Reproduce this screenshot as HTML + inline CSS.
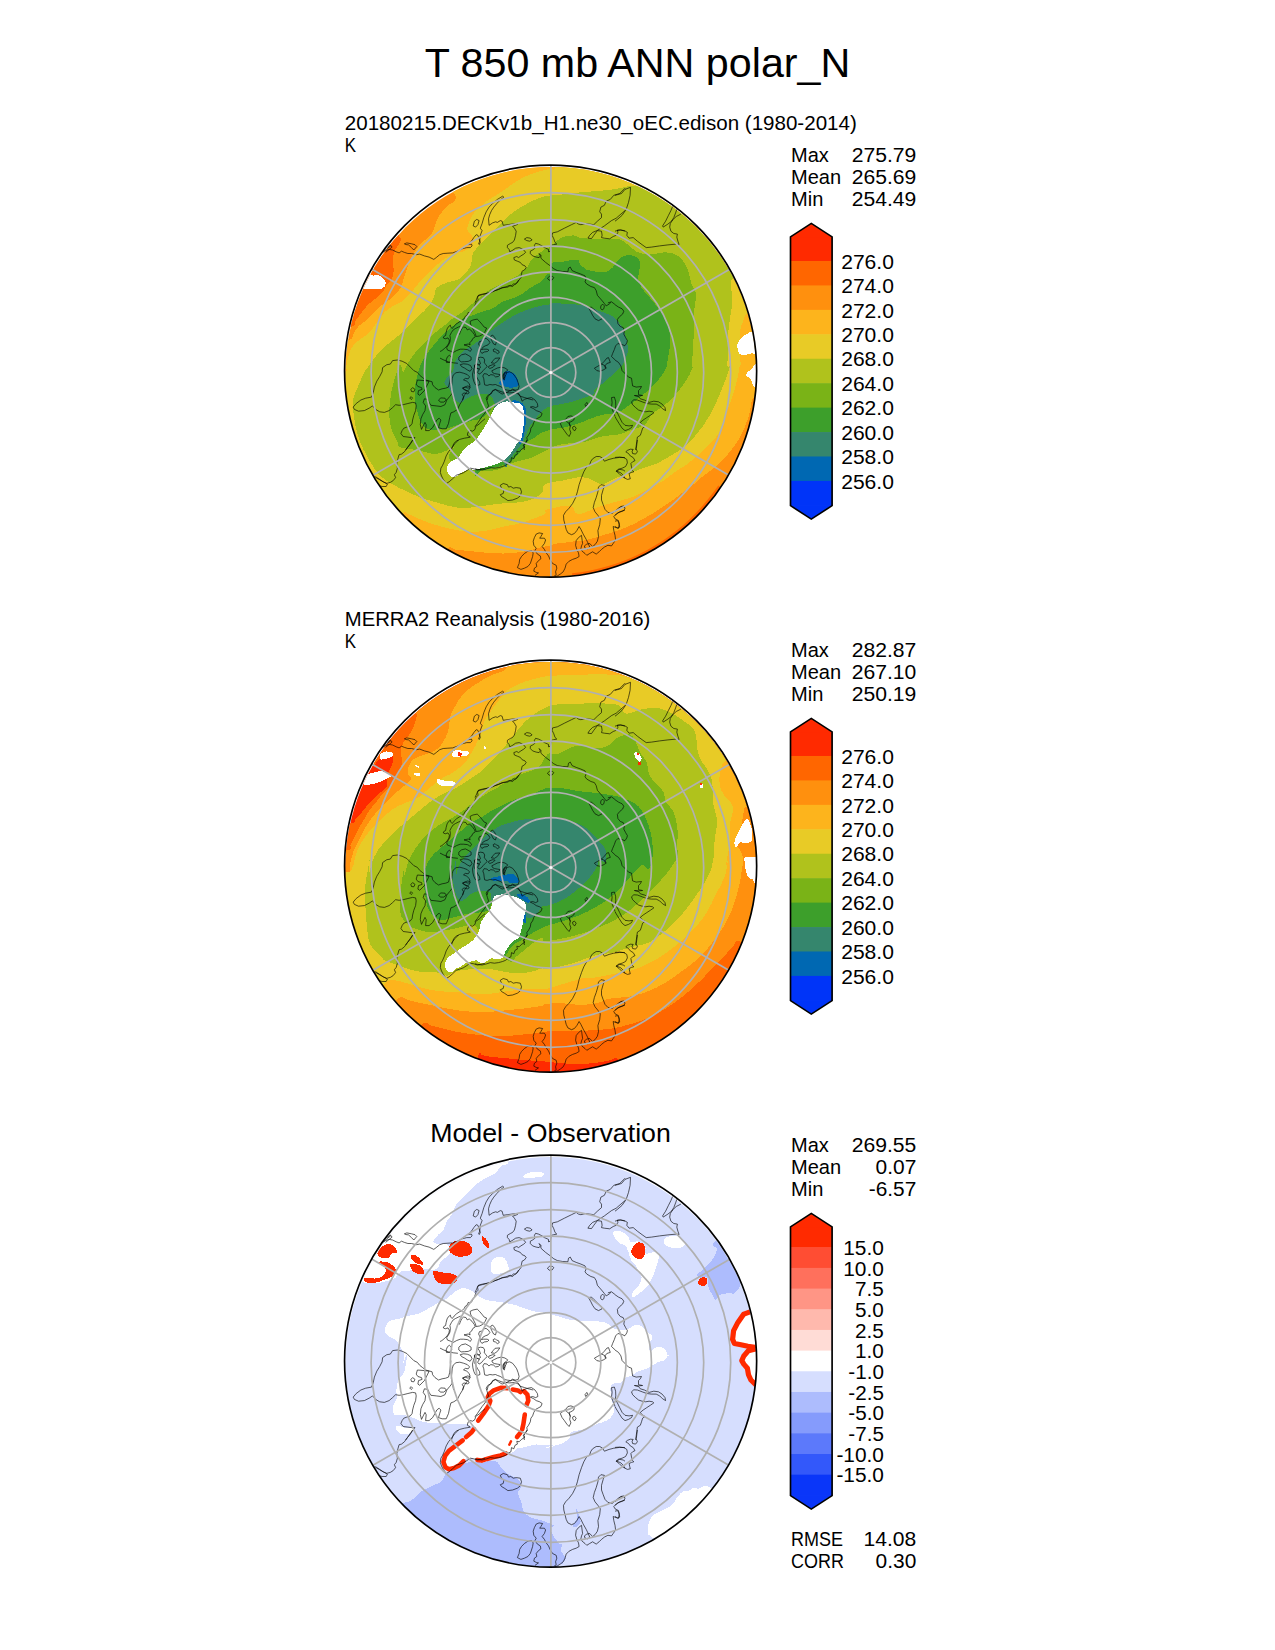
<!DOCTYPE html><html><head><meta charset="utf-8"><title>T 850 mb ANN polar_N</title>
<style>html,body{margin:0;padding:0;background:#fff}svg{display:block}text{font-family:"Liberation Sans",sans-serif;fill:#000}</style></head><body>
<svg width="1275" height="1650" viewBox="0 0 1275 1650">
<rect width="1275" height="1650" fill="#fff"/>
<text x="637.5" y="76.9" font-size="39.75" text-anchor="middle" textLength="425.6" lengthAdjust="spacingAndGlyphs">T 850 mb ANN polar_N</text>
<text x="344.8" y="129.6" font-size="19.88" text-anchor="start" textLength="512.0" lengthAdjust="spacingAndGlyphs">20180215.DECKv1b_H1.ne30_oEC.edison (1980-2014)</text>
<text x="344.8" y="152.0" font-size="19.88" text-anchor="start" textLength="11.3" lengthAdjust="spacingAndGlyphs">K</text>
<text x="344.8" y="625.7" font-size="19.88" text-anchor="start" textLength="305.5" lengthAdjust="spacingAndGlyphs">MERRA2 Reanalysis (1980-2016)</text>
<text x="344.8" y="647.9" font-size="19.88" text-anchor="start" textLength="11.3" lengthAdjust="spacingAndGlyphs">K</text>
<text x="550.5" y="1141.5" font-size="25.40" text-anchor="middle" textLength="240.7" lengthAdjust="spacingAndGlyphs">Model - Observation</text>
<text x="791.0" y="161.6" font-size="19.88" text-anchor="start" textLength="37.8" lengthAdjust="spacingAndGlyphs">Max</text>
<text x="916.3" y="161.6" font-size="19.88" text-anchor="end" textLength="64.6" lengthAdjust="spacingAndGlyphs">275.79</text>
<text x="791.0" y="183.8" font-size="19.88" text-anchor="start" textLength="50.1" lengthAdjust="spacingAndGlyphs">Mean</text>
<text x="916.3" y="183.8" font-size="19.88" text-anchor="end" textLength="64.6" lengthAdjust="spacingAndGlyphs">265.69</text>
<text x="791.0" y="206.0" font-size="19.88" text-anchor="start" textLength="32.3" lengthAdjust="spacingAndGlyphs">Min</text>
<text x="916.3" y="206.0" font-size="19.88" text-anchor="end" textLength="64.6" lengthAdjust="spacingAndGlyphs">254.49</text>
<text x="791.0" y="656.6" font-size="19.88" text-anchor="start" textLength="37.8" lengthAdjust="spacingAndGlyphs">Max</text>
<text x="916.3" y="656.6" font-size="19.88" text-anchor="end" textLength="64.6" lengthAdjust="spacingAndGlyphs">282.87</text>
<text x="791.0" y="678.8" font-size="19.88" text-anchor="start" textLength="50.1" lengthAdjust="spacingAndGlyphs">Mean</text>
<text x="916.3" y="678.8" font-size="19.88" text-anchor="end" textLength="64.6" lengthAdjust="spacingAndGlyphs">267.10</text>
<text x="791.0" y="701.0" font-size="19.88" text-anchor="start" textLength="32.3" lengthAdjust="spacingAndGlyphs">Min</text>
<text x="916.3" y="701.0" font-size="19.88" text-anchor="end" textLength="64.6" lengthAdjust="spacingAndGlyphs">250.19</text>
<text x="791.0" y="1151.6" font-size="19.88" text-anchor="start" textLength="37.8" lengthAdjust="spacingAndGlyphs">Max</text>
<text x="916.3" y="1151.6" font-size="19.88" text-anchor="end" textLength="64.6" lengthAdjust="spacingAndGlyphs">269.55</text>
<text x="791.0" y="1173.8" font-size="19.88" text-anchor="start" textLength="50.1" lengthAdjust="spacingAndGlyphs">Mean</text>
<text x="916.3" y="1173.8" font-size="19.88" text-anchor="end" textLength="40.7" lengthAdjust="spacingAndGlyphs">0.07</text>
<text x="791.0" y="1196.0" font-size="19.88" text-anchor="start" textLength="32.3" lengthAdjust="spacingAndGlyphs">Min</text>
<text x="916.3" y="1196.0" font-size="19.88" text-anchor="end" textLength="47.5" lengthAdjust="spacingAndGlyphs">-6.57</text>
<text x="791.0" y="1546.0" font-size="19.88" text-anchor="start" textLength="52.0" lengthAdjust="spacingAndGlyphs">RMSE</text>
<text x="916.3" y="1546.0" font-size="19.88" text-anchor="end" textLength="52.7" lengthAdjust="spacingAndGlyphs">14.08</text>
<text x="791.0" y="1568.0" font-size="19.88" text-anchor="start" textLength="52.9" lengthAdjust="spacingAndGlyphs">CORR</text>
<text x="916.3" y="1568.0" font-size="19.88" text-anchor="end" textLength="40.7" lengthAdjust="spacingAndGlyphs">0.30</text>
<clipPath id="cp0"><circle cx="550.6" cy="371.1" r="206.05"/></clipPath>
<g clip-path="url(#cp0)">
<circle cx="550.9" cy="372.5" r="205.4" fill="#ff900e"/>
<clipPath id="dp0"><circle cx="550.9" cy="372.5" r="205.4"/></clipPath>
<g clip-path="url(#dp0)">
<path d="M399.7 236.8 C402.6 239.9 401.3 238.9 400.6 241.1 C399.8 243.3 396.7 246.8 395.4 249.7 C394.1 252.6 393.1 254.9 392.8 258.4 C392.5 261.8 393.8 267 393.7 270.4 C393.5 273.9 393.1 276.8 391.9 279.1 C390.8 281.4 388.2 282.2 386.8 284.2 C385.3 286.2 385 288.8 383.3 291.1 C381.6 293.4 379 295.7 376.4 298 C373.8 300.3 370.4 302.4 367.8 304.9 C365.2 307.5 362.9 311 360.9 313.6 C358.9 316.2 357.1 318.3 355.7 320.5 C354.3 322.6 356.3 326.3 352.3 326.5 C348.3 326.7 333.2 328.5 331.7 321.8 C330.2 315 338.4 297.4 343.3 285.8 C348.1 274.2 354 262.9 360.7 252.3 C367.4 241.7 377 224.8 383.5 222.2 C390 219.6 396.9 233.6 399.7 236.8Z" fill="#ff6600" shape-rendering="crispEdges"/>
<path d="M741.6 501.1 L735.8 509.3 L729.6 517.2 L723.2 524.9 L716.3 532.3 L709.2 539.3 L701.8 546.1 L694.1 552.5 L686.1 558.6 L677.8 564.3 L669.4 569.6 L660.6 574.6 L651.7 579.2 L642.6 583.4 L633.3 587.2 L623.9 590.6 L614.3 593.6 L604.6 596.1 L594.8 598.3 L584.9 600 L574.9 601.2 L572 573.3 L580.7 572.2 L589.4 570.7 L598 568.8 L606.6 566.6 L615 564 L623.3 561 L631.4 557.7 L639.4 554 L647.2 549.9 L654.9 545.6 L662.3 540.9 L669.6 535.8 L676.6 530.5 L683.4 524.9 L689.9 519 L696.1 512.8 L702.1 506.3 L707.8 499.6 L713.2 492.6 L718.3 485.4Z" fill="#ff6600"/>
<path d="M754.6 396.1 C750.3 399.1 751.1 409.9 748.6 416.8 C746.2 423.7 743.1 431.6 740 437.5 C736.8 443.4 733 447.9 729.6 452.1 C726.3 456.3 723.1 459.6 720 462.7 C716.8 465.7 713.9 468 710.6 470.6 C707.4 473.2 703.6 475.6 700.6 478 C697.7 480.4 696 482.5 693 484.9 C690.1 487.3 686.4 489.8 683 492.3 C679.7 494.8 676.4 497.5 673 499.9 C669.7 502.3 666.2 504.6 662.9 506.8 C659.5 509.1 656.2 511.4 652.8 513.4 C649.5 515.4 646.2 517.2 642.8 519.1 C639.5 520.9 636.2 522.9 632.8 524.4 C629.5 526 626.2 527.3 622.8 528.6 C619.5 529.9 616.2 531.3 612.8 532.4 C609.4 533.5 606 534.3 602.6 535.3 C599.3 536.3 596 537.5 592.6 538.4 C589.3 539.3 586 540.3 582.6 540.8 C579.3 541.3 575.5 541.2 572.6 541.5 C569.7 541.8 567.5 542.4 565 542.7 C562.5 543 560 543 557.6 543.4 C555.2 543.8 553 544.8 550.9 545.3 C548.8 545.8 546.5 546.2 545 546.5 C543.5 546.8 545.4 546.2 542.1 547 C538.7 547.8 530.6 550.3 524.8 551.4 C519.1 552.4 513.3 553.1 507.5 553.4 C501.8 553.7 496 553.4 490.3 553.1 C484.5 552.7 478.8 551.9 473 551.4 C467.3 550.8 460 550.1 455.8 549.6 C451.6 549.1 451.1 545.4 448 548.2 C444.9 551.1 443.7 566.8 437.2 566.7 C430.8 566.5 418.1 554.5 409.4 547.4 C400.7 540.4 392.4 532.5 384.8 524.2 C377.2 515.9 370.2 507 363.9 497.6 C357.6 488.3 352 478.4 347.3 468.2 C342.5 458 338.4 447.3 335.2 436.6 C332 425.8 329.6 414.6 328 403.5 C326.5 392.4 325.8 381 325.9 369.7 C326.1 358.5 324.9 341.1 328.9 336 C332.8 331 345.5 340 349.7 339.5 C353.9 338.9 352.4 334.8 354 332.5 C355.6 330.2 357.1 327.7 359.2 325.6 C361.2 323.6 363.8 322.5 366.1 320.5 C368.4 318.5 370.7 315.9 373 313.6 C375.3 311.3 377.6 308.7 379.9 306.7 C382.2 304.7 384.5 303.2 386.8 301.5 C389.1 299.8 391.4 298.6 393.7 296.3 C396 294 398.8 290.8 400.6 287.7 C402.3 284.5 402.9 280.8 404 277.3 C405.2 273.9 406.3 270.1 407.5 267 C408.6 263.8 409.5 261.2 410.9 258.4 C412.4 255.5 414.4 252.3 416.1 249.7 C417.8 247.1 419.3 244.8 421.3 242.8 C423.3 240.8 426.2 239.7 428.2 237.6 C430.2 235.6 431.9 233.6 433.4 230.7 C434.8 227.9 435.4 223.6 436.8 220.4 C438.2 217.2 440 214.4 442 211.8 C444 209.2 446.6 207.3 448.9 204.9 C451.2 202.4 456.7 202.1 455.8 197.1 C454.9 192.1 440.7 180.7 443.6 174.7 C446.6 168.7 463.2 165 473.5 161.2 C483.7 157.5 494.3 154.5 504.9 152.3 C515.6 150 526.5 148.6 537.3 147.9 C548.2 147.3 559.2 147.4 570 148.3 C580.9 149.2 591.8 151 602.4 153.5 C612.9 155.9 623.5 159.2 633.6 163.2 C643.7 167.2 653.6 172 663 177.4 C672.5 182.9 681.6 189 690.1 195.8 C698.7 202.5 706.8 209.9 714.3 217.8 C721.8 225.7 728.7 234.2 735 243.1 C741.3 252 746.9 261.5 751.8 271.2 C756.7 280.9 760.9 291.1 764.4 301.4 C767.8 311.7 770.5 322.4 772.4 333.1 C774.3 343.8 775.5 354.8 775.8 365.7 C776.1 376.5 777.9 393.3 774.4 398.3 C770.9 403.4 758.9 393 754.6 396.1Z" fill="#fdb41c" shape-rendering="crispEdges"/>
<path d="M550.7 168.6 C551.4 168.5 554.5 171.3 555.4 167.8 C556.2 164.3 550.5 150.4 555.8 147.6 C561.1 144.7 576.8 148.7 587.1 150.4 C597.4 152.1 607.7 154.5 617.7 157.6 C627.7 160.7 637.5 164.6 647 169 C656.4 173.5 665.6 178.7 674.4 184.4 C683.1 190.1 691.5 196.6 699.4 203.5 C707.2 210.3 714.7 217.9 721.5 225.8 C728.3 233.7 734.6 242.2 740.3 251 C745.9 259.8 751 269.1 755.4 278.6 C759.7 288.1 767.7 302.1 766.4 308 C765.2 313.8 751.6 311.5 747.7 313.6 C743.9 315.7 744.7 317.6 743.4 320.5 C742.1 323.3 740.6 327.4 740 330.8 C739.4 334.3 740.1 338 740 341.2 C739.8 344.3 739.1 347.2 739.1 349.8 C739.1 352.4 739.7 353.8 740 356.7 C740.3 359.6 740.8 365.7 740.8 367.1 C740.8 368.4 740.7 362.5 740 365 C739.3 367.5 738 376.5 736.5 382.3 C735.1 388 733.4 393.8 731.4 399.5 C729.3 405.3 726.3 411.4 724.5 416.8 C722.6 422.1 722.3 427.1 720 431.4 C717.7 435.8 714.3 438.9 710.6 442.8 C707 446.8 702.2 451.5 698.1 455.2 C693.9 459 688.8 462.8 685.5 465.3 C682.1 467.7 680.5 468.2 678 469.9 C675.5 471.6 673 473.6 670.4 475.4 C667.9 477.3 665.8 479.1 662.9 481 C659.9 482.8 656.2 484.8 652.8 486.6 C649.5 488.5 646.2 490.4 642.8 492.2 C639.5 493.9 636.2 495.7 632.8 497 C629.5 498.3 626.2 499 622.8 499.9 C619.5 500.9 615.9 501.8 612.8 502.7 C609.7 503.6 606.9 504.2 604 505.1 C601.1 506 597.9 507.2 595.2 508.2 C592.5 509.3 590.1 510.4 587.6 511.3 C585.1 512.3 582.3 513.7 580.2 513.9 C578.1 514.1 576.5 513.9 575.2 512.7 C573.9 511.5 574.3 508 572.6 506.8 C570.9 505.7 567.5 505.8 565 505.8 C562.5 505.8 560 506.5 557.6 507 C555.2 507.5 553 508.4 550.9 508.9 C548.8 509.4 546 509.3 545 510.1 C544 510.9 547.6 512.2 545 513.9 C542.4 515.6 534 518.6 529.3 520.3 C524.6 522 520.9 523.1 516.7 524.1 C512.5 525.1 508.3 525.6 504.1 526.5 C499.9 527.4 495.8 528.8 491.7 529.6 C487.5 530.4 483.3 531.2 479.1 531.5 C474.9 531.8 470.7 531.8 466.5 531.5 C462.3 531.2 458.2 530.4 454.1 529.6 C449.9 528.8 445.7 527.7 441.5 526.5 C437.3 525.4 433 524.2 428.9 522.7 C424.7 521.2 420 519.2 416.4 517.7 C412.9 516.2 409.7 514.5 407.5 513.7 C405.3 513 406.4 510.7 403.2 513 C399.9 515.4 394.1 529.6 387.9 527.6 C381.7 525.6 372.7 510.3 366.1 500.9 C359.6 491.5 353.7 481.5 348.7 471.2 C343.7 460.9 339.4 450.1 336 439.2 C332.6 428.3 330 416.9 328.3 405.6 C326.7 394.3 323 377 325.9 371.3 C328.8 365.6 342.3 372.1 345.7 371.4 C349.1 370.7 345.8 369.2 346.2 367.1 C346.6 364.9 347.2 361.3 347.9 358.4 C348.7 355.6 349.2 352.4 350.5 349.8 C351.8 347.2 353.7 344.9 355.7 342.9 C357.7 340.9 360.3 339.5 362.6 337.7 C364.9 336 367.5 334.6 369.5 332.5 C371.5 330.5 373 327.9 374.7 325.6 C376.4 323.3 378.1 321 379.9 318.7 C381.6 316.4 383 313.9 385 311.8 C387.1 309.8 389.6 308.1 391.9 306.7 C394.2 305.2 396.8 304.4 398.8 303.2 C400.9 302.1 402 301.5 404 299.8 C406 298 408.6 295.5 410.9 292.9 C413.2 290.3 415.5 286.8 417.8 284.2 C420.1 281.6 422.4 279.6 424.7 277.3 C427 275 429.3 272.7 431.6 270.4 C433.9 268.1 436.2 265.5 438.5 263.5 C440.8 261.5 443.1 259.9 445.4 258.4 C447.7 256.8 449.5 255.2 452.3 254 C455.2 252.9 459.5 252.7 462.7 251.5 C465.8 250.2 469.6 248.6 471.3 246.3 C473 244 473.6 240.2 473 237.6 C472.5 235.1 468.7 232.8 467.9 230.7 C467 228.7 467.3 227.9 467.9 225.6 C468.4 223.3 469.9 219.5 471.3 216.9 C472.8 214.4 474.5 212.2 476.5 210 C478.5 207.9 481.1 205.9 483.4 204 C485.7 202.1 487.7 200.5 490.3 198.8 C492.9 197.1 496 195.5 498.9 193.6 C501.8 191.8 504.7 189.6 507.5 187.6 C510.4 185.6 513.3 183.4 516.2 181.6 C519.1 179.8 521.9 178.1 524.8 176.7 C527.7 175.4 530.6 174.5 533.4 173.5 C536.3 172.5 539.2 171.5 542.1 170.7 C545 169.9 549.4 169 550.9 168.6 C552.3 168.3 549.9 168.8 550.7 168.6Z" fill="#e8cb26" shape-rendering="crispEdges"/>
<path d="M550.7 195.4 C552.6 195.2 557.5 195 562.3 194.5 C567.1 194 573.8 193 579.5 192.4 C585.3 191.9 591 191.6 596.8 191.1 C602.5 190.5 608.3 190.2 614 189.3 C619.8 188.5 626.7 186.2 631.3 185.9 C635.9 185.6 638.8 186.9 641.6 187.6 C644.5 188.3 646.1 189.2 648.5 190.2 C651 191.2 653.5 195.6 656.3 193.6 C659.1 191.7 659.3 178.2 665.1 178.7 C670.9 179.1 683 190 691.2 196.6 C699.4 203.1 707.2 210.3 714.4 218 C721.7 225.6 728.4 233.8 734.5 242.4 C740.6 251 751.3 263.3 750.9 269.4 C750.5 275.5 735.5 275.7 732.2 279.1 C729 282.4 731.4 285.4 731.4 289.4 C731.4 293.4 732.4 298.9 732.2 303.2 C732.1 307.5 731.2 310.4 730.5 315.3 C729.8 320.2 728.7 326.8 728.2 332.5 C727.8 338.3 728 344.1 727.9 349.8 C727.8 355.6 727.1 364.5 727.6 367.1 C728 369.6 731 362.5 730.5 365 C730 367.5 726.6 376.5 724.5 382.3 C722.3 388 720.1 393.8 717.5 399.5 C715 405.3 712.4 411 708.9 416.8 C705.5 422.5 701.2 428.8 696.8 434 C692.5 439.2 687.6 444.1 683 447.8 C678.4 451.6 673.8 453.7 669.2 456.5 C664.6 459.2 660 462.2 655.4 464.2 C650.8 466.2 645.7 467.1 641.6 468.5 C637.6 470 635.3 471.4 631.3 472.8 C627.2 474.3 622.1 475.3 617.5 477.2 C612.9 479 607.1 483.2 603.7 484.1 C600.2 484.9 599.1 483.2 596.8 482.3 C594.5 481.5 592.7 479.7 589.9 478.9 C587 478 584.1 476.9 579.5 477.2 C574.9 477.4 568 479.5 562.3 480.6 C556.5 481.8 548.4 482 545 484.1 C541.6 486.1 544 490.2 542.1 492.7 C540.1 495.1 536.9 497.1 533.4 498.7 C530 500.3 525.7 501.5 521.4 502.2 C517 502.9 512.7 502.6 507.5 503 C502.4 503.5 496 504 490.3 504.8 C484.5 505.5 478.8 506.9 473 507.4 C467.3 507.8 461.5 508.1 455.8 507.4 C450 506.6 444.3 504.6 438.5 503 C432.8 501.5 426.5 499.7 421.3 497.9 C416.1 496 412.4 494.1 407.5 491.8 C402.6 489.5 396.5 486.8 391.9 484.1 C387.3 481.3 383.3 478.9 379.9 475.4 C376.4 472 374 467.7 371.2 463.4 C368.5 459 365.8 454.4 363.5 449.5 C361.2 444.7 359 439.5 357.4 434 C355.8 428.6 354.7 422.5 354 416.8 C353.3 411 352 405.6 353.1 399.5 C354.3 393.4 359.2 384.3 360.9 380 C362.6 375.7 362.3 376.1 363.5 374 C364.6 371.8 366.2 369.4 367.8 367.1 C369.4 364.8 371.2 362.5 373 360.2 C374.7 357.9 376.1 355.6 378.1 353.3 C380.2 351 382.5 348.7 385 346.4 C387.6 344.1 390.8 341.8 393.7 339.5 C396.5 337.2 399.4 335.1 402.3 332.5 C405.2 330 408 326.8 410.9 323.9 C413.8 321 416.7 318.2 419.5 315.3 C422.4 312.4 425.7 309.8 428.2 306.7 C430.6 303.5 432.8 299.5 434.2 296.3 C435.7 293.2 434.6 290 436.8 287.7 C439 285.4 443.4 283.9 447.2 282.5 C450.9 281.1 455.8 281.1 459.2 279.1 C462.7 277 465.8 273 467.9 270.4 C469.9 267.8 470.5 266.4 471.3 263.5 C472.2 260.7 471.6 256.3 473 253.2 C474.5 250 477.6 247.1 479.9 244.5 C482.2 242 484.5 239.9 486.8 237.6 C489.1 235.3 491.4 233 493.7 230.7 C496 228.4 498.3 226.1 500.6 223.8 C502.9 221.5 505 219.2 507.5 216.9 C510.1 214.6 513.3 212.1 516.2 210 C519.1 208 521.9 206.4 524.8 204.9 C527.7 203.3 530.6 201.8 533.4 200.5 C536.3 199.3 539.2 198 542.1 197.1 C545 196.2 549.4 195.7 550.9 195.4 C552.3 195.1 548.8 195.5 550.7 195.4Z" fill="#b0c21c" shape-rendering="crispEdges"/>
<path d="M550.7 246.3 C551.5 245.3 554.1 243 555.9 241.6 C557.7 240.2 559.5 238.8 561.6 237.8 C563.6 236.9 565.9 236.3 568.1 235.9 C570.3 235.5 572.8 235.3 574.7 235.6 C576.5 235.8 577.8 237 579.3 237.5 C580.9 237.9 581.8 238.1 584.2 238.3 C586.5 238.6 589.2 238.7 593.5 238.9 C597.8 239 605.8 239.3 610.1 239.4 C614.3 239.4 616.2 238.2 619.2 239 C622.2 239.9 624.9 242.5 627.8 244.5 C630.7 246.6 633 249.8 636.5 251.5 C639.9 253.1 643.6 254.4 648.5 254.6 C653.4 254.7 660.9 252.1 665.8 252.3 C670.7 252.5 674.7 253.9 677.9 255.8 C681 257.6 682.9 260.5 684.8 263.5 C686.6 266.5 687.9 270.4 689.1 273.9 C690.2 277.3 690.5 281.1 691.7 284.2 C692.8 287.4 695.4 289.7 696 292.9 C696.6 296 695.5 299.5 695.1 303.2 C694.7 307 694 310.4 693.7 315.3 C693.5 320.2 693.9 326.8 693.7 332.5 C693.6 338.3 693.4 344.1 693 349.8 C692.7 355.6 691.6 364.5 691.7 367.1 C691.7 369.6 693.8 363.6 693.4 365 C693 366.4 691.1 371.6 689.1 375.4 C687.1 379.1 684.3 383.4 681.3 387.4 C678.3 391.5 674.4 396.1 671 399.5 C667.5 403 663.8 405.7 660.6 408.1 C657.4 410.6 654.6 411.4 652 414.2 C649.4 416.9 648 422.1 645.1 424.5 C642.2 427 638.5 427.4 634.7 428.8 C631 430.3 625.1 432.3 622.6 433.2 C620.2 434.1 621.6 433.9 620 434.2 C618.4 434.6 615.7 434.9 612.9 435.2 C610.2 435.5 606.7 435.5 603.5 436.1 C600.4 436.7 597.3 438 594.1 438.9 C591 439.9 587.8 441.1 584.7 441.8 C581.6 442.5 578.4 442.9 575.3 443.2 C572.2 443.5 568.7 443.3 565.9 443.6 C563.1 444 560.8 444.4 558.4 445.1 C555.9 445.8 552.8 447 550.9 447.9 C549 448.7 548.8 449.4 547.1 450.2 C545.3 451.1 542.4 452.1 540.5 453.1 C538.6 454 537.8 454.9 535.8 455.9 C533.7 456.8 530.7 457.9 528.2 458.7 C525.7 459.5 523.1 460 520.7 460.6 C518.4 461.2 516 461.8 514.1 462.5 C512.2 463.1 511.8 463.3 509.4 464.4 C507.1 465.5 503.6 467.9 500 469.1 C496.4 470.2 491.5 470.7 487.8 471.1 C484.1 471.4 480.7 471.2 477.8 471.1 C474.9 471 473.4 471.2 470.3 470.4 C467.1 469.7 462.3 468.3 459 466.7 C455.6 465 451.9 462.3 450.2 460.4 C448.5 458.5 448.7 457 448.9 455.4 C449.2 453.7 450.4 451.8 451.5 450.4 C452.5 448.9 455.4 446.9 455.2 446.6 C455 446.3 452.5 447.4 450.2 448.5 C447.9 449.5 444.5 452 441.4 452.9 C438.3 453.7 435.1 453.9 431.4 453.5 C427.6 453.1 424.1 451.4 418.8 450.4 C413.6 449.3 403.6 448.8 400 447.2 C396.4 445.6 398.5 443.7 397.1 440.9 C395.8 438.1 393.2 434.6 391.9 430.6 C390.6 426.5 389.6 421.9 389.4 416.8 C389.1 411.6 389.5 405.3 390.2 399.5 C390.9 393.8 392.1 388 393.7 382.3 C395.2 376.5 398.1 366.7 399.7 365 C401.3 363.3 402.2 371.9 403.2 372.2 C404.2 372.6 404.5 369.4 405.7 367.1 C407 364.8 408.9 361.3 410.9 358.4 C412.9 355.6 415.5 352.4 417.8 349.8 C420.1 347.2 422.4 345.2 424.7 342.9 C427 340.6 429.3 338.2 431.6 336 C433.9 333.8 436.2 331.8 438.5 330 C440.8 328.1 443.1 326.7 445.4 324.8 C447.7 322.9 449.5 320.9 452.3 318.7 C455.2 316.6 459.2 314.4 462.7 311.8 C466.1 309.3 469.9 305.8 473 303.2 C476.2 300.6 478.8 298.6 481.7 296.3 C484.5 294 487 291.5 489.9 289.6 C492.9 287.7 496.3 286.5 499.4 284.9 C502.6 283.4 505.9 281.7 508.8 280.3 C511.6 278.9 514.3 277.7 516.3 276.5 C518.4 275.2 519.3 274.1 521 272.7 C522.7 271.3 525.1 269.9 526.7 268 C528.3 266.1 529.1 263.4 530.5 261.5 C531.9 259.6 533.4 258.2 535.2 256.6 C536.9 255 539 253.4 540.9 252 C542.7 250.6 544.9 248.9 546.5 248.2 C548.2 247.4 550.2 247.6 550.9 247.3 C551.6 247 549.9 247.2 550.7 246.3Z" fill="#7ab317" shape-rendering="crispEdges"/>
<path d="M550.7 263.5 C552.6 261.7 557.9 262.4 562.3 261.8 C566.6 261.2 573.9 259.3 576.9 259.7 C579.9 260.2 578.8 262.8 580.4 264.4 C582 266 583.7 268.3 586.4 269.6 C589.1 270.8 593.6 271.4 596.8 271.8 C599.9 272.2 602.8 272.8 605.4 272.2 C608 271.5 610.3 269.7 612.3 267.8 C614.3 266 615.7 262.8 617.5 260.9 C619.2 259.1 620.6 257.6 622.6 256.6 C624.7 255.7 627.2 255.2 629.5 255.2 C631.8 255.3 634.7 255.7 636.5 257 C638.2 258.2 639.8 260.1 640.2 262.7 C640.7 265.2 639.4 269.4 639 272.2 C638.7 274.9 637.7 276.5 638.2 279.1 C638.6 281.6 639.9 284.8 641.6 287.7 C643.4 290.6 645.9 293.2 648.5 296.3 C651.1 299.5 654.6 303.2 657.2 306.7 C659.7 310.1 662.2 313.6 664.1 317 C665.9 320.5 667.4 323.9 668.4 327.4 C669.4 330.8 669.9 334.3 670.1 337.7 C670.3 341.2 670 344.6 669.6 348.1 C669.2 351.5 668.5 355 667.9 358.4 C667.2 361.9 667.9 364.5 665.8 368.8 C663.6 373 659.1 379.4 654.9 384 C650.7 388.6 646.5 392 640.7 396.6 C634.9 401.2 624.6 408.8 620 411.6 C615.4 414.5 615.7 413.1 612.9 413.5 C610.2 414 606.7 413.8 603.5 414.5 C600.4 415.1 597.3 416.2 594.1 417.3 C591 418.4 587.1 420.1 584.7 421.1 C582.4 422 581.6 422.4 580 422.9 C578.4 423.5 577.6 423.6 575.3 424.4 C572.9 425.1 569 426.5 565.9 427.2 C562.7 427.9 559 428.2 556.5 428.6 C554 429 553.3 428.9 550.9 429.5 C548.6 430.2 544.6 431.4 542.4 432.4 C540.1 433.3 539.1 434.2 537.6 435.2 C536.2 436.1 535.5 437 533.9 438 C532.3 439 529.6 440 528.2 441.3 C526.8 442.5 526.5 444 525.4 445.5 C524.3 447 523.1 448.5 521.6 450.2 C520.2 452 518.5 454.2 516.9 455.9 C515.4 457.5 513.6 458.9 512.2 460.1 C510.8 461.4 509.4 462.7 508.5 463.4 C507.5 464.1 508 463.7 506.7 464.2 C505.3 464.6 502.5 465.4 500.4 466 C498.3 466.7 496.2 467.4 494.1 467.9 C492 468.4 489.9 468.8 487.8 469.2 C485.8 469.6 483.7 470.1 481.6 470.4 C479.5 470.7 473.3 481.5 475.3 471.1 C477.3 460.6 491 417.8 493.5 407.7 C496 397.5 491.5 409.2 490.4 410.2 C489.2 411.2 488.3 412.5 486.6 414 C484.9 415.4 482.6 417.9 480.3 419 C478 420 475.3 419.6 472.8 420.2 C470.3 420.9 468 421.9 465.3 422.7 C462.5 423.6 459.4 424.3 456.5 425.3 C453.5 426.2 451 427.7 447.7 428.4 C444.3 429.1 439.8 429.6 436.4 429.6 C432.9 429.7 429.5 429.9 427 428.8 C424.5 427.6 422.9 425.4 421.3 422.7 C419.8 420.1 418.6 416.3 417.6 412.7 C416.5 409.2 415.5 405 415.1 401.4 C414.6 397.9 414.7 394.5 414.8 391.4 C414.9 388.2 415 386.1 415.7 382.6 C416.3 379.1 417.5 374.2 418.7 370.5 C419.9 366.8 421.1 363.6 423 360.2 C424.9 356.7 427.3 353.3 429.9 349.8 C432.5 346.4 435.7 342.6 438.5 339.5 C441.4 336.3 444.3 333.4 447.2 330.8 C450 328.2 452.9 326.1 455.8 323.9 C458.7 321.8 461.5 319.3 464.4 317.9 C467.3 316.4 470.2 316.3 473 315.3 C475.9 314.3 478.8 312.8 481.7 311.8 C484.5 310.9 487.6 310.3 489.9 309.4 C492.3 308.6 493.6 307.9 495.6 306.7 C497.7 305.4 499.2 303.3 502.2 301.8 C505.2 300.4 510.1 299.4 513.6 298 C517 296.6 520.1 295.1 522.9 293.4 C525.7 291.7 528.1 289.2 530.5 287.7 C532.9 286.1 535 285.3 537.1 284.1 C539.1 282.8 541.2 281.8 542.7 280.3 C544.3 278.7 545.2 275.8 546.5 274.6 C547.9 273.3 550.2 274.5 550.9 272.7 C551.6 270.8 548.8 265.3 550.7 263.5Z" fill="#3d9f2b" shape-rendering="crispEdges"/>
<path d="M550.7 302.9 C552.6 302.8 557.5 303.2 562.3 303.6 C567.1 303.9 574.9 304.3 579.5 304.9 C584.1 305.6 586.1 306.4 589.9 307.5 C593.6 308.7 598.2 310.4 601.9 311.8 C605.7 313.3 609.6 314.4 612.3 316.2 C615 317.9 616.5 319.9 618.3 322.2 C620.2 324.5 622.1 326.8 623.5 330 C624.9 333.1 626.2 337.6 627 341.2 C627.7 344.8 628 351 628.2 351.5 C628.4 352.1 628.4 344.2 628.2 344.6 C628.1 345 628.1 350.9 627.3 354 C626.5 357.1 625.3 360.6 623.5 363.4 C621.8 366.2 619.3 368.6 616.9 370.9 C614.6 373.3 611.9 375.3 609.4 377.5 C606.9 379.7 604.4 382.1 601.9 384.1 C599.4 386.2 595.6 388.2 594.4 389.8 C593.1 391.4 595.7 392.5 594.1 393.8 C592.5 395.1 587.8 396.4 584.7 397.5 C581.6 398.7 578.4 399.9 575.3 400.8 C572.2 401.8 569 402.5 565.9 403.2 C562.7 403.9 559 404.6 556.5 405.1 C554 405.5 552.8 405.4 550.9 406 C549 406.6 546.8 407.8 545.2 408.8 C543.6 409.8 542.7 410.9 541.4 412.1 C540.2 413.4 539.1 414.7 537.6 416.4 C536.2 418 534.4 420.1 532.9 422 C531.5 423.9 530.3 425.6 529.2 427.6 C528.1 429.7 527.3 432 526.4 434.2 C525.4 436.4 524.5 438.9 523.5 440.8 C522.5 442.7 521.3 444 520.2 445.5 C519.1 447.1 518.3 448.5 516.9 450.2 C515.6 452 513.6 454.2 512.2 455.9 C510.8 457.6 509.7 459.2 508.5 460.6 C507.2 462 506.9 473.2 504.7 464.4 C502.5 455.5 497.1 418 495.4 407.7 C493.6 397.4 494.6 404.3 494.1 402.7 C493.6 401 493.3 399 492.2 397.6 C491.2 396.3 489.8 395.1 487.8 394.5 C485.9 393.9 482.8 393.7 480.3 393.9 C477.8 394.1 475.3 394.8 472.8 395.8 C470.3 396.7 467.3 398.4 465.3 399.5 C463.2 400.7 461.9 402.6 460.2 402.7 C458.6 402.8 456.9 402.2 455.2 400.2 C453.5 398.1 452 392.9 450.2 390.1 C448.4 387.3 445.1 385.3 444.5 383.2 C444 381.1 445.7 379.6 447.1 377.6 C448.4 375.6 451.3 374.2 452.7 371.3 C454.2 368.4 454.1 363.5 455.8 360.2 C457.4 356.9 460.4 353.7 462.7 351.5 C465 349.4 467 348.9 469.6 347.2 C472.2 345.5 475.3 343.3 478.2 341.2 C481.1 339 484 336.6 486.8 334.3 C489.7 332 492.3 329.7 495.5 327.4 C498.6 325.1 502.4 322.6 505.8 320.5 C509.3 318.3 512.4 316.3 516.2 314.4 C519.9 312.6 524.2 310.7 528.3 309.3 C532.3 307.8 536.6 306.7 540.3 305.8 C544.1 304.9 549.1 304.6 550.9 304.1 C552.6 303.6 548.8 303 550.7 302.9Z" fill="#35866d" shape-rendering="crispEdges"/>
<path d="M504.2 372.5 C505.1 371.5 507.5 371.1 509.2 371.3 C510.8 371.5 512.8 372.5 514.2 373.8 C515.6 375.1 516.6 377 517.3 378.8 C518.1 380.6 518.9 383.1 518.6 384.5 C518.3 385.8 517 386.5 515.5 387 C513.9 387.5 511.3 387.8 509.2 387.6 C507.1 387.4 504.6 386.4 502.9 385.7 C501.2 385.1 499.6 384.6 499.1 383.8 C498.7 383.1 499.7 382.4 500.4 381.3 C501.1 380.3 502.9 379 503.5 377.6 C504.2 376.1 503.2 373.6 504.2 372.5Z" fill="#0068b2" shape-rendering="crispEdges"/>
<path d="M513.6 400.4 C514.7 400.1 517.9 400.6 519.8 401.7 C521.8 402.7 524.2 404.4 525.2 406.7 C526.3 408.9 526.2 412.1 526.2 415.2 C526.3 418.3 525.9 421.9 525.5 425.3 C525.1 428.6 524.6 432.4 524 435.3 C523.4 438.2 522.7 441.4 522 442.8 C521.3 444.2 520.3 444.2 519.8 443.8 C519.4 443.4 519.1 443.8 519.2 440.3 C519.3 436.8 520.3 427.8 520.5 422.7 C520.7 417.7 521.7 413.4 520.5 410.2 C519.2 407 514.1 404.9 512.9 403.3 C511.8 401.7 512.4 400.7 513.6 400.4Z" fill="#0068b2" shape-rendering="crispEdges"/>
<path d="M493.5 409.6 C494.4 408 495.3 407 496.6 405.8 C498 404.7 500 403.4 501.6 402.7 C503.3 401.9 504.8 401.5 506.7 401.4 C508.5 401.4 510.8 402.1 512.9 402.4 C515 402.7 517.5 402.6 519.2 403.3 C520.9 404 522.2 405.1 523 406.4 C523.7 407.8 523.4 410 523.6 411.5 C523.8 412.9 524.2 412.9 524.2 415.2 C524.2 417.5 523.9 422.1 523.6 425.3 C523.3 428.4 522.9 431.5 522.4 434 C521.8 436.5 521.4 438.6 520.5 440.3 C519.5 442 518 442.4 516.7 444.1 C515.5 445.8 514.2 448.5 512.9 450.4 C511.7 452.2 510.4 453.9 509.2 455.4 C507.9 456.8 506.9 458 505.4 459.1 C503.9 460.3 502.3 461.3 500.4 462.3 C498.5 463.2 496.2 464.1 494.1 464.8 C492 465.5 490.1 466 487.8 466.7 C485.5 467.3 482.6 468 480.3 468.5 C478 469.1 475.9 469.7 474 469.8 C472.2 469.9 470.5 469 469 469.2 C467.6 469.4 466.7 470.3 465.3 471.1 C463.8 471.8 461.9 472.5 460.2 473.6 C458.6 474.6 456.7 476.8 455.2 477.3 C453.8 477.9 452.6 477.3 451.5 476.7 C450.3 476.1 449 474.8 448.3 473.6 C447.6 472.3 447.1 470.7 447.1 469.2 C447.1 467.6 447.4 465.6 448.3 464.2 C449.3 462.7 451.1 461.4 452.7 460.4 C454.3 459.3 456.3 459.1 457.7 457.9 C459.2 456.6 460.2 454.5 461.5 452.9 C462.7 451.2 463.8 449.3 465.3 447.8 C466.7 446.4 468.6 445.3 470.3 444.1 C471.9 442.8 473.8 441.8 475.3 440.3 C476.8 438.8 477.6 437.4 479.1 435.3 C480.5 433.2 482.6 430.1 484.1 427.8 C485.5 425.5 486.7 423.6 487.8 421.5 C489 419.4 490 417.2 491 415.2 C491.9 413.2 492.5 411.1 493.5 409.6Z" fill="#ffffff" shape-rendering="crispEdges"/>
<path d="M371.8 275.3 C373.6 276.1 376.8 274.8 379 275.6 C381.2 276.4 383.6 278.3 384.7 279.9 C385.8 281.5 385.9 283.7 385.4 285.1 C384.9 286.5 384.2 287.9 381.6 288.5 C378.9 289.2 373 288.7 369.5 288.7 C366.1 288.8 362.9 290 360.9 288.7 C358.9 287.4 356.3 283.8 357.4 280.8 C358.6 277.7 365.4 271.4 367.8 270.4 C370.2 269.5 369.9 274.4 371.8 275.3Z" fill="#ffffff" shape-rendering="crispEdges"/>
<path d="M749.5 332.5 C746.9 333.7 743.7 335.7 741.7 337.7 C739.7 339.7 737.8 342 737.4 344.6 C737 347.2 737.8 351.5 739.1 353.3 C740.4 355 743 355 745.2 355 C747.3 355 749.5 353.3 752.1 353.3 C754.6 353.2 758.7 356.6 760.7 354.6 C762.7 352.6 764.7 345.1 764.1 341.2 C763.6 337.2 759.7 332.3 757.2 330.8 C754.8 329.4 752.1 331.4 749.5 332.5Z" fill="#ffffff" shape-rendering="crispEdges"/>
<path d="M756.4 363.3 C754.4 363.8 753.8 366.6 752.1 368.5 C750.3 370.3 746.2 372.6 746 374.5 C745.9 376.4 750 377.8 751.2 379.7 C752.3 381.5 752.1 384.3 752.9 385.7 C753.8 387.1 754.8 387.7 756.4 388.3 C758 388.9 761.1 393 762.4 389.2 C763.7 385.3 765.1 369.3 764.1 365 C763.1 360.7 758.4 362.7 756.4 363.3Z" fill="#ffffff" shape-rendering="crispEdges"/>
</g>
<path d="M382.1 252.9 L385.6 250.6 L389.1 249.4 L392.6 250 L396.2 251.8 L399.1 252.9 L401.5 251.2 L404.4 252.4 L407.9 253.5 L411.5 253.5 L416.2 254.7 L419.7 254.1 L424.4 255.9 L429.1 257.1 L433.8 259.4 L436.2 257.6 L439.7 254.7 L443.2 253.5 L447.9 253.2 L452.6 252.9 L457.4 251.2 L462.1 248.8 L466.8 247.6 L470.3 247.6 L472.1 245.9 L471.5 244.1 L467.9 244.7 L471.5 241.2 L473.8 237.6 L476.2 234.7 L477.9 235.3 L479.1 238.8 L480.3 242.4 L479.1 244.9 M383.2 251.8 L390.9 245.6 M385.6 252.4 L392.1 247.1 L390.3 244.9 L387.4 247.6 M404.4 243.8 L406.8 242.9 L411.5 243.8 L415 244.7 L416.8 246.5 L413.8 250 L411.5 247.6 L408.5 244.9 L405.6 244.5 L404.4 243.8 M474.4 221.2 L476.8 219.4 L479.1 220.6 L477.9 224.7 L475.6 227.1 L473.2 225.9 L474.4 221.2 M478.5 244.1 L479.7 241.2 L480.3 235.3 L482.1 230.6 L480.3 228.2 L482.1 223.5 L483.8 217.6 L486.2 211.8 L489.1 207.1 L492.6 203.5 L497.4 199.4 L502.6 196.2 L503.8 197.1 L500.3 200 L496.8 203.5 L493.8 207.1 L491.5 210.6 L489.7 214.7 L488.5 218.8 L489.1 225.3 L492.6 222.9 L495.6 221.8 L497.4 222.4 L500.3 220.6 L502.1 221.2 L503.2 225.3 L507.4 224.7 L511.5 224.1 L515.6 223.5 L517.9 224.1 L515.6 225.3 L512.6 226.1 L514.4 228.2 L516.2 231.2 L515.6 235.3 L514.4 240 L512.6 242.4 L510.3 243.5 L507.4 245.3 L507.4 247.6 L509.1 249.4 L509.7 251.8 L512.1 250.6 L515.6 248.2 L519.1 247.6 L522.1 248.8 L524.4 250.6 L525.6 252.4 L523.8 254.1 L520.9 255.9 L518.5 257.6 L516.8 256.5 L513.8 257.6 L514.4 260 L517.4 261.2 L520.3 262.4 L522.1 264.7 L525 265.9 L526.2 267.6 L524.4 270 L522.1 271.2 L521.5 274.1 L520.9 277.6 L519.1 280 L516.8 282.9 L514.4 284.7 L512.6 286.5 L510.3 285.3 L507.9 287.1 L505 287.1 L502.1 287.6 L498.5 289.4 L495 290.6 L491.5 291.8 L486.8 293.5 L482.1 294.7 L477.9 295.9 L476.2 300 L475 302.4 M524.4 239.1 L526.8 237.6 L530.3 238.2 L532.1 240 L529.7 241.2 L526.8 240.6 L524.4 239.1 M625 188.2 L619.7 193.5 L613.8 195.3 L610.3 199.4 L606.2 201.2 L604.4 205.3 L600.9 207.1 L599.7 211.8 L601.5 214.1 L601.5 217.6 L597.4 221.2 L593.8 224.7 L589.7 224.1 L585.6 223.5 L580.9 224.7 L578.5 224.1 L576.2 222.4 L571.5 224.7 L564.4 228.2 L557.4 231.8 L552.6 232.9 L552.1 235.3 L553.8 238.8 L555 242.4 L556.8 244.1 L553.8 244.7 L551.5 245.3 L550.3 251.2 L548.5 251.8 L548.5 249.4 L544.4 247.6 L542.1 245.9 L538.5 244.1 L535.6 243.3 L534.4 245.3 L535 248.2 L532.6 250 L530.3 251.2 L530.3 253.5 L532.6 255.9 L536.2 257.1 L539.1 257.6 L540.3 255.9 L539.1 253.5 L540.9 255.3 L540.9 258.2 L545.6 262.4 L550.3 265.9 L553.8 268.8 L557.4 270.6 L562.6 271.5 L567.9 271.8 L568.5 268.2 L570.3 267.1 L572.1 270.6 L576.2 272.4 L580.9 274.1 L585 275.9 L586.2 278.8 L585 281.8 L586.8 284.1 L590.9 286.5 L594.4 287.6 L596.2 290.6 L597.4 295.3 L601.5 300 L604.4 303.5 L606.2 305.9 L609.1 304.1 L610.9 302.4 M625 210.6 L620.9 214.1 L616.2 218.2 L611.5 220.6 L604.4 225.9 L597.4 230.4 L592.6 232.4 L589.7 235.3 L587.9 238.2 L591.5 238.6 L593.8 235.3 L597.4 230.6 L601.5 231.2 L602.1 235.3 L601.5 237.6 L604.4 238.2 L609.7 238.8 L613.2 236.5 L616.2 235.3 L617.9 232.4 L617.4 230 L620.9 230 L625 231.2 M547.4 278.2 L549.7 276.2 L552.6 276.5 L553.8 277.6 L552.1 280 L549.1 280.2 L547.4 278.2 M615 195.3 L617.4 194.7 L621.5 193.5 L625 189.4 L630.5 187.3 L630.1 195.3 L628.5 202.4 L626.2 209.4 L622.1 215.3 L617.4 219.4 L615 221.2 M615 231.2 L616.8 230.6 L620.3 230 L624.4 230.6 L627.4 232.4 L626.8 235.3 L629.1 238.2 L633.2 237.6 L637.4 241.2 L642.1 244.7 L646.2 247.6 L651.5 247.1 L659.7 245.9 L667.9 244.9 L676.2 244.1 L679.1 244.5 L677.9 241.2 L676.8 237.1 L677.4 234.1 L673.8 233.5 L670.9 231.2 L669.7 227.1 L670.3 223.5 L672.6 220 L676.2 216.5 L680.9 214.1 M672.6 206.5 L670.9 210.6 L668.5 215.3 L665.6 221.2 L662.6 225.9 L663.2 227.1 L667.9 224.1 L671.5 221.2 L673.8 217.6 L675.6 212.9 L676.8 209.4 M518.6 280 L517.2 282.8 L515.3 284.2 L513.4 283.8 L511.5 286.1 L508.7 285.6 L505.9 287.1 L502.1 288 L498.4 289.4 L494.6 290.8 L490.8 292.7 L487.1 293.2 L482.4 294.1 L478.6 295.1 L477.6 297.4 L478.1 300.2 L476.2 302.1 L475.3 304.5 L474.4 307.3 L472.9 309.2 L472 311.5 L470.1 312.9 L468.2 312.5 L467.3 314.8 L465.4 316.2 L464 318.6 L462.1 320.5 L459.3 321.9 L456.5 323.8 L454.1 326.1 L452.2 328.5 L450.8 327.1 L450.4 325.2 L448.5 326.6 L447.1 328.9 L446.1 332.7 L445.6 335.5 L443.8 336.5 L443.3 337.9 L445.2 338.8 L448 337.9 L449.4 340.2 L448.9 343.1 L447.1 345.9 L444.2 348.7 L441.9 350.6 L440 351.5 M470.1 321.4 L472.9 320 L477.2 319.1 L479.5 321.4 L481.9 324.2 L484.2 327.1 L486.6 328 L485.2 331.3 L482.4 334.6 L479.5 336 L476.2 336.5 L475.3 333.6 L473.9 330.8 L472 327.1 L470.6 324.2 L470.1 321.4 M459.3 334.6 L460.2 332.2 L461.6 328.9 L463.5 327.1 L465.9 327.5 L467.3 329.9 L469.2 328.9 L472 331.3 L474.4 334.6 L475.3 336.9 L472.9 338.4 L471.5 341.2 L469.6 342.6 L470.1 344.9 L468.2 344 L465.9 344.5 L464 344.9 L467.3 345.9 L470.1 347.3 L471.5 349.6 L470.1 351.5 L468.7 350.1 L467.3 349.6 L463.5 349.2 L460.2 349.2 L456.5 350.6 L453.2 352.5 L450.4 351.1 L447.5 350.1 L446.6 347.8 L448.5 344.9 L449.9 342.1 L450.4 338.4 L449.9 335.5 L451.3 332.7 L453.2 329.9 L455.5 328.5 L458.4 327.1 L460.7 326.1 M458.8 357.2 L461.6 354.8 L465.4 353.9 L468.2 355.3 L471.1 357.2 L471.1 360 L468.2 361.4 L464.5 361.7 L461.2 361.9 L458.8 360 L458.8 357.2 M446.1 360 L447.5 356.7 L449.4 355.3 L451.3 357.2 L451.8 360 L449.4 362.4 L446.6 362.6 L446.1 360 M460.2 364.7 L463.5 363.8 L467.3 364.2 L470.6 365.6 L472 368.5 L470.1 371.3 L467.3 369.9 L464.5 368 L461.6 366.6 L460.2 364.7 M478.6 344 L479.5 341.6 L481.4 341.2 L484.2 338.8 L486.1 338.4 L488.5 340.2 L489.9 342.6 L488 344.9 L485.2 345.9 L482.8 347.3 L481.4 349.6 L483.3 349.2 L487.1 349.2 L488.9 350.1 L487.5 351.5 L484.2 352 L481.9 353.4 L480.5 351.5 L480 348.7 L479.5 345.9 L478.6 344 M490.8 336 L492.7 335.1 L494.6 337.4 L496.5 341.2 L495.5 344.9 L493.6 344 L491.8 340.7 L490.6 337.9 L490.8 336 M493.2 349.6 L495.1 348.7 L496.5 350.1 L498.4 350.6 L499.3 352.5 L497.4 353.7 L495.5 352 L493.6 351.5 L493.2 349.6 M495.1 358.3 L499.8 357.9 L497.4 361.4 L494.6 363.3 L491.3 362.8 L493.2 360.5 L495.1 358.3 M488.9 366.1 L492.7 364.7 L495.1 365.2 L493.2 367.1 L489.9 368.5 L488.5 367.5 L488.9 366.1 M477.6 358.1 L480.5 357.2 L483.3 357.6 L484.7 360 L484.2 362.8 L486.1 364.7 L487.1 366.6 L485.2 368.5 L483.3 370.4 L481.4 372.7 L479.1 374.1 L477.6 372.2 L479.5 369.4 L477.6 368.5 L475.3 368 L474.4 365.6 L476.2 364.2 L478.6 365.2 L480.5 363.8 L479.5 360.9 L477.6 358.1 M491.8 370.8 L494.6 369.4 L497.4 368 L501.2 367.1 L504.9 368 L507.8 369.9 L505.9 371.8 L504 373.2 L503.1 376 L503.5 378.8 L504.9 376.9 L504.5 374.1 L505.9 372.7 L509.6 371.8 L512.5 373.2 L514.8 376 L516.7 378.8 L518.1 382.6 L519.1 386.4 L518.1 389.6 L515.3 390.1 L512.5 389.2 L510.6 390.6 L507.3 390.1 L504.9 389.6 L503.1 388.2 L500.2 386.4 L497.4 385.4 L495.5 384.5 L492.7 384.9 L489.9 384.5 L487.1 385.4 L484.7 384.9 L484.2 382.1 L483.8 378.8 L482.8 376 L484.2 373.6 L487.1 374.1 L488.9 376 L490.8 374.6 L493.6 375.1 L495.5 376.9 L498.4 376.5 L500.2 374.6 L497.4 374.1 L494.6 373.6 L492.7 372.7 L491.8 370.8 M487.1 400 L488 396.7 L489.9 394.4 L492.2 391.5 L495.1 389.6 L498.4 390.6 L502.1 392 L505.9 392.5 L509.6 392.9 L514.4 392.5 L518.1 393.9 L520 396.2 L524.7 397.6 L529.4 399.1 L533.2 400 M453.6 400 L453.2 397.6 L452.2 392.9 L451.3 388.2 L451.8 383.5 L452.2 378.8 L453.2 375.1 L456 372.7 L459.8 372.2 L463.5 373.2 L467.3 374.6 L469.6 376.9 L468.2 378.8 L465.4 378.4 L463.5 379.8 L466.8 381.2 L469.2 383.5 L470.1 386.4 L468.2 388.2 L465.4 387.3 L462.6 388.2 L464.9 390.1 L468.2 391.1 L469.2 392.9 L467.3 393.9 L464 392.9 L462.1 394.4 L463.5 396.7 L462.6 400 M474.8 364.7 L477.2 363.8 L479.5 365.2 L480.5 367.5 L478.6 368.9 L476.7 368 L475.3 369.4 L474.8 373.2 L476.2 376 L477.6 378.8 L479.5 381.6 L480 384.5 L477.6 385.4 L475.3 384.5 L473.9 381.6 L472.9 377.9 L472.5 374.1 L473.4 370.4 L474.4 367.5 L474.8 364.7 M440 358.1 L443.8 360 L448.5 361.9 L453.2 362.8 L457.9 363.3 M450.9 370.6 L450.3 376.5 L449.7 382.4 L448.5 387.1 L445.6 388.2 L442.1 388.8 L438.5 390 L435 387.6 L432.6 384.7 L432.1 381.8 L429.1 380.9 L425.6 380 L422.6 377.6 L419.7 375.3 L417.4 372.4 L413.8 370.6 L410.3 367.1 L406.8 363.5 L402.1 361.2 L397.4 360 L392.6 360.6 L390.3 364.1 L386.8 364.7 L382.6 367.6 L382.1 371.8 L379.7 376.5 L376.8 381.2 L374.4 387.1 L373.2 392.9 L371.5 397.1 L365.6 398.2 L360.9 400 L356.2 403.5 L353.2 407.1 L354.4 409.4 L358.5 411.2 L364.4 410.6 L369.1 408.2 L372.6 405.9 L375.6 409.4 L379.7 411.8 L384.4 412.4 L389.1 410.6 L392.6 407.6 L395.6 404.7 L399.1 405.3 L403.2 404.7 L407.9 403.5 L412.6 402.4 L415.6 402.9 L416.2 405.9 L415.6 410.6 L413.8 415.3 L412.6 420 L412.1 423.5 L410.3 425.9 L406.8 427.1 L403.8 428.2 L402.1 430.6 L400.9 433.5 L403.2 436.5 L407.9 437.1 L411.5 437.6 L415 437.6 L412.6 440.6 L410.3 444.1 L407.4 447.6 L405.6 450 M417.4 380 L424.4 380.6 L429.1 381.2 L426.8 385.9 L424.4 390.6 L419.7 395.3 L417.9 394.1 L418.5 390.6 L422.1 389.4 L421.5 387.6 L417.9 386.5 L416.2 384.1 L417.4 380 M410.9 389.4 L412.6 387.6 L415 389.4 L413.8 391.8 L411.5 391.5 L410.9 389.4 M409.7 397.9 L411.2 396.7 L412.6 398.2 L411.2 399.5 L409.7 397.9 M466.8 390.6 L464.4 389.4 L462.6 388.2 L464.4 387.1 L467.9 385.9 L470.3 387.1 L469.1 389.4 L466.8 391.8 L464.4 395.3 L462.6 400 L459.7 404.7 L457.4 409.4 L453.8 411.8 L450.9 412.9 L449.7 417.6 L448.5 423.5 L446.2 428.8 L442.1 428.8 L438.5 427.6 L439.7 423.5 L440.9 420 L439.1 418.2 L436.8 420 L435 423.5 L432.6 427.6 L429.1 430.6 L425.6 430.6 L426.2 424.7 L425 422.4 L423.2 425.9 L421.5 429.4 L420.3 424.7 L420.9 418.8 L422.6 414.7 L425 410.6 L425.6 405.9 L423.2 402.4 L424.4 398.8 L427.9 399.4 L429.1 402.4 L430.9 405.3 L436.2 405.9 L440.9 406.5 L445 404.7 L446.8 400 L449.7 396.5 L452.6 392.9 M438.5 400 L440.9 397.9 L445 398.2 L446.2 400 L443.8 402.1 L440.3 402.1 L438.5 400 M485 418.8 L482.1 421.2 L479.1 424.1 L475.6 426.5 L475 429.4 L472.6 431.2 L470.3 430.6 L467.9 432.4 L467.4 435.3 L470.3 437.1 L467.9 437.6 L464.4 438.2 L459.7 439.4 L456.2 441.2 L453.8 443.5 L452.6 446.5 L451.5 450 M475 426.5 L477.4 423.5 L479.7 420 L482.1 416.5 L485 412.9 L486.8 409.4 L488.5 405.9 L487.4 402.4 L486.2 398.2 L487.9 395.3 L491.5 393.5 L492.6 390.6 L495.6 389.4 L498.5 391.8 L502.1 394.1 L505.6 392.9 L509.1 391.2 L512.6 390 L516.2 391.2 L519.1 394.1 L520.9 397.6 L522.1 401.2 L524.4 399.4 L527.9 398.2 L531.5 397.6 L535 400 L537.4 403.5 L537.9 406.5 L535.6 407.6 L532.6 406.5 L530.3 407.1 L533.8 408.8 L536.2 410.6 L539.7 411.8 L542.1 413.5 L540.9 416.5 L537.9 418.2 L535.6 419.4 L533.8 422.4 L532.6 425.9 L530.9 428.2 L530.3 431.8 L528.5 435.3 L526.8 437.6 L527.4 440.6 L525 442.9 L523.8 445.9 L524.4 450 M505.6 371.8 L503.2 374.7 L503 378.8 L504.4 380 L505 376.5 L506.8 372.9 M560.3 423.5 L563.2 421.2 L566.2 418.8 L567.9 416.5 L570.9 415.9 L574.4 417.1 L573.8 420 L570.9 421.8 L569.1 422.4 L570.3 425.9 L569.7 429.4 L570.9 432.9 L569.1 436.5 L566.8 434.1 L564.4 430.6 L562.1 427.6 L560.3 423.5 M566.2 421.2 L569.1 423.5 L570.3 426.5 M572.6 427.1 L574.4 426.1 L576.2 428.2 L574.8 430.8 L572.9 429.4 L572.6 427.1 M585 404.7 L586.8 402.4 L587.7 404.1 L585.8 406.5 L585 404.7 M594.4 368.2 L597.4 366.5 L601.5 364.1 L604.4 361.2 L606.8 358.2 L608.5 357.6 L610.3 362.4 L606.8 363.5 L605 365.9 L606.2 368.2 L603.2 370 L599.7 371.2 L596.8 370.6 L594.4 368.2 M601.5 364.1 L604.4 365.3 L605.6 368.2 M600.9 305.9 L602.6 304.1 L604.4 305.9 L603.8 308.8 L602.1 310 L600.6 308.2 L600.9 305.9 M588.5 307.6 L591.5 307.1 L593.8 309.4 L597.4 312.9 L600.9 315.9 L602.1 318.8 L598.5 320.6 L595 318.8 L592.6 315.3 L590.9 311.8 L588.5 307.6 M607.9 302.9 L611.5 301.8 L615 304.5 M625 345.9 L622.1 344.5 L617.9 343.5 L615.6 345.9 L614.4 349.4 L612.6 353.5 L611.5 356.5 L615 359.8 M615.2 409.4 L615.8 405.9 L615.6 401.2 L614.4 397.1 L611.5 397.6 L612.1 402.4 L611.5 407.1 L613.2 411.8 L615 416.2 M615 304.7 L618.5 307.1 L622.1 308.8 L623.8 311.2 L622.6 314.1 L619.7 316.5 L617.4 319.4 L617.9 323.5 L620.3 326.5 L623.2 327.6 L624.4 330.6 L623.8 334.1 L625.6 337.6 L627.4 340.6 L626.8 342.9 L625 345.6 M615 360 L618.5 362.4 L620.9 365.9 L622.1 370.6 L625.6 374.1 L628.5 377.1 L631.5 378.2 L632.1 382.4 L632.6 385.9 L636.2 387.1 L641.5 386.5 L640.3 388.8 L638.5 390.6 L638.5 394.7 L642.6 395.5 L638.5 395.9 L634.4 395.5 L638.5 396.5 L640.3 398.8 L644.4 400 L649.1 402.4 L653.8 401.2 L658.5 401.8 L662.1 404.1 L665 407.6 L665.6 410.6 L662.6 408.8 L659.7 405.9 L656.2 404.1 L651.5 404.1 L646.8 403.5 L642.1 401.8 L637.4 400 L633.8 399.8 L631.5 401.8 L632.6 404.7 L635.6 407.6 L638.5 410 L642.1 411.2 L645.6 411.8 L649.1 411.2 L652.6 411.8 L653.8 412.9 L650.3 415.3 L646.8 417.6 L643.2 420 L640.3 422.4 L642.1 424.7 L645 426.5 L642.6 428.2 L641.5 431.8 L640.3 435.3 L637.4 437.1 L636.8 441.2 L636.2 445.9 L635.6 450 M615 409.4 L617.4 412.9 L619.7 417.6 L622.1 422.4 L625 425.3 L629.1 425.9 L632.6 425.3 L631.5 427.6 L628.5 429.4 L625 430.6 L622.1 428.2 L619.1 423.5 L616.2 418.8 L615 416.5 M412.6 440 L410.3 443.5 L407.4 447.6 L404.4 451.8 L401.5 454.1 L399.1 454.7 L397.9 458.8 L396.8 463.5 L397.4 468.2 L396.2 472.4 L394.4 474.7 L395.6 477.6 L393.2 480.6 L390.3 482.4 L386.8 483.3 L383.2 481.8 L379.7 479.4 L376.2 477.1 L374.4 476.7 M375.6 477.4 L382.1 481.2 L387.4 484.1 L386.2 486.5 L382.1 486.5 L379.1 485.6 M458.5 440 L455 443.5 L451.5 448.2 L448.5 451.8 L446.2 455.9 L444.4 461.2 L442.6 465.3 L440.9 468.2 L440.3 472.4 L441.5 475.9 L443.2 479.4 L446.2 483.5 L449.1 481.8 L452.6 478.8 L456.2 475.3 L459.7 474.1 L463.2 472.9 L466.8 470.6 L470.3 468.2 L473.8 468.8 L477.4 470 L480.9 469.4 L485 468.2 M526.8 440 L525.6 442.9 L523.2 445.3 L525 447.1 L521.5 449.4 L519.1 451.8 L516.8 451.2 L517.4 454.1 L515 455.3 L513.8 458.8 L511.5 457.6 L510.9 461.8 L507.9 463.5 L505.6 465.3 L502.6 466.5 L498.5 467.6 L494.4 468.2 L490.3 467.6 L486.8 468.8 L482.1 470 L477.4 469.4 L475 468.8 M500.3 485.3 L503.2 483.5 L507.4 484.7 L508.5 487.1 L510.9 486.5 L513.2 488.2 L516.2 487.6 L520.3 488.2 L521.5 491.8 L520.3 495.9 L517.4 498.2 L512.6 500 L507.9 500.6 L504.4 498.2 L501.5 496.5 L500.3 494.7 L503.2 493.5 L503.8 490.6 L501.5 488.2 L500.3 485.3 M625 457.6 L619.7 457.4 L613.8 458.2 L609.1 459.4 L604.4 461.2 L602.6 458.2 L599.7 456.5 L596.2 456.5 L592.6 458.8 L590.9 461.2 L589.7 464.7 L586.2 467.6 L583.8 471.8 L581.5 477.6 L579.1 484.7 L577.4 491.8 L575.6 497.6 L572.6 503.5 L569.1 508.2 L565.6 511.8 L563.5 515.3 L563.8 520 L565 524.7 L566.2 529.4 L567.9 532.9 L571.5 534.7 L574.4 533.5 L576.8 530.6 L579.1 526.5 L580.9 529.4 L583.2 534.1 L586.2 539.4 L588.5 544.1 L589.7 547.1 L587.9 548.8 L585 548.2 L584.4 545.9 L586.8 544.1 L589.7 543.5 L592.6 546.5 L595 544.7 L597.4 541.2 L598.5 536.5 L597.9 530.6 L599.7 524.7 L600.3 518.8 L597.9 515.3 L595 511.8 L593.2 507.6 L594.4 502.4 L596.2 497.6 L597.9 491.8 L598.5 487.1 L600.9 484.7 L604.4 485.3 L603.2 489.4 L601.5 495.3 L601.5 500 L603.2 504.7 L605 509.4 L607.9 512.4 L612.1 513.5 L615.6 510.6 L619.1 507.6 L622.1 506.5 L625 507.6 M555 576.5 L557.4 575.9 L560.3 574.1 L563.2 571.8 L565 568.2 L566.2 564.1 L569.1 561.2 L572.6 559.4 L576.2 558.2 L579.1 556.5 L578.5 552.9 L576.8 549.4 L575.6 545.3 L576.2 540.6 L578.5 537.6 L581.5 535.3 L582.1 540 L582.6 543.5 L581.5 545.9 L580.9 548.8 L582.1 551.2 L585 553.5 L586.8 555.3 L589.7 553.5 L592.6 551.8 L596.2 554.1 L599.1 551.8 L601.5 549.4 L604.4 547.1 L607.9 545.3 L611.5 545.9 L613.2 543.5 L615.6 540 L615 535.3 L613.8 530.6 L613.2 526.5 L616.2 527.6 L618.5 528.2 L619.1 524.7 L618.5 520.6 L615 518.8 L613.8 516.5 L616.2 514.1 L619.7 511.8 L625 510 M625 471.2 L623.2 470 L619.7 469.4 L616.2 471.2 L619.1 473.5 L622.1 476.5 L625 478.2 M535 575.3 L538.5 572.9 L536.2 572.4 L533.8 571.2 L534.4 568.2 L536.8 566.5 L536.2 563.5 L538.5 560.6 L540.9 558.8 L540.3 555.9 L537.4 554.1 L535 550.6 L536.2 548.2 L533.8 545.3 L533.2 541.2 L534.4 537.6 L536.2 534.1 L539.1 532.9 L542.6 533.5 L540.9 536.5 L539.7 538.2 L544.4 538.2 L545.6 540 L544.4 543.5 L542.1 546.5 L544.4 549.4 L546.2 552.9 L548.5 555.9 L550.3 560 L552.6 563.5 L556.2 565.3 L556.8 568.2 L555.6 571.8 L556.2 574.7 L553.8 576.5 M517.4 567.6 L519.1 563.5 L519.7 559.4 L521.5 556.5 L524.4 553.5 L527.9 551.2 L531.5 550.6 L533.2 552.9 L532.6 556.5 L531.5 560 L530.3 563.5 L527.9 566.5 L524.4 568.2 L520.9 569.4 L517.4 567.6 M637.4 440 L636.8 444.7 L636.2 448.8 L637.4 451.8 L635.6 454.1 L632.6 453.5 L632.1 451.2 L633.2 449.4 L630.3 449.2 L627.4 450.4 L625.8 451.8 L628.5 453.5 L630.3 455.9 L633.2 457.6 L635 460.6 L632.6 461.8 L630.9 463.5 L631.5 467.1 L632.6 470.6 L633.8 471.8 L631.5 472.4 L629.1 473.5 L629.7 476.5 L630.3 478.8 L627.4 479.4 L625 478.2 L623.2 475.3 L620.9 472.9 L618.5 471.8 L616.2 471.2 L617.9 469.4 L622.1 468.2 L625.6 466.5 L627.4 462.9 L626.8 459.4 L623.8 457.6 L619.7 457.1 L615 457.4 M615 511.8 L617.9 509.4 L620.9 506.5 L623.8 505.9 L625 508.2 L623.8 510.6 L620.9 511.8 L617.9 512.9 L615 515.3 M615 521.2 L617.4 520.6 L619.1 522.9 L619.7 527.1 L617.9 528.2 L615 526.5" fill="none" stroke="#000" stroke-opacity="0.9" stroke-width="0.7" stroke-linejoin="round"/>
<g fill="none" stroke="#b0b0b0" stroke-width="1.7"><circle cx="550.9" cy="372.5" r="24.90"/><circle cx="550.9" cy="372.5" r="49.89"/><circle cx="550.9" cy="372.5" r="75.08"/><circle cx="550.9" cy="372.5" r="100.56"/><circle cx="550.9" cy="372.5" r="126.43"/><circle cx="550.9" cy="372.5" r="152.81"/><circle cx="550.9" cy="372.5" r="179.81"/><line x1="550.9" y1="372.5" x2="550.90" y2="157.50"/><line x1="550.9" y1="372.5" x2="737.10" y2="265.00"/><line x1="550.9" y1="372.5" x2="737.10" y2="480.00"/><line x1="550.9" y1="372.5" x2="550.90" y2="587.50"/><line x1="550.9" y1="372.5" x2="364.70" y2="480.00"/><line x1="550.9" y1="372.5" x2="364.70" y2="265.00"/></g>
<circle cx="550.9" cy="372.5" r="1.6" fill="#fff"/>
</g>
<circle cx="550.6" cy="371.1" r="206.05" fill="none" stroke="#000" stroke-width="1.67"/>
<clipPath id="cp1"><circle cx="550.6" cy="866.1" r="206.05"/></clipPath>
<g clip-path="url(#cp1)">
<circle cx="550.9" cy="867.5" r="205.4" fill="#ff2a00"/>
<clipPath id="dp1"><circle cx="550.9" cy="867.5" r="205.4"/></clipPath>
<g clip-path="url(#dp1)">
<path d="M617.5 1059.3 C615.1 1056 614 1059.6 610.6 1060.2 C607.1 1060.7 601.9 1062.1 596.8 1062.7 C591.6 1063.4 585.3 1063.9 579.5 1064 C573.8 1064 568 1063.7 562.3 1063.3 C556.5 1062.9 548.4 1061.9 545 1061.5 C541.6 1061.2 545.4 1061.2 542.1 1061 C538.7 1060.8 530.6 1060.6 524.8 1060.2 C519.1 1059.7 513.3 1059 507.5 1058.4 C501.8 1057.9 494.6 1057.3 490.3 1056.7 C486 1056.1 483.5 1055.5 481.7 1055 C479.8 1054.5 481 1049.9 479.1 1053.6 C477.1 1057.3 476.2 1075.7 469.9 1077.4 C463.5 1079.1 450.2 1069 441 1063.8 C431.7 1058.6 422.7 1052.7 414.3 1046.3 C405.8 1039.8 397.7 1032.7 390.3 1025.1 C382.9 1017.5 375.9 1009.3 369.6 1000.7 C363.3 992.2 357.6 983.1 352.5 973.7 C347.5 964.3 343.1 954.5 339.5 944.5 C335.9 934.5 332.9 924.2 330.7 913.8 C328.5 903.4 327.1 892.7 326.4 882.1 C325.7 871.5 325.7 860.8 326.6 850.2 C327.4 839.6 327 823.1 331.3 818.6 C335.6 814.1 348.2 823.2 352.3 823.2 C356.3 823.3 354.3 820.5 355.7 818.9 C357.1 817.3 359.2 815.8 360.9 813.7 C362.6 811.7 364 809.1 366.1 806.8 C368.1 804.5 370.7 802.2 373 799.9 C375.3 797.6 377.6 795.3 379.9 793 C382.2 790.7 385.6 789 386.8 786.1 C387.9 783.3 386.2 778.7 386.8 775.8 C387.3 772.9 389.2 771.2 390.2 768.9 C391.2 766.6 392.5 764.4 392.8 762 C393.1 759.5 394.1 754.8 391.9 754.2 C389.8 753.6 383.2 756.7 379.9 758.5 C376.6 760.4 376.2 765.9 372.1 765.4 C368 765 355.3 762 355.5 756 C355.7 749.9 366.8 737.7 373.4 729.3 C379.9 720.8 387.2 712.8 394.9 705.4 C402.6 698 410.9 691 419.6 684.8 C428.2 678.6 437.5 672.9 446.9 668 C456.4 663 466.3 658.7 476.4 655.2 C486.5 651.6 497 648.8 507.4 646.7 C517.9 644.7 528.7 643.3 539.3 642.8 C550 642.2 560.8 642.5 571.5 643.4 C582.1 644.4 592.8 646.2 603.2 648.7 C613.6 651.1 623.9 654.4 633.8 658.3 C643.7 662.3 653.5 667 662.8 672.3 C672 677.6 681 683.6 689.4 690.2 C697.9 696.8 705.9 704 713.3 711.8 C720.7 719.5 727.6 727.8 733.8 736.5 C740 745.2 745.7 754.4 750.6 763.9 C755.5 773.4 759.8 783.3 763.3 793.4 C766.9 803.5 769.7 813.9 771.7 824.4 C773.8 834.9 775.1 845.6 775.6 856.3 C776.2 867 775.9 877.8 774.9 888.4 C773.9 899.1 772.2 909.7 769.7 920.1 C767.2 930.5 763.9 940.8 759.9 950.8 C756 960.7 751.3 970.4 745.9 979.7 C740.6 988.9 734.6 997.9 728 1006.3 C721.4 1014.7 714.1 1022.8 706.4 1030.1 C698.7 1037.5 690.3 1044.4 681.6 1050.6 C672.9 1056.8 663.7 1062.5 654.2 1067.4 C644.7 1072.3 630.8 1081.4 624.7 1080.1 C618.6 1078.7 619.8 1062.6 617.5 1059.3Z" fill="#ff6600" shape-rendering="crispEdges"/>
<path d="M739.1 941.1 C734.6 940.6 735.2 944.1 733.1 946.3 C730.9 948.4 728.8 951.3 726.2 954 C723.6 956.8 721.9 958.2 717.5 962.7 C713.2 967.1 706 975.2 700.3 980.8 C694.5 986.4 688.8 991.7 683 996.3 C677.3 1000.9 671.5 1004.8 665.8 1008.4 C660 1012 654.3 1015.3 648.5 1017.9 C642.8 1020.5 637 1022.2 631.3 1023.9 C625.5 1025.6 619.8 1027.2 614 1028.2 C608.3 1029.2 602.5 1029.5 596.8 1030 C591 1030.4 585.3 1030.7 579.5 1030.8 C573.8 1031 568 1030.7 562.3 1030.8 C556.5 1031 548.4 1031.4 545 1031.7 C541.6 1032 545.4 1032.1 542.1 1032.5 C538.7 1033 530.6 1033.7 524.8 1034.3 C519.1 1034.8 513.3 1035.7 507.5 1036 C501.8 1036.3 496 1036.3 490.3 1036 C484.5 1035.7 478.8 1035 473 1034.3 C467.3 1033.6 461 1032.7 455.8 1031.7 C450.6 1030.7 446 1029.2 442 1028.2 C438 1027.2 434.8 1026.4 431.6 1025.6 C428.5 1024.9 426.9 1020.9 423 1023.6 C419.1 1026.2 415.1 1042.7 408.3 1041.5 C401.5 1040.3 390.1 1025.3 382.1 1016.3 C374.1 1007.2 366.8 997.4 360.4 987.2 C353.9 976.9 348.3 966 343.6 954.9 C338.9 943.8 335 932.1 332.2 920.4 C329.4 908.6 327.4 896.5 326.5 884.4 C325.6 872.4 323 853.8 326.7 848.1 C330.5 842.3 344.8 850.5 348.8 850 C352.8 849.4 349.7 846.8 350.5 844.8 C351.4 842.8 352.5 840.8 354 837.9 C355.4 835 357.4 830.7 359.2 827.5 C360.9 824.4 362.6 821.8 364.3 818.9 C366.1 816 367.5 813.2 369.5 810.3 C371.5 807.4 374.1 804.5 376.4 801.7 C378.7 798.8 381 795.6 383.3 793 C385.6 790.5 388.5 788.4 390.2 786.1 C391.9 783.8 392.2 781.5 393.7 779.2 C395.1 776.9 397.4 775.2 398.8 772.3 C400.3 769.5 402 765.4 402.3 762 C402.6 758.5 400.3 755.1 400.6 751.6 C400.9 748.2 402.3 744.4 404 741.3 C405.7 738.1 409.2 735.5 410.9 732.6 C412.6 729.8 413.5 727.3 414.4 724 C415.2 720.7 418 717.2 416.1 712.8 C414.2 708.4 401.1 703.5 403.1 697.9 C405.1 692.2 419.4 684.6 428.2 678.9 C437 673.2 446.2 668 455.7 663.6 C465.2 659.2 475.1 655.4 485.1 652.3 C495.1 649.3 505.4 646.9 515.8 645.3 C526.1 643.6 536.7 642.7 547.1 642.5 C557.6 642.4 568.2 642.9 578.6 644.2 C589 645.5 599.4 647.5 609.5 650.3 C619.6 653 629.6 656.4 639.2 660.6 C648.8 664.7 658.3 669.5 667.2 674.9 C676.2 680.3 684.9 686.4 693 693 C701.1 699.6 708.8 706.9 715.9 714.6 C723 722.2 729.7 730.5 735.7 739.1 C741.6 747.7 747.1 756.8 751.8 766.1 C756.5 775.5 760.6 785.2 764 795.2 C767.3 805.1 770 815.3 772 825.6 C773.9 835.9 775.2 846.4 775.6 856.9 C776.1 867.3 775.9 877.9 774.9 888.3 C774 898.8 772.2 909.2 769.8 919.4 C767.4 929.6 765.6 945.8 760.4 949.4 C755.3 953.1 743.7 941.6 739.1 941.1Z" fill="#ff900e" shape-rendering="crispEdges"/>
<path d="M746 806.8 C742.3 809 744.2 810.9 743.4 813.7 C742.7 816.6 742.6 820.6 741.7 824.1 C740.8 827.5 739.4 831.3 738.3 834.5 C737.1 837.6 734.5 840.5 734.8 843.1 C735.1 845.7 738.5 847.4 740 850 C741.4 852.6 743.1 855.7 743.4 858.6 C743.7 861.5 741.7 867 741.7 867.2 C741.7 867.5 743.4 859.5 743.4 860 C743.4 860.5 742.3 866.6 741.7 870.4 C741.1 874.1 741.1 877.3 740 882.4 C738.8 887.6 736.8 895.4 734.8 901.4 C732.8 907.5 730.8 912.9 727.9 918.7 C725 924.4 722.2 929.6 717.5 935.9 C712.9 942.2 706 950.9 700.3 956.6 C694.5 962.4 688.8 966.1 683 970.4 C677.3 974.7 671.5 979.1 665.8 982.5 C660 986 654.3 988.8 648.5 991.1 C642.8 993.4 637 995.2 631.3 996.3 C625.5 997.5 618.3 997.5 614 998 C609.7 998.6 608.3 998.9 605.4 999.8 C602.5 1000.6 601.1 1002.4 596.8 1003.2 C592.5 1004.1 585.3 1004.9 579.5 1004.9 C573.8 1004.9 568 1003.4 562.3 1003.2 C556.5 1003.1 548.4 1003.6 545 1004.1 C541.6 1004.5 545.4 1005.1 542.1 1005.8 C538.7 1006.5 530.6 1007.7 524.8 1008.4 C519.1 1009.1 513.3 1009.5 507.5 1010.1 C501.8 1010.7 496 1011.6 490.3 1011.8 C484.5 1012.1 478.8 1012.1 473 1011.8 C467.3 1011.6 461.5 1011 455.8 1010.1 C450 1009.3 444.3 1007.8 438.5 1006.7 C432.8 1005.5 426.5 1004.4 421.3 1003.2 C416.1 1002.1 411.2 1000.6 407.5 999.8 C403.7 998.9 403.4 995.7 398.8 998 C394.3 1000.4 387 1016.5 380.2 1014.1 C373.4 1011.6 364.5 994.2 358.1 983.4 C351.6 972.7 346 961.2 341.4 949.5 C336.8 937.8 333.2 925.6 330.6 913.3 C328.1 901 323.2 882.2 326.1 875.8 C328.9 869.4 343.9 877.3 347.9 875 C352 872.7 349.5 866.2 350.5 862.1 C351.5 857.9 352.5 853.7 354 850 C355.4 846.2 357.4 843.1 359.2 839.6 C360.9 836.2 362.3 832.7 364.3 829.3 C366.3 825.8 368.9 822.1 371.2 818.9 C373.5 815.8 375.5 813.2 378.1 810.3 C380.7 807.4 383.9 804.5 386.8 801.7 C389.6 798.8 392.5 795.6 395.4 793 C398.3 790.5 401.4 788.4 404 786.1 C406.6 783.8 410.3 781.5 410.9 779.2 C411.5 776.9 407.5 775.2 407.5 772.3 C407.5 769.5 409.2 764.6 410.9 762 C412.6 759.4 414.9 758.2 417.8 756.8 C420.7 755.4 424.7 754.8 428.2 753.4 C431.6 751.9 435.7 750.8 438.5 748.2 C441.4 745.6 443.7 741.3 445.4 737.8 C447.2 734.4 448 731.2 448.9 727.5 C449.7 723.7 449.5 719.1 450.6 715.4 C451.8 711.7 453.8 708.5 455.8 705 C457.8 701.6 459.8 697.8 462.7 694.7 C465.6 691.5 468.4 689.2 473 686.1 C477.6 682.9 484.5 678.8 490.3 675.7 C496 672.6 505.4 672.1 507.5 667.4 C509.7 662.7 498.5 651.7 503.3 647.6 C508 643.5 525.2 643.7 536.3 643 C547.3 642.3 558.6 642.4 569.6 643.3 C580.6 644.2 591.7 646 602.5 648.5 C613.3 651 624 654.4 634.3 658.5 C644.6 662.6 654.7 667.6 664.3 673.1 C673.8 678.7 683.1 685.1 691.7 692 C700.4 699 708.6 706.6 716.1 714.8 C723.6 722.9 730.6 731.7 736.9 740.8 C743.1 750 748.7 759.7 753.5 769.7 C758.3 779.7 767 794.5 765.8 800.7 C764.5 806.9 749.7 804.7 746 806.8Z" fill="#fdb41c" shape-rendering="crispEdges"/>
<path d="M550.7 675.7 C552.6 675.6 557.5 675.5 562.3 675.4 C567.1 675.2 573.8 675 579.5 674.8 C585.3 674.7 591 674.3 596.8 674.3 C602.5 674.3 608.8 674.5 614 674.8 C619.2 675.2 624.8 676.2 627.8 676.6 C630.8 676.9 630.2 679.8 632.1 677.1 C634 674.4 632.9 660.6 639.2 660.5 C645.5 660.5 660.3 670.5 670.1 676.7 C679.9 682.8 689.3 689.8 698.1 697.3 C706.9 704.9 715.1 713.3 722.6 722.1 C730.1 730.9 742.5 743.8 743 750.3 C743.4 756.8 729 758 725.3 761.1 C721.6 764.2 722 765.9 721 768.9 C720 771.9 719.3 775.8 719.3 779.2 C719.3 782.7 719.8 786.4 721 789.6 C722.2 792.8 724.5 795.9 726.2 798.2 C727.9 800.5 730.2 801.4 731.4 803.4 C732.5 805.4 733.2 807.4 733.1 810.3 C732.9 813.2 731.1 817.2 730.5 820.6 C729.9 824.1 729.6 827.5 729.6 831 C729.6 834.5 730.8 837.6 730.5 841.4 C730.2 845.1 728.6 849.4 727.9 853.4 C727.2 857.5 726.2 864.4 726.2 865.5 C726.2 866.6 728.2 858 727.9 860 C727.6 862 726.5 871.5 724.5 877.3 C722.4 883 718.7 888.8 715.8 894.5 C712.9 900.3 710.4 906.6 707.2 911.8 C704 916.9 700.9 921 696.8 925.6 C692.8 930.2 688.2 934.8 683 939.4 C677.9 944 671.5 949.2 665.8 953.2 C660 957.2 654.3 960.7 648.5 963.5 C642.8 966.4 637 968.7 631.3 970.4 C625.5 972.2 619.8 972.7 614 973.9 C608.3 975 601.7 976.7 596.8 977.3 C591.9 978 587.6 977.4 584.7 977.7 C581.8 978 583.2 978 579.5 979.1 C575.8 980.2 568 982.5 562.3 984.2 C556.5 986 548.4 988.7 545 989.4 C541.6 990.1 545.4 988.5 542.1 988.5 C538.7 988.5 530.6 989 524.8 989.4 C519.1 989.8 513.3 990.4 507.5 991.1 C501.8 991.9 496 993.3 490.3 993.7 C484.5 994.2 478.8 994 473 993.7 C467.3 993.4 461.5 992.4 455.8 992 C450 991.6 444.3 991.9 438.5 991.1 C432.8 990.4 426.5 989 421.3 987.7 C416.1 986.4 411.5 984.5 407.5 983.4 C403.4 982.2 400.3 981.2 397.1 980.8 C394 980.4 393.6 978.2 388.5 980.8 C383.4 983.4 372.9 998.4 366.4 996.2 C359.9 994.1 354.4 977.7 349.5 967.9 C344.6 958.1 340.4 947.8 337 937.4 C333.6 927 331 916.2 329.1 905.4 C327.3 894.6 322.7 878.1 326 872.6 C329.2 867 344.4 873 348.8 872.1 C353.2 871.1 350.8 868.9 352.3 866.9 C353.7 864.9 357.4 858.7 357.4 860 C357.4 861.3 352.8 874.7 352.3 875 C351.7 875.3 353.1 866.2 354 862.1 C354.8 857.9 355.7 854 357.4 850 C359.2 846 361.7 841.6 364.3 837.9 C366.9 834.2 369.8 831 373 827.5 C376.1 824.1 379.9 820.4 383.3 817.2 C386.8 814 390.2 810.9 393.7 808.6 C397.1 806.3 400 805.2 404 803.4 C408 801.6 414.3 799.8 417.8 797.9 C421.4 795.9 422.7 793.7 425.2 791.7 C427.7 789.6 430.3 787.5 432.8 785.4 C435.4 783.3 437.5 781 440.4 779.1 C443.4 777.2 447.3 775.9 450.4 774.1 C453.6 772.2 456.5 770.1 459.2 767.8 C461.9 765.5 464.4 763.2 466.7 760.3 C469 757.3 471.1 753.6 473 750.2 C474.9 746.9 476.6 743.6 478 740.2 C479.5 736.9 480.8 733.4 481.8 730.2 C482.9 727.1 482.8 724.6 484.3 721.4 C485.7 718.3 488 715.2 490.6 711.4 C493.3 707.7 497.1 702.3 500 698.8 C502.8 695.3 504.8 692.6 507.5 690.4 C510.3 688.1 513.3 686.6 516.2 685.2 C519.1 683.8 521.9 682.8 524.8 681.7 C527.7 680.7 530.6 679.9 533.4 679.2 C536.3 678.4 539.2 677.7 542.1 677.1 C545 676.5 549.4 675.9 550.9 675.7 C552.3 675.5 548.8 675.8 550.7 675.7Z" fill="#e8cb26" shape-rendering="crispEdges"/>
<path d="M550.7 705 C552.6 704.9 557.5 704.4 562.3 704.2 C567.1 703.9 573.8 703.8 579.5 703.7 C585.3 703.5 591 703.2 596.8 703.3 C602.5 703.4 610 703.6 614 704.2 C618 704.8 618.9 705.2 620.9 706.8 C622.9 708.3 622.6 713.2 626.1 713.7 C629.5 714.1 636.2 710.3 641.6 709.4 C647.1 708.4 653.7 707.4 658.9 708.1 C664.1 708.9 668.7 711.6 672.7 713.7 C676.7 715.7 679.6 718 683 720.6 C686.5 723.2 691.1 725.7 693.4 729.2 C695.7 732.6 696.1 737.5 696.8 741.3 C697.6 745 696.8 748.2 697.7 751.6 C698.6 755.1 700.4 759.1 702 762 C703.6 764.9 705.6 766 707.2 768.9 C708.8 771.8 710.5 775.2 711.5 779.2 C712.5 783.3 712.9 789 713.2 793 C713.5 797.1 712.8 799.9 713.2 803.4 C713.7 806.8 715.2 810.3 715.8 813.7 C716.5 817.2 717.3 820.4 717.2 824.1 C717.1 827.8 715.5 831.9 715 836.2 C714.4 840.5 714.4 845.7 714.1 850 C713.8 854.3 713.4 860.4 713.2 862.1 C713.1 863.7 713.7 858.6 713.2 860 C712.8 861.4 712.2 866.3 710.6 870.4 C709.1 874.4 706 880.1 703.7 884.2 C701.4 888.2 699.4 890.8 696.8 894.5 C694.3 898.2 691.1 902.8 688.2 906.6 C685.3 910.3 682.8 913.5 679.6 916.9 C676.4 920.4 672.7 924.1 669.2 927.3 C665.8 930.5 662.3 933.3 658.9 935.9 C655.4 938.5 652.6 941.1 648.5 942.8 C644.5 944.5 639 945.1 634.7 946.3 C630.4 947.4 626.7 948.6 622.6 949.7 C618.6 950.9 614.9 952.3 610.6 953.2 C606.3 954 601.9 953.6 596.8 954.9 C591.6 956.2 585.3 959.1 579.5 960.9 C573.8 962.8 568 964.8 562.3 966.1 C556.5 967.5 548.4 968.7 545 969.1 C541.6 969.4 544.5 967.9 542.1 968.4 C539.7 968.8 534.6 971.2 530.6 972 C526.6 972.8 522.2 973.2 518 973.2 C513.8 973.2 509.7 972.6 505.5 972 C501.3 971.4 497.1 970 492.9 969.5 C488.7 968.9 484.6 968.8 480.4 968.8 C476.2 968.8 472 969.1 467.8 969.5 C463.6 969.9 458.6 970.3 455.3 971.4 C451.9 972.4 450 975.3 447.7 975.7 C445.4 976.2 443.6 974.7 441.5 974.1 C439.4 973.5 438.3 972.3 435.2 972 C432.1 971.6 426.8 972.4 422.6 972 C418.5 971.6 414.3 970.6 410.1 969.5 C405.9 968.3 401.7 966.5 397.5 965.1 C393.4 963.6 387.7 962.1 385 960.7 C382.3 959.3 383 958.3 381.3 956.6 C379.6 954.9 376.9 952.4 375 950.3 C373.1 948.2 371.2 946.7 370 944 C368.8 941.4 368.4 938.1 367.8 934.2 C367.2 930.3 366.8 925.6 366.4 920.4 C366 915.2 365.4 908.9 365.2 903.1 C365 897.4 364.8 891.3 365.2 885.9 C365.6 880.4 367.1 874.7 367.8 870.4 C368.5 866 369.4 859.2 369.5 860 C369.7 860.8 368.2 874.7 368.6 875 C369.1 875.3 370.5 866.2 372.1 862.1 C373.7 857.9 375.7 853.7 378.1 850 C380.6 846.2 383.6 843.1 386.8 839.6 C389.9 836.2 393.7 832.4 397.1 829.3 C400.6 826.1 404 823.5 407.5 820.6 C410.9 817.8 414.4 814.9 417.8 812 C421.3 809.1 424.7 806 428.2 803.4 C431.6 800.8 435.1 798.5 438.5 796.5 C442 794.5 445.4 793 448.9 791.3 C452.3 789.6 455.8 788.2 459.2 786.1 C462.7 784.1 466.1 781.5 469.6 779.2 C473 776.9 477.1 774.6 479.9 772.3 C482.8 770 484.5 767.7 486.8 765.4 C489.1 763.1 491.4 760.8 493.7 758.5 C496 756.2 498.3 754.2 500.6 751.6 C502.9 749 505.2 745.9 507.5 743 C509.8 740.1 512.2 737.2 514.5 734.4 C516.8 731.5 519.1 728.3 521.4 725.7 C523.7 723.2 526 720.9 528.3 718.8 C530.6 716.8 532.9 715.2 535.2 713.7 C537.5 712.1 539.4 710.8 542.1 709.4 C544.7 707.9 549.4 705.8 550.9 705 C552.3 704.3 548.8 705.2 550.7 705Z" fill="#b0c21c" shape-rendering="crispEdges"/>
<path d="M550.7 753.4 C551.8 753.5 555.3 754.6 557.8 754 C560.2 753.5 562.6 751.5 565.4 750.2 C568.1 749 571.2 747.2 574.2 746.5 C577.1 745.7 579.8 745.6 583 745.8 C586.1 746 589.6 747.3 593 747.7 C596.3 748 600 748.3 603 747.7 C605.9 747 608.5 745.3 610.6 743.9 C612.7 742.4 613.9 740.1 615.6 738.9 C617.2 737.6 618.2 737.2 620.6 736.4 C622.9 735.7 627.2 733.9 629.5 734.4 C631.9 734.9 633.3 737.2 634.7 739.5 C636.2 741.8 637 745.6 638.2 748.2 C639.3 750.8 640.2 752.8 641.6 755.1 C643.1 757.4 645.7 759.1 646.8 762 C648 764.9 647.7 769.5 648.5 772.3 C649.4 775.2 650.3 776.9 652 779.2 C653.7 781.5 656.9 783.8 658.9 786.1 C660.9 788.4 662.9 790.5 664.1 793 C665.2 795.6 664.3 798.8 665.8 801.7 C667.2 804.5 671 807.1 672.7 810.3 C674.4 813.5 675.3 816.6 676.1 820.6 C677 824.7 677.7 830.4 677.9 834.5 C678 838.5 677 841.4 677 844.8 C677 848.3 678 851.7 677.9 855.2 C677.7 858.6 676.4 864.7 676.1 865.5 C675.8 866.3 677.3 859.2 676.1 860 C675 860.8 672.1 866.6 669.2 870.4 C666.4 874.1 662.3 878.7 658.9 882.4 C655.4 886.2 652 889.3 648.5 892.8 C645.1 896.2 641.6 900 638.2 903.1 C634.7 906.3 631.8 908.9 627.8 911.8 C623.8 914.6 619.2 917.7 614 920.4 C608.8 923.1 602.5 925.9 596.8 928.2 C591 930.5 585.3 932.5 579.5 934.2 C573.8 935.9 568 937.4 562.3 938.5 C556.5 939.7 548.4 941.2 545 941.1 C541.6 941 544 937.4 542.1 937.6 C540.1 937.9 536.3 940.8 533.4 942.8 C530.6 944.8 527.7 947.4 524.8 949.7 C521.9 952 519.1 954.9 516.2 956.6 C513.3 958.4 513.9 964.7 507.5 960.1 C501.2 955.5 483.5 934.8 477.9 929 C472.4 923.2 475.8 925.8 474.2 925.2 C472.5 924.6 470.2 924.9 467.9 925.2 C465.6 925.5 462.9 926.5 460.4 927.1 C457.8 927.7 455.3 928.5 452.8 929 C450.3 929.5 447.8 929.8 445.3 930.2 C442.8 930.7 440.5 931.2 437.8 931.5 C435 931.8 431.9 932.3 429 932.1 C426.1 931.9 422.9 931 420.2 930.2 C417.5 929.5 415 929 412.7 927.7 C410.4 926.5 408.3 924.6 406.4 922.7 C404.5 920.8 402.5 918.7 401.4 916.4 C400.3 914.1 400.1 911.6 399.9 908.9 C399.7 906.2 400 903.3 400.1 900.1 C400.3 897 400.4 893.4 400.7 890.1 C401.1 886.7 401.5 883.4 402 880 C402.5 876.7 403.5 870.8 403.9 870 C404.3 869.2 404.1 875.8 404.5 875.5 C404.9 875.1 405.7 870.4 406.4 867.9 C407.1 865.4 407.9 862.9 408.9 860.4 C409.9 857.9 411.2 855.4 412.7 852.9 C414.1 850.4 416 847.6 417.7 845.3 C419.4 843 420.8 841.2 422.7 839.1 C424.6 837 426.9 834.7 429 832.8 C431.1 830.9 433 829.4 435.3 827.8 C437.6 826.1 440.3 824.2 442.8 822.7 C445.3 821.3 447.8 820.4 450.3 819 C452.8 817.5 455.3 815.6 457.8 814 C460.4 812.3 462.9 810.8 465.4 808.9 C467.9 807.1 470.4 804.5 472.9 802.7 C475.4 800.8 477.9 799.3 480.4 797.6 C482.9 796 485.5 794.1 488 792.6 C490.5 791.2 493 790.3 495.5 788.9 C498 787.4 500.3 785.5 503 783.8 C505.7 782.2 508.9 780.4 511.8 778.8 C514.7 777.3 517.6 775.7 520.6 774.4 C523.6 773.2 527.1 772.4 530 771.3 C532.9 770.2 535.8 769 537.8 767.8 C539.7 766.5 540.5 765.5 541.5 764 C542.6 762.5 543 760.7 544 759 C545.1 757.3 546.7 755 547.8 754 C549 753 550.5 753.1 550.9 753 C551.4 752.9 549.6 753.2 550.7 753.4Z" fill="#7ab317" shape-rendering="crispEdges"/>
<path d="M550.7 788.2 C552.6 788.3 557.5 787.7 562.3 788.2 C567.1 788.7 573.8 790.5 579.5 791.3 C585.3 792.1 591 792.3 596.8 793 C602.5 793.8 609.7 794.8 614 795.6 C618.3 796.5 619.2 796.9 622.6 798.2 C626.1 799.5 631.6 801.4 634.7 803.4 C637.9 805.4 639.6 807.4 641.6 810.3 C643.6 813.2 645.2 816.6 646.8 820.6 C648.4 824.7 650.1 829.8 651.1 834.5 C652.1 839.1 652.7 843.9 652.8 848.3 C653 852.6 652.7 856.9 652 860.3 C651.3 863.8 650.3 868.2 648.5 869 C646.8 869.8 644.5 864.1 641.6 865.2 C638.8 866.3 634.7 871.8 631.3 875.5 C627.8 879.3 624.4 884 620.9 887.6 C617.5 891.2 614.6 893.9 610.6 897.1 C606.5 900.3 601.9 903.6 596.8 906.6 C591.6 909.6 585.3 912.8 579.5 915.2 C573.8 917.7 568 919.4 562.3 921.3 C556.5 923.1 548.4 925.3 545 926.4 C541.6 927.6 544 927.2 542.1 928.2 C540.1 929.2 536.3 930.9 533.4 932.5 C530.6 934.1 527 936.2 524.8 937.6 C522.6 939.1 521.9 940.2 520.5 941.1 C519.1 942 518 941.4 516.2 942.8 C514.3 944.3 511.1 947.4 509.3 949.7 C507.4 952 506.1 956.1 505 956.6 C503.8 957.2 504.5 961.5 502.4 953.2 C500.3 944.8 494.5 913.6 492.4 906.4 C490.2 899.2 490.8 909.2 489.2 910.2 C487.6 911.1 485 911.6 482.9 912 C480.8 912.5 478.8 912.5 476.7 912.7 C474.6 912.9 472.5 913 470.4 913.3 C468.3 913.6 466.2 914 464.1 914.5 C462 915.1 459.9 915.9 457.8 916.4 C455.8 917 453.7 917.2 451.6 917.7 C449.5 918.2 447.2 919.2 445.3 919.6 C443.4 920 442.2 920.7 440.3 920.2 C438.4 919.7 435.9 918.1 434 916.4 C432.1 914.8 430.2 912.5 429 910.2 C427.7 907.9 427.1 905.1 426.5 902.6 C425.8 900.1 425.6 897.8 425.2 895.1 C424.8 892.4 424.3 889.2 424 886.3 C423.6 883.4 423.3 880.2 423.3 877.5 C423.3 874.8 423.9 870.3 424 870 C424.1 869.7 423.8 875.6 424 875.5 C424.2 875.3 424.6 871.3 425.2 869.2 C425.8 867.1 426.7 865 427.7 862.9 C428.8 860.8 429.8 858.7 431.5 856.6 C433.2 854.5 435.5 852.4 437.8 850.4 C440.1 848.3 442.8 846.2 445.3 844.1 C447.8 842 450.3 839.9 452.8 837.8 C455.3 835.7 457.8 833.6 460.4 831.5 C462.9 829.4 465.4 827.1 467.9 825.3 C470.4 823.4 472.9 821.7 475.4 820.2 C477.9 818.8 480.4 817.9 482.9 816.5 C485.5 815 487.5 813.1 490.5 811.5 C493.4 809.8 497.2 808.1 500.5 806.4 C503.9 804.8 507.2 802.9 510.5 801.4 C513.9 799.9 517.3 798.7 520.6 797.6 C523.8 796.6 527.1 796.1 530 795.1 C532.9 794.1 535.2 792.7 537.8 791.6 C540.3 790.5 543.1 789.1 545.3 788.5 C547.5 787.8 550 787.9 550.9 787.8 C551.8 787.8 548.8 788.1 550.7 788.2Z" fill="#3d9f2b" shape-rendering="crispEdges"/>
<path d="M550.7 818.1 C552.6 818.2 558.6 818.3 562.3 818.9 C565.9 819.5 569.2 820.4 572.6 821.5 C576.1 822.7 579.8 824 583 825.8 C586.1 827.7 589 830.3 591.6 832.7 C594.2 835.2 596.5 838.2 598.5 840.5 C600.5 842.8 602.4 844.4 603.7 846.5 C605 848.7 606 850.8 606.3 853.4 C606.5 856 606.5 861 605.4 862.1 C604.2 863.2 600.8 859.2 599.4 860 C597.9 860.8 598.3 864 596.8 866.9 C595.2 869.8 592.7 873.8 589.9 877.3 C587 880.7 583.2 884.3 579.5 887.6 C575.8 890.9 571.5 894.5 567.4 897.1 C563.4 899.7 559.1 901.6 555.4 903.1 C551.6 904.7 547.2 905.7 545 906.2 C542.8 906.8 543.1 905.7 542.1 906.6 C541 907.5 540 910 538.6 911.8 C537.2 913.5 535.7 916.1 533.4 916.9 C531.1 917.8 531.3 919.1 524.8 916.9 C518.3 914.8 500.4 908 494.6 904 C488.9 900 492.5 894.9 490.3 892.8 C488.1 890.6 484.5 891.1 481.7 891.1 C478.8 891.1 475.6 891.6 473 892.8 C470.5 893.9 468.2 896.5 466.1 898 C464.1 899.4 462.7 902 461 901.4 C459.2 900.8 456.9 897.1 455.8 894.5 C454.6 891.9 454.6 888.8 454.1 885.9 C453.5 883 452.3 880.1 452.3 877.3 C452.3 874.4 453.5 871.5 454.1 868.6 C454.6 865.8 455.5 858.9 455.8 860 C456.1 861.1 455.2 874.1 455.8 875 C456.4 875.9 457.5 868.8 459.2 865.5 C461 862.2 463.5 858.3 466.1 855.2 C468.7 852 471.9 849.4 474.8 846.5 C477.6 843.7 480.5 840.5 483.4 837.9 C486.3 835.3 489.1 833 492 831 C494.9 829 497.5 827.3 500.6 825.8 C503.8 824.4 507.5 823.4 511 822.4 C514.5 821.4 517.6 820.4 521.4 819.8 C525.1 819.2 528.5 818.9 533.4 818.6 C538.3 818.3 548 818.1 550.9 818.1 C553.7 818 548.8 817.9 550.7 818.1Z" fill="#35866d" shape-rendering="crispEdges"/>
<path d="M491.2 878.1 C492.3 877.5 496.5 877 498.9 876.4 C501.4 875.8 503.5 875.1 505.8 874.7 C508.1 874.2 510.7 873.2 512.7 873.8 C514.7 874.4 517 876.7 517.9 878.1 C518.8 879.6 519.1 881.6 517.9 882.4 C516.8 883.3 513 883.6 511 883.3 C509 883 507.8 881.1 505.8 880.7 C503.8 880.3 501.2 880.8 498.9 880.7 C496.6 880.6 493.3 880.8 492 880.4 C490.7 879.9 490 878.8 491.2 878.1Z" fill="#0068b2" shape-rendering="crispEdges"/>
<path d="M517.9 893.6 C519.1 893.4 522.8 894.2 524.8 895.4 C526.8 896.5 529.5 899.3 530 900.5 C530.4 901.8 528.5 903.3 527.4 903.1 C526.2 903 524.7 900.7 523.1 899.7 C521.5 898.7 518.8 898.1 517.9 897.1 C517 896.1 516.8 893.9 517.9 893.6Z" fill="#0068b2" shape-rendering="crispEdges"/>
<path d="M523.9 914.4 C524.4 913.2 525.9 913.8 526.2 915.2 C526.5 916.7 526.1 921.8 525.7 923 C525.2 924.1 523.7 923.6 523.4 922.1 C523.1 920.7 523.5 915.5 523.9 914.4Z" fill="#0068b2" shape-rendering="crispEdges"/>
<path d="M494.2 896.4 C495.6 895 498.2 894.7 500.5 894.5 C502.8 894.3 505.5 894.7 508 895.1 C510.5 895.5 513.3 896.1 515.6 897 C517.9 897.8 520.1 898.9 521.8 900.1 C523.6 901.4 525.6 902.6 526.2 904.5 C526.9 906.4 526 909.2 525.6 911.4 C525.2 913.6 524.2 915.4 523.7 917.7 C523.2 920 523 922.7 522.5 925.2 C521.9 927.7 521.1 930.7 520.6 932.7 C520.1 934.8 520.4 936.5 519.3 937.8 C518.3 939 515.8 939.2 514.3 940.3 C512.8 941.3 511.8 942.6 510.5 944 C509.3 945.5 507.8 947.4 506.8 949.1 C505.7 950.7 504.9 952.6 504.3 954.1 C503.6 955.5 504.3 957 503 957.8 C501.8 958.7 498.8 959 496.7 959.1 C494.7 959.2 492.4 957.9 490.5 958.5 C488.6 959 487.1 961.5 485.5 962.2 C483.8 963 481.9 963.2 480.4 962.9 C479 962.5 478.3 960.6 476.7 960.4 C475 960.1 472.3 961.1 470.4 961.6 C468.5 962.1 467 962.7 465.4 963.5 C463.7 964.3 462 965.7 460.4 966.6 C458.7 967.6 456.8 968.2 455.3 969.1 C453.9 970.1 452.7 971.9 451.6 972.3 C450.4 972.7 449.5 972.4 448.4 971.6 C447.4 970.9 445.8 969.3 445.3 967.9 C444.8 966.4 444.9 964.5 445.3 962.9 C445.7 961.2 446.5 959.3 447.8 957.8 C449.1 956.4 451.2 955.3 452.8 954.1 C454.5 952.8 456.2 951.5 457.8 950.3 C459.5 949.2 461.2 948.2 462.9 947.2 C464.5 946.1 466.2 945.2 467.9 944 C469.6 942.9 471.4 941.7 472.9 940.3 C474.4 938.8 475.6 936.9 476.7 935.3 C477.7 933.6 478.5 932.1 479.2 930.2 C479.8 928.4 479.8 925.8 480.4 924 C481.1 922.1 481.9 920.6 482.9 918.9 C484 917.3 485.5 915.6 486.7 913.9 C488 912.2 489.5 910.8 490.5 908.9 C491.4 907 491.7 904.7 492.4 902.6 C493 900.5 492.9 897.7 494.2 896.4Z" fill="#ffffff" shape-rendering="crispEdges"/>
<path d="M379.9 755.1 C380.6 753.8 383 752.1 385 751.6 C387.1 751.2 390.6 751.8 391.9 752.5 C393.2 753.2 393.7 754.9 392.8 755.9 C391.9 756.9 388.8 758 386.8 758.5 C384.8 759.1 381.9 760 380.7 759.4 C379.6 758.8 379.1 756.4 379.9 755.1Z" fill="#ffffff" shape-rendering="crispEdges"/>
<path d="M367.8 774.1 C370.1 772.9 372.4 772.9 374.7 772.3 C377 771.8 379.6 770.8 381.6 771 C383.6 771.1 385 772.4 386.8 773.2 C388.5 774 391.9 774.9 391.9 775.8 C391.9 776.6 388.8 777.4 386.8 778.4 C384.8 779.4 382.5 780.8 379.9 781.8 C377.3 782.8 374.1 784 371.2 784.4 C368.4 784.8 364.3 784.9 362.6 784.1 C360.9 783.2 360 780.9 360.9 779.2 C361.7 777.6 365.5 775.2 367.8 774.1Z" fill="#ffffff" shape-rendering="crispEdges"/>
<path d="M452.3 753.4 C452.8 752.2 454.1 750.3 455.8 749.9 C457.5 749.5 460.5 750.5 462.7 750.8 C464.8 751.1 467.9 750.9 468.7 751.6 C469.6 752.3 469.4 754.2 467.9 755.1 C466.3 755.9 461.7 756.5 459.2 756.8 C456.8 757.1 454.3 757.4 453.2 756.8 C452 756.2 451.9 754.5 452.3 753.4Z" fill="#ffffff" shape-rendering="crispEdges"/>
<path d="M437.7 779.2 C438.8 778.7 442.7 780.5 445.4 781 C448.2 781.4 452.5 781.1 454.1 781.8 C455.6 782.5 456.4 784.6 454.9 785.3 C453.5 786 448.2 786.3 445.4 786.1 C442.7 786 439.8 785.6 438.5 784.4 C437.2 783.3 436.5 779.8 437.7 779.2Z" fill="#ffffff" shape-rendering="crispEdges"/>
<path d="M413.5 772.7 L420.4 773 L419.9 775.8 L414 775.4Z" fill="#ffffff" shape-rendering="crispEdges"/>
<path d="M415.2 764.6 L419.5 766.3 L419.2 768.2 L415.8 766.8Z" fill="#ffffff" shape-rendering="crispEdges"/>
<path d="M484.3 746.1 L486.2 746.8 L485.8 749.2 L484.4 748.5Z" fill="#ffffff" shape-rendering="crispEdges"/>
<path d="M458.4 751.6 L461.8 753.4 L461 756.8 L457.9 755.9Z" fill="#ff2a00" shape-rendering="crispEdges"/>
<path d="M634.7 752.5 C635.4 752.1 637.9 752.3 639 753.4 C640.2 754.4 641.5 757.1 641.6 758.5 C641.8 760 640.8 761.8 639.9 762 C639 762.1 637.3 760.4 636.5 759.4 C635.6 758.4 635 757.1 634.7 755.9 C634.4 754.8 634 752.9 634.7 752.5Z" fill="#ffffff" shape-rendering="crispEdges"/>
<path d="M638.2 762 L640.8 762.3 L640.8 765.1 L638.2 764.7Z" fill="#ff2a00" shape-rendering="crispEdges"/>
<path d="M637 753 L639 753 L639 755.1 L637 755.1Z" fill="#ff2a00" shape-rendering="crispEdges"/>
<path d="M699.8 783.5 L703.4 784.1 L703.4 787.9 L700.3 787.5Z" fill="#ffffff" shape-rendering="crispEdges"/>
<path d="M699.8 782.7 L702.4 783 L702.4 784.8 L699.8 784.4Z" fill="#ff2a00" shape-rendering="crispEdges"/>
<path d="M746.9 818.9 C748.3 818.6 749.5 821.8 750.3 824.1 C751.2 826.4 751.9 829.8 752.1 832.7 C752.2 835.6 752.3 839.6 751.2 841.4 C750 843.1 747 842.9 745.2 843.1 C743.3 843.2 741.3 841.6 740 842.2 C738.7 842.8 738.3 846 737.4 846.5 C736.5 847.1 735.2 846.8 734.8 845.7 C734.4 844.5 734.2 841.8 734.8 839.6 C735.4 837.5 737.1 835 738.3 832.7 C739.4 830.4 740.3 828.1 741.7 825.8 C743.1 823.5 745.4 819.2 746.9 818.9Z" fill="#ffffff" shape-rendering="crispEdges"/>
<path d="M752.1 856.9 C753.3 857.2 755.1 858.6 755.9 862.1 C756.6 865.5 757.6 875 756.4 877.6 C755.2 880.2 750.5 879.6 748.6 877.6 C746.7 875.6 745.2 868.4 745.2 865.5 C745.2 862.6 747.5 861.8 748.6 860.3 C749.8 858.9 750.9 856.6 752.1 856.9Z" fill="#ffffff" shape-rendering="crispEdges"/>
<path d="M745.2 857.4 C742.3 858.3 745.3 863.3 746 865.2 C746.7 867 748.6 866.9 749.5 868.6 C750.3 870.4 750.5 873.4 751.2 875.5 C751.9 877.7 752.6 880.1 753.8 881.6 C754.9 883 756.5 887.8 758.1 884.2 C759.7 880.6 765.4 864.5 763.3 860 C761.1 855.5 748 856.5 745.2 857.4Z" fill="#ffffff" shape-rendering="crispEdges"/>
</g>
<path d="M382.1 747.9 L385.6 745.6 L389.1 744.4 L392.6 745 L396.2 746.8 L399.1 747.9 L401.5 746.2 L404.4 747.4 L407.9 748.5 L411.5 748.5 L416.2 749.7 L419.7 749.1 L424.4 750.9 L429.1 752.1 L433.8 754.4 L436.2 752.6 L439.7 749.7 L443.2 748.5 L447.9 748.2 L452.6 747.9 L457.4 746.2 L462.1 743.8 L466.8 742.6 L470.3 742.6 L472.1 740.9 L471.5 739.1 L467.9 739.7 L471.5 736.2 L473.8 732.6 L476.2 729.7 L477.9 730.3 L479.1 733.8 L480.3 737.4 L479.1 739.9 M383.2 746.8 L390.9 740.6 M385.6 747.4 L392.1 742.1 L390.3 739.9 L387.4 742.6 M404.4 738.8 L406.8 737.9 L411.5 738.8 L415 739.7 L416.8 741.5 L413.8 745 L411.5 742.6 L408.5 739.9 L405.6 739.5 L404.4 738.8 M474.4 716.2 L476.8 714.4 L479.1 715.6 L477.9 719.7 L475.6 722.1 L473.2 720.9 L474.4 716.2 M478.5 739.1 L479.7 736.2 L480.3 730.3 L482.1 725.6 L480.3 723.2 L482.1 718.5 L483.8 712.6 L486.2 706.8 L489.1 702.1 L492.6 698.5 L497.4 694.4 L502.6 691.2 L503.8 692.1 L500.3 695 L496.8 698.5 L493.8 702.1 L491.5 705.6 L489.7 709.7 L488.5 713.8 L489.1 720.3 L492.6 717.9 L495.6 716.8 L497.4 717.4 L500.3 715.6 L502.1 716.2 L503.2 720.3 L507.4 719.7 L511.5 719.1 L515.6 718.5 L517.9 719.1 L515.6 720.3 L512.6 721.1 L514.4 723.2 L516.2 726.2 L515.6 730.3 L514.4 735 L512.6 737.4 L510.3 738.5 L507.4 740.3 L507.4 742.6 L509.1 744.4 L509.7 746.8 L512.1 745.6 L515.6 743.2 L519.1 742.6 L522.1 743.8 L524.4 745.6 L525.6 747.4 L523.8 749.1 L520.9 750.9 L518.5 752.6 L516.8 751.5 L513.8 752.6 L514.4 755 L517.4 756.2 L520.3 757.4 L522.1 759.7 L525 760.9 L526.2 762.6 L524.4 765 L522.1 766.2 L521.5 769.1 L520.9 772.6 L519.1 775 L516.8 777.9 L514.4 779.7 L512.6 781.5 L510.3 780.3 L507.9 782.1 L505 782.1 L502.1 782.6 L498.5 784.4 L495 785.6 L491.5 786.8 L486.8 788.5 L482.1 789.7 L477.9 790.9 L476.2 795 L475 797.4 M524.4 734.1 L526.8 732.6 L530.3 733.2 L532.1 735 L529.7 736.2 L526.8 735.6 L524.4 734.1 M625 683.2 L619.7 688.5 L613.8 690.3 L610.3 694.4 L606.2 696.2 L604.4 700.3 L600.9 702.1 L599.7 706.8 L601.5 709.1 L601.5 712.6 L597.4 716.2 L593.8 719.7 L589.7 719.1 L585.6 718.5 L580.9 719.7 L578.5 719.1 L576.2 717.4 L571.5 719.7 L564.4 723.2 L557.4 726.8 L552.6 727.9 L552.1 730.3 L553.8 733.8 L555 737.4 L556.8 739.1 L553.8 739.7 L551.5 740.3 L550.3 746.2 L548.5 746.8 L548.5 744.4 L544.4 742.6 L542.1 740.9 L538.5 739.1 L535.6 738.3 L534.4 740.3 L535 743.2 L532.6 745 L530.3 746.2 L530.3 748.5 L532.6 750.9 L536.2 752.1 L539.1 752.6 L540.3 750.9 L539.1 748.5 L540.9 750.3 L540.9 753.2 L545.6 757.4 L550.3 760.9 L553.8 763.8 L557.4 765.6 L562.6 766.5 L567.9 766.8 L568.5 763.2 L570.3 762.1 L572.1 765.6 L576.2 767.4 L580.9 769.1 L585 770.9 L586.2 773.8 L585 776.8 L586.8 779.1 L590.9 781.5 L594.4 782.6 L596.2 785.6 L597.4 790.3 L601.5 795 L604.4 798.5 L606.2 800.9 L609.1 799.1 L610.9 797.4 M625 705.6 L620.9 709.1 L616.2 713.2 L611.5 715.6 L604.4 720.9 L597.4 725.4 L592.6 727.4 L589.7 730.3 L587.9 733.2 L591.5 733.6 L593.8 730.3 L597.4 725.6 L601.5 726.2 L602.1 730.3 L601.5 732.6 L604.4 733.2 L609.7 733.8 L613.2 731.5 L616.2 730.3 L617.9 727.4 L617.4 725 L620.9 725 L625 726.2 M547.4 773.2 L549.7 771.2 L552.6 771.5 L553.8 772.6 L552.1 775 L549.1 775.2 L547.4 773.2 M615 690.3 L617.4 689.7 L621.5 688.5 L625 684.4 L630.5 682.3 L630.1 690.3 L628.5 697.4 L626.2 704.4 L622.1 710.3 L617.4 714.4 L615 716.2 M615 726.2 L616.8 725.6 L620.3 725 L624.4 725.6 L627.4 727.4 L626.8 730.3 L629.1 733.2 L633.2 732.6 L637.4 736.2 L642.1 739.7 L646.2 742.6 L651.5 742.1 L659.7 740.9 L667.9 739.9 L676.2 739.1 L679.1 739.5 L677.9 736.2 L676.8 732.1 L677.4 729.1 L673.8 728.5 L670.9 726.2 L669.7 722.1 L670.3 718.5 L672.6 715 L676.2 711.5 L680.9 709.1 M672.6 701.5 L670.9 705.6 L668.5 710.3 L665.6 716.2 L662.6 720.9 L663.2 722.1 L667.9 719.1 L671.5 716.2 L673.8 712.6 L675.6 707.9 L676.8 704.4 M518.6 775 L517.2 777.8 L515.3 779.2 L513.4 778.8 L511.5 781.1 L508.7 780.6 L505.9 782.1 L502.1 783 L498.4 784.4 L494.6 785.8 L490.8 787.7 L487.1 788.2 L482.4 789.1 L478.6 790.1 L477.6 792.4 L478.1 795.2 L476.2 797.1 L475.3 799.5 L474.4 802.3 L472.9 804.2 L472 806.5 L470.1 807.9 L468.2 807.5 L467.3 809.8 L465.4 811.2 L464 813.6 L462.1 815.5 L459.3 816.9 L456.5 818.8 L454.1 821.1 L452.2 823.5 L450.8 822.1 L450.4 820.2 L448.5 821.6 L447.1 823.9 L446.1 827.7 L445.6 830.5 L443.8 831.5 L443.3 832.9 L445.2 833.8 L448 832.9 L449.4 835.2 L448.9 838.1 L447.1 840.9 L444.2 843.7 L441.9 845.6 L440 846.5 M470.1 816.4 L472.9 815 L477.2 814.1 L479.5 816.4 L481.9 819.2 L484.2 822.1 L486.6 823 L485.2 826.3 L482.4 829.6 L479.5 831 L476.2 831.5 L475.3 828.6 L473.9 825.8 L472 822.1 L470.6 819.2 L470.1 816.4 M459.3 829.6 L460.2 827.2 L461.6 823.9 L463.5 822.1 L465.9 822.5 L467.3 824.9 L469.2 823.9 L472 826.3 L474.4 829.6 L475.3 831.9 L472.9 833.4 L471.5 836.2 L469.6 837.6 L470.1 839.9 L468.2 839 L465.9 839.5 L464 839.9 L467.3 840.9 L470.1 842.3 L471.5 844.6 L470.1 846.5 L468.7 845.1 L467.3 844.6 L463.5 844.2 L460.2 844.2 L456.5 845.6 L453.2 847.5 L450.4 846.1 L447.5 845.1 L446.6 842.8 L448.5 839.9 L449.9 837.1 L450.4 833.4 L449.9 830.5 L451.3 827.7 L453.2 824.9 L455.5 823.5 L458.4 822.1 L460.7 821.1 M458.8 852.2 L461.6 849.8 L465.4 848.9 L468.2 850.3 L471.1 852.2 L471.1 855 L468.2 856.4 L464.5 856.7 L461.2 856.9 L458.8 855 L458.8 852.2 M446.1 855 L447.5 851.7 L449.4 850.3 L451.3 852.2 L451.8 855 L449.4 857.4 L446.6 857.6 L446.1 855 M460.2 859.7 L463.5 858.8 L467.3 859.2 L470.6 860.6 L472 863.5 L470.1 866.3 L467.3 864.9 L464.5 863 L461.6 861.6 L460.2 859.7 M478.6 839 L479.5 836.6 L481.4 836.2 L484.2 833.8 L486.1 833.4 L488.5 835.2 L489.9 837.6 L488 839.9 L485.2 840.9 L482.8 842.3 L481.4 844.6 L483.3 844.2 L487.1 844.2 L488.9 845.1 L487.5 846.5 L484.2 847 L481.9 848.4 L480.5 846.5 L480 843.7 L479.5 840.9 L478.6 839 M490.8 831 L492.7 830.1 L494.6 832.4 L496.5 836.2 L495.5 839.9 L493.6 839 L491.8 835.7 L490.6 832.9 L490.8 831 M493.2 844.6 L495.1 843.7 L496.5 845.1 L498.4 845.6 L499.3 847.5 L497.4 848.7 L495.5 847 L493.6 846.5 L493.2 844.6 M495.1 853.3 L499.8 852.9 L497.4 856.4 L494.6 858.3 L491.3 857.8 L493.2 855.5 L495.1 853.3 M488.9 861.1 L492.7 859.7 L495.1 860.2 L493.2 862.1 L489.9 863.5 L488.5 862.5 L488.9 861.1 M477.6 853.1 L480.5 852.2 L483.3 852.6 L484.7 855 L484.2 857.8 L486.1 859.7 L487.1 861.6 L485.2 863.5 L483.3 865.4 L481.4 867.7 L479.1 869.1 L477.6 867.2 L479.5 864.4 L477.6 863.5 L475.3 863 L474.4 860.6 L476.2 859.2 L478.6 860.2 L480.5 858.8 L479.5 855.9 L477.6 853.1 M491.8 865.8 L494.6 864.4 L497.4 863 L501.2 862.1 L504.9 863 L507.8 864.9 L505.9 866.8 L504 868.2 L503.1 871 L503.5 873.8 L504.9 871.9 L504.5 869.1 L505.9 867.7 L509.6 866.8 L512.5 868.2 L514.8 871 L516.7 873.8 L518.1 877.6 L519.1 881.4 L518.1 884.6 L515.3 885.1 L512.5 884.2 L510.6 885.6 L507.3 885.1 L504.9 884.6 L503.1 883.2 L500.2 881.4 L497.4 880.4 L495.5 879.5 L492.7 879.9 L489.9 879.5 L487.1 880.4 L484.7 879.9 L484.2 877.1 L483.8 873.8 L482.8 871 L484.2 868.6 L487.1 869.1 L488.9 871 L490.8 869.6 L493.6 870.1 L495.5 871.9 L498.4 871.5 L500.2 869.6 L497.4 869.1 L494.6 868.6 L492.7 867.7 L491.8 865.8 M487.1 895 L488 891.7 L489.9 889.4 L492.2 886.5 L495.1 884.6 L498.4 885.6 L502.1 887 L505.9 887.5 L509.6 887.9 L514.4 887.5 L518.1 888.9 L520 891.2 L524.7 892.6 L529.4 894.1 L533.2 895 M453.6 895 L453.2 892.6 L452.2 887.9 L451.3 883.2 L451.8 878.5 L452.2 873.8 L453.2 870.1 L456 867.7 L459.8 867.2 L463.5 868.2 L467.3 869.6 L469.6 871.9 L468.2 873.8 L465.4 873.4 L463.5 874.8 L466.8 876.2 L469.2 878.5 L470.1 881.4 L468.2 883.2 L465.4 882.3 L462.6 883.2 L464.9 885.1 L468.2 886.1 L469.2 887.9 L467.3 888.9 L464 887.9 L462.1 889.4 L463.5 891.7 L462.6 895 M474.8 859.7 L477.2 858.8 L479.5 860.2 L480.5 862.5 L478.6 863.9 L476.7 863 L475.3 864.4 L474.8 868.2 L476.2 871 L477.6 873.8 L479.5 876.6 L480 879.5 L477.6 880.4 L475.3 879.5 L473.9 876.6 L472.9 872.9 L472.5 869.1 L473.4 865.4 L474.4 862.5 L474.8 859.7 M440 853.1 L443.8 855 L448.5 856.9 L453.2 857.8 L457.9 858.3 M450.9 865.6 L450.3 871.5 L449.7 877.4 L448.5 882.1 L445.6 883.2 L442.1 883.8 L438.5 885 L435 882.6 L432.6 879.7 L432.1 876.8 L429.1 875.9 L425.6 875 L422.6 872.6 L419.7 870.3 L417.4 867.4 L413.8 865.6 L410.3 862.1 L406.8 858.5 L402.1 856.2 L397.4 855 L392.6 855.6 L390.3 859.1 L386.8 859.7 L382.6 862.6 L382.1 866.8 L379.7 871.5 L376.8 876.2 L374.4 882.1 L373.2 887.9 L371.5 892.1 L365.6 893.2 L360.9 895 L356.2 898.5 L353.2 902.1 L354.4 904.4 L358.5 906.2 L364.4 905.6 L369.1 903.2 L372.6 900.9 L375.6 904.4 L379.7 906.8 L384.4 907.4 L389.1 905.6 L392.6 902.6 L395.6 899.7 L399.1 900.3 L403.2 899.7 L407.9 898.5 L412.6 897.4 L415.6 897.9 L416.2 900.9 L415.6 905.6 L413.8 910.3 L412.6 915 L412.1 918.5 L410.3 920.9 L406.8 922.1 L403.8 923.2 L402.1 925.6 L400.9 928.5 L403.2 931.5 L407.9 932.1 L411.5 932.6 L415 932.6 L412.6 935.6 L410.3 939.1 L407.4 942.6 L405.6 945 M417.4 875 L424.4 875.6 L429.1 876.2 L426.8 880.9 L424.4 885.6 L419.7 890.3 L417.9 889.1 L418.5 885.6 L422.1 884.4 L421.5 882.6 L417.9 881.5 L416.2 879.1 L417.4 875 M410.9 884.4 L412.6 882.6 L415 884.4 L413.8 886.8 L411.5 886.5 L410.9 884.4 M409.7 892.9 L411.2 891.7 L412.6 893.2 L411.2 894.5 L409.7 892.9 M466.8 885.6 L464.4 884.4 L462.6 883.2 L464.4 882.1 L467.9 880.9 L470.3 882.1 L469.1 884.4 L466.8 886.8 L464.4 890.3 L462.6 895 L459.7 899.7 L457.4 904.4 L453.8 906.8 L450.9 907.9 L449.7 912.6 L448.5 918.5 L446.2 923.8 L442.1 923.8 L438.5 922.6 L439.7 918.5 L440.9 915 L439.1 913.2 L436.8 915 L435 918.5 L432.6 922.6 L429.1 925.6 L425.6 925.6 L426.2 919.7 L425 917.4 L423.2 920.9 L421.5 924.4 L420.3 919.7 L420.9 913.8 L422.6 909.7 L425 905.6 L425.6 900.9 L423.2 897.4 L424.4 893.8 L427.9 894.4 L429.1 897.4 L430.9 900.3 L436.2 900.9 L440.9 901.5 L445 899.7 L446.8 895 L449.7 891.5 L452.6 887.9 M438.5 895 L440.9 892.9 L445 893.2 L446.2 895 L443.8 897.1 L440.3 897.1 L438.5 895 M485 913.8 L482.1 916.2 L479.1 919.1 L475.6 921.5 L475 924.4 L472.6 926.2 L470.3 925.6 L467.9 927.4 L467.4 930.3 L470.3 932.1 L467.9 932.6 L464.4 933.2 L459.7 934.4 L456.2 936.2 L453.8 938.5 L452.6 941.5 L451.5 945 M475 921.5 L477.4 918.5 L479.7 915 L482.1 911.5 L485 907.9 L486.8 904.4 L488.5 900.9 L487.4 897.4 L486.2 893.2 L487.9 890.3 L491.5 888.5 L492.6 885.6 L495.6 884.4 L498.5 886.8 L502.1 889.1 L505.6 887.9 L509.1 886.2 L512.6 885 L516.2 886.2 L519.1 889.1 L520.9 892.6 L522.1 896.2 L524.4 894.4 L527.9 893.2 L531.5 892.6 L535 895 L537.4 898.5 L537.9 901.5 L535.6 902.6 L532.6 901.5 L530.3 902.1 L533.8 903.8 L536.2 905.6 L539.7 906.8 L542.1 908.5 L540.9 911.5 L537.9 913.2 L535.6 914.4 L533.8 917.4 L532.6 920.9 L530.9 923.2 L530.3 926.8 L528.5 930.3 L526.8 932.6 L527.4 935.6 L525 937.9 L523.8 940.9 L524.4 945 M505.6 866.8 L503.2 869.7 L503 873.8 L504.4 875 L505 871.5 L506.8 867.9 M560.3 918.5 L563.2 916.2 L566.2 913.8 L567.9 911.5 L570.9 910.9 L574.4 912.1 L573.8 915 L570.9 916.8 L569.1 917.4 L570.3 920.9 L569.7 924.4 L570.9 927.9 L569.1 931.5 L566.8 929.1 L564.4 925.6 L562.1 922.6 L560.3 918.5 M566.2 916.2 L569.1 918.5 L570.3 921.5 M572.6 922.1 L574.4 921.1 L576.2 923.2 L574.8 925.8 L572.9 924.4 L572.6 922.1 M585 899.7 L586.8 897.4 L587.7 899.1 L585.8 901.5 L585 899.7 M594.4 863.2 L597.4 861.5 L601.5 859.1 L604.4 856.2 L606.8 853.2 L608.5 852.6 L610.3 857.4 L606.8 858.5 L605 860.9 L606.2 863.2 L603.2 865 L599.7 866.2 L596.8 865.6 L594.4 863.2 M601.5 859.1 L604.4 860.3 L605.6 863.2 M600.9 800.9 L602.6 799.1 L604.4 800.9 L603.8 803.8 L602.1 805 L600.6 803.2 L600.9 800.9 M588.5 802.6 L591.5 802.1 L593.8 804.4 L597.4 807.9 L600.9 810.9 L602.1 813.8 L598.5 815.6 L595 813.8 L592.6 810.3 L590.9 806.8 L588.5 802.6 M607.9 797.9 L611.5 796.8 L615 799.5 M625 840.9 L622.1 839.5 L617.9 838.5 L615.6 840.9 L614.4 844.4 L612.6 848.5 L611.5 851.5 L615 854.8 M615.2 904.4 L615.8 900.9 L615.6 896.2 L614.4 892.1 L611.5 892.6 L612.1 897.4 L611.5 902.1 L613.2 906.8 L615 911.2 M615 799.7 L618.5 802.1 L622.1 803.8 L623.8 806.2 L622.6 809.1 L619.7 811.5 L617.4 814.4 L617.9 818.5 L620.3 821.5 L623.2 822.6 L624.4 825.6 L623.8 829.1 L625.6 832.6 L627.4 835.6 L626.8 837.9 L625 840.6 M615 855 L618.5 857.4 L620.9 860.9 L622.1 865.6 L625.6 869.1 L628.5 872.1 L631.5 873.2 L632.1 877.4 L632.6 880.9 L636.2 882.1 L641.5 881.5 L640.3 883.8 L638.5 885.6 L638.5 889.7 L642.6 890.5 L638.5 890.9 L634.4 890.5 L638.5 891.5 L640.3 893.8 L644.4 895 L649.1 897.4 L653.8 896.2 L658.5 896.8 L662.1 899.1 L665 902.6 L665.6 905.6 L662.6 903.8 L659.7 900.9 L656.2 899.1 L651.5 899.1 L646.8 898.5 L642.1 896.8 L637.4 895 L633.8 894.8 L631.5 896.8 L632.6 899.7 L635.6 902.6 L638.5 905 L642.1 906.2 L645.6 906.8 L649.1 906.2 L652.6 906.8 L653.8 907.9 L650.3 910.3 L646.8 912.6 L643.2 915 L640.3 917.4 L642.1 919.7 L645 921.5 L642.6 923.2 L641.5 926.8 L640.3 930.3 L637.4 932.1 L636.8 936.2 L636.2 940.9 L635.6 945 M615 904.4 L617.4 907.9 L619.7 912.6 L622.1 917.4 L625 920.3 L629.1 920.9 L632.6 920.3 L631.5 922.6 L628.5 924.4 L625 925.6 L622.1 923.2 L619.1 918.5 L616.2 913.8 L615 911.5 M412.6 935 L410.3 938.5 L407.4 942.6 L404.4 946.8 L401.5 949.1 L399.1 949.7 L397.9 953.8 L396.8 958.5 L397.4 963.2 L396.2 967.4 L394.4 969.7 L395.6 972.6 L393.2 975.6 L390.3 977.4 L386.8 978.3 L383.2 976.8 L379.7 974.4 L376.2 972.1 L374.4 971.7 M375.6 972.4 L382.1 976.2 L387.4 979.1 L386.2 981.5 L382.1 981.5 L379.1 980.6 M458.5 935 L455 938.5 L451.5 943.2 L448.5 946.8 L446.2 950.9 L444.4 956.2 L442.6 960.3 L440.9 963.2 L440.3 967.4 L441.5 970.9 L443.2 974.4 L446.2 978.5 L449.1 976.8 L452.6 973.8 L456.2 970.3 L459.7 969.1 L463.2 967.9 L466.8 965.6 L470.3 963.2 L473.8 963.8 L477.4 965 L480.9 964.4 L485 963.2 M526.8 935 L525.6 937.9 L523.2 940.3 L525 942.1 L521.5 944.4 L519.1 946.8 L516.8 946.2 L517.4 949.1 L515 950.3 L513.8 953.8 L511.5 952.6 L510.9 956.8 L507.9 958.5 L505.6 960.3 L502.6 961.5 L498.5 962.6 L494.4 963.2 L490.3 962.6 L486.8 963.8 L482.1 965 L477.4 964.4 L475 963.8 M500.3 980.3 L503.2 978.5 L507.4 979.7 L508.5 982.1 L510.9 981.5 L513.2 983.2 L516.2 982.6 L520.3 983.2 L521.5 986.8 L520.3 990.9 L517.4 993.2 L512.6 995 L507.9 995.6 L504.4 993.2 L501.5 991.5 L500.3 989.7 L503.2 988.5 L503.8 985.6 L501.5 983.2 L500.3 980.3 M625 952.6 L619.7 952.4 L613.8 953.2 L609.1 954.4 L604.4 956.2 L602.6 953.2 L599.7 951.5 L596.2 951.5 L592.6 953.8 L590.9 956.2 L589.7 959.7 L586.2 962.6 L583.8 966.8 L581.5 972.6 L579.1 979.7 L577.4 986.8 L575.6 992.6 L572.6 998.5 L569.1 1003.2 L565.6 1006.8 L563.5 1010.3 L563.8 1015 L565 1019.7 L566.2 1024.4 L567.9 1027.9 L571.5 1029.7 L574.4 1028.5 L576.8 1025.6 L579.1 1021.5 L580.9 1024.4 L583.2 1029.1 L586.2 1034.4 L588.5 1039.1 L589.7 1042.1 L587.9 1043.8 L585 1043.2 L584.4 1040.9 L586.8 1039.1 L589.7 1038.5 L592.6 1041.5 L595 1039.7 L597.4 1036.2 L598.5 1031.5 L597.9 1025.6 L599.7 1019.7 L600.3 1013.8 L597.9 1010.3 L595 1006.8 L593.2 1002.6 L594.4 997.4 L596.2 992.6 L597.9 986.8 L598.5 982.1 L600.9 979.7 L604.4 980.3 L603.2 984.4 L601.5 990.3 L601.5 995 L603.2 999.7 L605 1004.4 L607.9 1007.4 L612.1 1008.5 L615.6 1005.6 L619.1 1002.6 L622.1 1001.5 L625 1002.6 M555 1071.5 L557.4 1070.9 L560.3 1069.1 L563.2 1066.8 L565 1063.2 L566.2 1059.1 L569.1 1056.2 L572.6 1054.4 L576.2 1053.2 L579.1 1051.5 L578.5 1047.9 L576.8 1044.4 L575.6 1040.3 L576.2 1035.6 L578.5 1032.6 L581.5 1030.3 L582.1 1035 L582.6 1038.5 L581.5 1040.9 L580.9 1043.8 L582.1 1046.2 L585 1048.5 L586.8 1050.3 L589.7 1048.5 L592.6 1046.8 L596.2 1049.1 L599.1 1046.8 L601.5 1044.4 L604.4 1042.1 L607.9 1040.3 L611.5 1040.9 L613.2 1038.5 L615.6 1035 L615 1030.3 L613.8 1025.6 L613.2 1021.5 L616.2 1022.6 L618.5 1023.2 L619.1 1019.7 L618.5 1015.6 L615 1013.8 L613.8 1011.5 L616.2 1009.1 L619.7 1006.8 L625 1005 M625 966.2 L623.2 965 L619.7 964.4 L616.2 966.2 L619.1 968.5 L622.1 971.5 L625 973.2 M535 1070.3 L538.5 1067.9 L536.2 1067.4 L533.8 1066.2 L534.4 1063.2 L536.8 1061.5 L536.2 1058.5 L538.5 1055.6 L540.9 1053.8 L540.3 1050.9 L537.4 1049.1 L535 1045.6 L536.2 1043.2 L533.8 1040.3 L533.2 1036.2 L534.4 1032.6 L536.2 1029.1 L539.1 1027.9 L542.6 1028.5 L540.9 1031.5 L539.7 1033.2 L544.4 1033.2 L545.6 1035 L544.4 1038.5 L542.1 1041.5 L544.4 1044.4 L546.2 1047.9 L548.5 1050.9 L550.3 1055 L552.6 1058.5 L556.2 1060.3 L556.8 1063.2 L555.6 1066.8 L556.2 1069.7 L553.8 1071.5 M517.4 1062.6 L519.1 1058.5 L519.7 1054.4 L521.5 1051.5 L524.4 1048.5 L527.9 1046.2 L531.5 1045.6 L533.2 1047.9 L532.6 1051.5 L531.5 1055 L530.3 1058.5 L527.9 1061.5 L524.4 1063.2 L520.9 1064.4 L517.4 1062.6 M637.4 935 L636.8 939.7 L636.2 943.8 L637.4 946.8 L635.6 949.1 L632.6 948.5 L632.1 946.2 L633.2 944.4 L630.3 944.2 L627.4 945.4 L625.8 946.8 L628.5 948.5 L630.3 950.9 L633.2 952.6 L635 955.6 L632.6 956.8 L630.9 958.5 L631.5 962.1 L632.6 965.6 L633.8 966.8 L631.5 967.4 L629.1 968.5 L629.7 971.5 L630.3 973.8 L627.4 974.4 L625 973.2 L623.2 970.3 L620.9 967.9 L618.5 966.8 L616.2 966.2 L617.9 964.4 L622.1 963.2 L625.6 961.5 L627.4 957.9 L626.8 954.4 L623.8 952.6 L619.7 952.1 L615 952.4 M615 1006.8 L617.9 1004.4 L620.9 1001.5 L623.8 1000.9 L625 1003.2 L623.8 1005.6 L620.9 1006.8 L617.9 1007.9 L615 1010.3 M615 1016.2 L617.4 1015.6 L619.1 1017.9 L619.7 1022.1 L617.9 1023.2 L615 1021.5" fill="none" stroke="#000" stroke-opacity="0.9" stroke-width="0.7" stroke-linejoin="round"/>
<g fill="none" stroke="#b0b0b0" stroke-width="1.7"><circle cx="550.9" cy="867.5" r="24.90"/><circle cx="550.9" cy="867.5" r="49.89"/><circle cx="550.9" cy="867.5" r="75.08"/><circle cx="550.9" cy="867.5" r="100.56"/><circle cx="550.9" cy="867.5" r="126.43"/><circle cx="550.9" cy="867.5" r="152.81"/><circle cx="550.9" cy="867.5" r="179.81"/><line x1="550.9" y1="867.5" x2="550.90" y2="652.50"/><line x1="550.9" y1="867.5" x2="737.10" y2="760.00"/><line x1="550.9" y1="867.5" x2="737.10" y2="975.00"/><line x1="550.9" y1="867.5" x2="550.90" y2="1082.50"/><line x1="550.9" y1="867.5" x2="364.70" y2="975.00"/><line x1="550.9" y1="867.5" x2="364.70" y2="760.00"/></g>
<circle cx="550.9" cy="867.5" r="1.6" fill="#fff"/>
</g>
<circle cx="550.6" cy="866.1" r="206.05" fill="none" stroke="#000" stroke-width="1.67"/>
<clipPath id="cp2"><circle cx="550.6" cy="1361.1" r="206.05"/></clipPath>
<g clip-path="url(#cp2)">
<circle cx="550.9" cy="1362.5" r="205.4" fill="#d6defe"/>
<clipPath id="dp2"><circle cx="550.9" cy="1362.5" r="205.4"/></clipPath>
<g clip-path="url(#dp2)">
<path d="M403.2 1503.4 C406.7 1500.7 407 1502.8 409.2 1501.7 C411.4 1500.5 414.1 1498.2 416.1 1496.5 C418.1 1494.8 419.3 1492.8 421.3 1491.3 C423.3 1489.9 425.9 1489 428.2 1487.9 C430.5 1486.7 433.1 1485.3 435.1 1484.4 C437.1 1483.5 438.8 1483.8 440.3 1482.7 C441.7 1481.5 442.8 1478.9 443.7 1477.5 C444.6 1476.1 444.6 1474.9 445.4 1474.1 C446.3 1473.2 447.2 1473.2 448.9 1472.3 C450.6 1471.5 452.9 1470.5 455.8 1468.9 C458.7 1467.3 462.7 1464 466.1 1462.8 C469.6 1461.7 473.6 1462 476.5 1462 C479.4 1462 481.1 1463.1 483.4 1462.8 C485.7 1462.6 488 1460.7 490.3 1460.6 C492.6 1460.5 495.5 1460.9 497.2 1462 C498.9 1463.1 499.2 1465.4 500.6 1467.2 C502.1 1468.9 504.1 1470.9 505.8 1472.3 C507.5 1473.8 509 1474.6 511 1475.8 C513 1476.9 516.2 1477.5 517.9 1479.2 C519.6 1481 521.4 1483.8 521.4 1486.1 C521.4 1488.4 517.9 1490.5 517.9 1493 C517.9 1495.6 520.5 1498.8 521.4 1501.7 C522.2 1504.5 521.6 1507.7 523.1 1510.3 C524.5 1512.9 526.8 1515.5 530 1517.2 C533.1 1518.9 537.9 1519.2 542.1 1520.6 C546.2 1522.1 553.6 1524.7 555 1525.8 C556.4 1527 550.4 1525.8 550.2 1527.5 C549.9 1529.3 552.2 1533.6 553.6 1536.2 C555.1 1538.8 557.4 1541.6 558.8 1543.1 C560.2 1544.5 562 1543.7 562.3 1544.8 C562.5 1546 560.2 1548.3 560.5 1550 C560.8 1551.7 563.1 1553.7 564 1555.2 C564.8 1556.6 566 1557.2 565.7 1558.6 C565.4 1560 563.7 1562.4 562.3 1563.8 C560.8 1565.2 557.8 1563 557.1 1566.9 C556.3 1570.8 562.8 1584.2 557.7 1587.4 C552.6 1590.6 536.7 1587.3 526.3 1586.1 C515.9 1585 505.5 1583.1 495.3 1580.5 C485.2 1577.9 475.1 1574.6 465.5 1570.7 C455.8 1566.7 446.3 1562 437.3 1556.7 C428.3 1551.4 419.5 1545.5 411.3 1539 C403.1 1532.5 389.4 1523.7 388.1 1517.8 C386.7 1511.8 399.6 1506.1 403.2 1503.4Z" fill="#adbcfd" shape-rendering="crispEdges"/>
<path d="M576.1 1508.6 C576.5 1508.3 578.8 1514.9 579.5 1517.2 C580.2 1519.5 581.1 1520.6 580.4 1522.4 C579.7 1524.1 576.5 1527.1 575.2 1527.5 C573.9 1528 572.3 1526.4 572.6 1525 C572.9 1523.5 576.3 1521.7 576.9 1518.9 C577.5 1516.2 575.6 1508.9 576.1 1508.6Z" fill="#adbcfd" shape-rendering="crispEdges"/>
<path d="M713.2 1243.2 C710.7 1246.4 716.4 1246.3 716.7 1248.4 C717 1250.4 716.1 1252.8 715 1255.3 C713.8 1257.7 711.7 1260.7 709.8 1263 C707.9 1265.3 705.8 1267.1 703.7 1269.1 C701.6 1271 697.8 1273.1 697.2 1274.6 C696.6 1276 698.6 1277.2 700.3 1277.7 C702 1278.2 705.9 1276.2 707.2 1277.7 C708.5 1279.1 707.3 1283.7 708.1 1286.3 C708.8 1288.9 710.2 1291 711.5 1293.2 C712.8 1295.5 714.4 1299.5 715.8 1299.8 C717.3 1300.1 718.1 1296 720.1 1294.9 C722.2 1293.8 725.5 1293.5 727.9 1293.2 C730.3 1292.9 732.8 1294.2 734.8 1293.2 C736.8 1292.2 738.5 1288.9 739.6 1287.2 C740.8 1285.5 738.6 1284.8 741.7 1282.9 C744.9 1281 757.7 1281 758.5 1275.8 C759.4 1270.7 751.1 1259.5 746.8 1251.8 C742.4 1244 737.8 1230.7 732.2 1229.2 C726.6 1227.8 715.8 1240 713.2 1243.2Z" fill="#adbcfd" shape-rendering="crispEdges"/>
<path d="M509.3 1161.2 C508.5 1165.3 502.9 1164.4 500.6 1166.4 C498.3 1168.4 497.8 1171.4 495.5 1173.3 C493.2 1175.2 489.7 1176 486.8 1177.6 C484 1179.2 480.8 1180.8 478.2 1182.8 C475.6 1184.8 473.9 1187.1 471.3 1189.7 C468.7 1192.3 465.3 1195.7 462.7 1198.3 C460.1 1200.9 457.5 1202.6 455.8 1205.2 C454.1 1207.8 453.8 1211.3 452.3 1213.8 C450.9 1216.4 448.6 1218.2 447.2 1220.7 C445.7 1223.3 445.1 1227.1 443.7 1229.4 C442.3 1231.7 440.3 1232.5 438.5 1234.5 C436.8 1236.6 433.4 1239.9 433.4 1241.5 C433.4 1243 436.5 1243.6 438.5 1244 C440.5 1244.5 443.7 1243.6 445.4 1244 C447.2 1244.5 448.2 1245 448.9 1246.6 C449.6 1248.2 450.3 1251.7 449.7 1253.5 C449.2 1255.4 447 1256.4 445.4 1257.8 C443.8 1259.3 441.4 1260.6 440.3 1262.2 C439.1 1263.7 439.7 1266 438.5 1267.3 C437.4 1268.6 435.7 1269.6 433.4 1269.9 C431.1 1270.2 427.6 1269.1 424.7 1269.1 C421.8 1269.1 419 1269.6 416.1 1269.9 C413.2 1270.2 410.1 1270.5 407.5 1270.8 C404.9 1271.1 402.6 1270.5 400.6 1271.6 C398.6 1272.8 397.7 1276.1 395.4 1277.7 C393.1 1279.3 389.9 1280.2 386.8 1281.1 C383.6 1282.1 380.2 1283 376.4 1283.2 C372.7 1283.4 369.7 1284.1 364.3 1282.5 C358.9 1281 344.7 1280.6 344.1 1273.8 C343.5 1267.1 354.5 1252.1 360.9 1242 C367.3 1231.9 374.6 1222.1 382.6 1213.2 C390.5 1204.2 399.3 1195.8 408.6 1188.2 C417.8 1180.7 427.9 1173.7 438.2 1167.8 C448.6 1161.8 459.6 1156.5 470.7 1152.3 C481.9 1148 498.9 1140.7 505.3 1142.2 C511.8 1143.7 510.1 1157.2 509.3 1161.2Z" fill="#ffffff" shape-rendering="crispEdges"/>
<path d="M523.1 1175.9 C523.9 1175 527.4 1173.2 530 1172.4 C532.6 1171.7 536.3 1171.4 538.6 1171.6 C540.9 1171.7 543.2 1172.4 543.8 1173.3 C544.4 1174.2 543.8 1176 542.1 1176.7 C540.3 1177.5 536.3 1177.4 533.4 1177.6 C530.6 1177.8 526.5 1178.2 524.8 1178 C523.1 1177.7 522.2 1176.8 523.1 1175.9Z" fill="#ffffff" shape-rendering="crispEdges"/>
<path d="M491.2 1262.2 C492 1259.5 495 1257.7 497.2 1257 C499.4 1256.3 502.4 1256.7 504.1 1257.8 C505.8 1259 506.8 1261.7 507.5 1263.9 C508.3 1266 509.6 1269.2 508.4 1270.8 C507.3 1272.4 503.4 1273 500.6 1273.4 C497.9 1273.7 493.6 1274.7 492 1272.9 C490.4 1271 490.3 1264.8 491.2 1262.2Z" fill="#ffffff" shape-rendering="crispEdges"/>
<path d="M550.7 1313.9 C552 1314.5 555.4 1315.5 558.8 1316.5 C562.2 1317.5 566 1319.2 570.9 1320 C575.8 1320.7 582.4 1320.4 588.1 1320.8 C593.9 1321.3 601.1 1321.3 605.4 1322.5 C609.7 1323.8 610.6 1327.4 614 1328.6 C617.5 1329.7 622.1 1330.1 626.1 1329.5 C630.1 1328.8 634.4 1324 638.2 1324.6 C641.9 1325.2 646.2 1330.8 648.5 1332.9 C650.9 1335 652.3 1335.2 652.3 1337.2 C652.4 1339.2 649.2 1342.6 648.9 1345 C648.5 1347.4 648.9 1351.2 650.3 1351.5 C651.6 1351.8 654.9 1347.2 657.2 1346.7 C659.5 1346.2 662.3 1347 664.1 1348.4 C665.8 1349.9 667.5 1353.3 667.5 1355.3 C667.5 1357.3 666.1 1359.4 664.1 1360.5 C662 1361.7 657.7 1361.5 655.4 1362.2 C653.1 1363 648.1 1366 650.3 1364.8 C652.4 1363.6 665.8 1356.2 668.4 1355 C671 1353.8 667.9 1356.2 665.8 1357.6 C663.6 1359 658.6 1361.8 655.4 1363.6 C652.3 1365.5 649.7 1367.5 646.8 1368.8 C643.9 1370.1 640.8 1370.2 638.2 1371.4 C635.6 1372.5 633.3 1374.7 631.3 1375.7 C629.3 1376.7 627.8 1376.3 626.1 1377.4 C624.4 1378.6 622.9 1381.6 620.9 1382.6 C618.9 1383.6 615.7 1382.8 614 1383.5 C612.3 1384.2 611 1384.2 610.6 1386.9 C610.1 1389.7 610.9 1396.3 611.4 1399.9 C612 1403.5 613.9 1405.9 614 1408.5 C614.2 1411.1 613.4 1413.4 612.3 1415.4 C611.1 1417.4 609.7 1419.1 607.1 1420.6 C604.5 1422 599.9 1422.7 596.8 1424 C593.6 1425.3 591 1427.3 588.1 1428.3 C585.3 1429.3 582.4 1429.3 579.5 1430.1 C576.6 1430.8 572.5 1431.4 570.9 1432.6 C569.3 1433.9 570.9 1436.4 570 1437.8 C569.2 1439.3 567.6 1440.1 565.7 1441.3 C563.8 1442.4 561.1 1444 558.8 1444.7 C556.5 1445.4 554.2 1445 551.9 1445.6 C549.6 1446.2 544.5 1448.2 545 1448.2 C545.5 1448.2 555.5 1446.2 555 1445.6 C554.5 1445 545.7 1444.9 542.1 1444.7 C538.5 1444.6 536.3 1444.3 533.4 1444.7 C530.6 1445.2 527.4 1446.7 524.8 1447.3 C522.2 1447.9 520.8 1447.5 517.9 1448.2 C515 1448.9 515 1455.1 507.5 1451.6 C500.1 1448.2 479.9 1432 473 1427.5 C466.1 1422.9 469.6 1424.9 466.1 1424.4 C462.7 1423.8 456.9 1424.2 452.3 1424 C447.7 1423.8 443.1 1423.4 438.5 1423.2 C433.9 1422.9 428.5 1423 424.7 1422.3 C421 1421.6 419 1420.3 416.1 1419.2 C413.2 1418.1 410.9 1416.4 407.5 1415.7 C404 1415 397.8 1415.8 395.4 1415 C393 1414.3 393.6 1412.9 393.3 1411.1 C393 1409.3 393 1406.3 393.7 1404.2 C394.3 1402 396.7 1400.3 397.1 1398.1 C397.5 1396 396.1 1394.1 396.3 1391.2 C396.4 1388.4 396.8 1383.8 398 1380.9 C399.1 1378 401.9 1376.6 403.2 1374 C404.5 1371.4 405.2 1368.5 405.7 1365.4 C406.3 1362.2 407.2 1354.9 406.6 1355 C406 1355.1 402.7 1365.1 402.3 1365.7 C401.9 1366.3 403.9 1361.1 404 1358.8 C404.2 1356.5 403.9 1354 403.2 1351.9 C402.4 1349.7 401 1347.9 399.7 1345.8 C398.4 1343.8 397 1341.2 395.4 1339.8 C393.8 1338.4 391.9 1338.4 390.2 1337.2 C388.5 1336.1 386.1 1334.8 385.4 1332.9 C384.7 1331 385.1 1328 385.9 1326 C386.7 1324 388.1 1322 390.2 1320.8 C392.4 1319.6 396 1319.6 398.8 1318.8 C401.7 1317.9 404.3 1316.8 407.5 1316 C410.6 1315.2 414.4 1315.1 417.8 1313.9 C421.3 1312.7 424.7 1310.6 428.2 1308.7 C431.6 1306.9 435.4 1304.4 438.5 1302.7 C441.7 1301 444.6 1300.1 447.2 1298.4 C449.7 1296.7 451.5 1294.1 454.1 1292.4 C456.6 1290.6 459.8 1288.3 462.7 1288 C465.6 1287.8 468.7 1289.3 471.3 1290.6 C473.9 1291.9 475.6 1294.2 478.2 1295.8 C480.8 1297.4 483.4 1299.1 486.8 1300.1 C490.3 1301.1 494 1301 498.9 1301.8 C503.8 1302.7 510.4 1303.7 516.2 1305.3 C521.9 1306.9 527.7 1310 533.4 1311.3 C539.2 1312.6 548 1312.6 550.9 1313.1 C553.7 1313.5 549.4 1313.3 550.7 1313.9Z" fill="#ffffff" shape-rendering="crispEdges"/>
<path d="M396.3 1425.7 C397.4 1425.2 401.3 1427 404 1427.5 C406.8 1427.9 411.5 1427.5 412.6 1428.3 C413.8 1429.2 412.6 1431.6 410.9 1432.6 C409.2 1433.7 404.6 1434.7 402.3 1434.4 C400 1434.1 398.1 1432.4 397.1 1430.9 C396.1 1429.5 395.1 1426.3 396.3 1425.7Z" fill="#ffffff" shape-rendering="crispEdges"/>
<path d="M487.7 1396.4 C488.3 1394.8 491.6 1391.8 493.7 1390.4 C495.9 1388.9 498.3 1388.1 500.6 1387.8 C502.9 1387.5 505.2 1388.4 507.5 1388.6 C509.8 1388.9 512.3 1389.1 514.5 1389.5 C516.6 1389.9 518.6 1390.5 520.5 1391.2 C522.4 1392 524.5 1392.4 525.7 1393.8 C526.8 1395.3 527.4 1397.7 527.4 1399.9 C527.4 1402 526.2 1404.2 525.7 1406.8 C525.1 1409.4 524.4 1412.5 523.9 1415.4 C523.5 1418.3 523.5 1421.4 523.1 1424 C522.6 1426.6 522.2 1428.9 521.4 1430.9 C520.5 1432.9 519.2 1434.7 517.9 1436.1 C516.6 1437.5 515 1438.1 513.6 1439.5 C512.2 1441 510.6 1442.7 509.3 1444.7 C508 1446.7 507.3 1449.9 505.8 1451.6 C504.4 1453.4 502.7 1454.2 500.6 1455.1 C498.6 1455.9 496 1456.2 493.7 1456.8 C491.4 1457.4 489.1 1458 486.8 1458.5 C484.5 1459.1 482.2 1460.3 479.9 1460.3 C477.6 1460.3 475.3 1458.8 473 1458.5 C470.7 1458.2 467.9 1458 466.1 1458.5 C464.4 1459.1 464.4 1460.5 462.7 1462 C461 1463.4 457.8 1465.9 455.8 1467.2 C453.8 1468.5 452.3 1469.7 450.6 1469.7 C448.9 1469.7 446.7 1468.5 445.4 1467.2 C444.1 1465.9 443 1463.8 442.8 1462 C442.7 1460.1 443.6 1457.8 444.6 1455.9 C445.6 1454.1 447 1452.5 448.9 1450.8 C450.8 1449 453.5 1447.5 455.8 1445.6 C458.1 1443.7 460.4 1441.4 462.7 1439.5 C465 1437.7 467.6 1436.4 469.6 1434.4 C471.6 1432.4 473.3 1429.8 474.8 1427.5 C476.2 1425.2 476.8 1422.9 478.2 1420.6 C479.7 1418.3 481.7 1416.3 483.4 1413.7 C485.1 1411.1 487.4 1407.3 488.6 1405 C489.7 1402.7 490.4 1401.3 490.3 1399.9 C490.2 1398.4 487.1 1398 487.7 1396.4Z" fill="#ffffff" shape-rendering="crispEdges"/>
<path d="M614 1231.1 C615.5 1230.4 620.3 1231.1 622.6 1232 C624.9 1232.8 626.4 1234.5 627.8 1236.3 C629.3 1238 629.5 1241.5 631.3 1242.3 C633 1243.2 635.9 1240.7 638.2 1241.5 C640.5 1242.2 643.8 1244.6 645.1 1246.6 C646.4 1248.6 644.2 1252.7 645.9 1253.5 C647.7 1254.4 653.3 1251.5 655.4 1251.8 C657.6 1252.1 658.6 1253.6 658.9 1255.6 C659.2 1257.6 658 1260.8 657.2 1263.9 C656.3 1267 655.1 1270.8 653.7 1274.2 C652.3 1277.7 650.5 1281.7 648.5 1284.6 C646.5 1287.5 644.2 1289.3 641.6 1291.5 C639 1293.6 634.6 1297.2 633 1297.5 C631.4 1297.8 631.3 1295.1 632.1 1293.2 C633 1291.3 636.6 1288.9 638.2 1286.3 C639.8 1283.7 641.6 1280.3 641.6 1277.7 C641.6 1275.1 639.3 1273.1 638.2 1270.8 C637 1268.5 635.9 1265.6 634.7 1263.9 C633.6 1262.2 632.7 1263.3 631.3 1260.4 C629.8 1257.6 628.1 1249.5 626.1 1246.6 C624.1 1243.8 621.2 1244.9 619.2 1243.2 C617.2 1241.5 614.9 1238.3 614 1236.3 C613.2 1234.3 612.6 1231.8 614 1231.1Z" fill="#ffffff" shape-rendering="crispEdges"/>
<path d="M664.1 1239.7 C664.8 1238.3 666.9 1236.8 669.2 1236.3 C671.5 1235.7 675.6 1235.7 677.9 1236.3 C680.2 1236.8 681.9 1238.3 683 1239.7 C684.2 1241.2 685.3 1243.5 684.8 1244.9 C684.2 1246.3 681.9 1247.6 679.6 1248 C677.3 1248.4 673.4 1248 671 1247.5 C668.5 1247 666.1 1246.2 664.9 1244.9 C663.8 1243.6 663.3 1241.2 664.1 1239.7Z" fill="#ffffff" shape-rendering="crispEdges"/>
<path d="M710.6 1487.9 C706.6 1485.3 705.8 1486 703.7 1486.1 C701.7 1486.3 700.3 1488.4 698.6 1488.7 C696.8 1489 695.1 1487.4 693.4 1487.9 C691.7 1488.3 689.9 1490.7 688.2 1491.3 C686.5 1491.9 684.8 1490.5 683 1491.3 C681.3 1492.2 679.3 1494.8 677.9 1496.5 C676.4 1498.2 675.8 1499.9 674.4 1501.7 C673 1503.4 671.2 1505.4 669.2 1506.8 C667.2 1508.3 664.6 1509.1 662.3 1510.3 C660 1511.4 657.4 1512.3 655.4 1513.7 C653.4 1515.2 651.5 1516.6 650.3 1518.9 C649 1521.2 648 1525 647.7 1527.5 C647.4 1530.1 647.7 1532.7 648.5 1534.5 C649.4 1536.2 651.7 1537.1 652.8 1537.9 C654 1538.7 653.3 1536.2 655.4 1539.3 C657.5 1542.3 658.1 1557.4 665.4 1556.2 C672.7 1554.9 688.8 1540.8 699.2 1531.7 C709.6 1522.6 726 1508.7 727.9 1501.4 C729.8 1494.1 714.7 1490.4 710.6 1487.9Z" fill="#ffffff" shape-rendering="crispEdges"/>
<path d="M377.3 1253.5 C377.3 1251.7 379.7 1248.2 381.6 1246.6 C383.5 1245 386.3 1244 388.5 1244 C390.6 1244 393.1 1245.2 394.5 1246.6 C396 1248.1 397.5 1251.5 397.1 1252.7 C396.7 1253.8 393.4 1252.7 391.9 1253.5 C390.5 1254.4 390.2 1257.1 388.5 1257.8 C386.8 1258.6 383.5 1258.6 381.6 1257.8 C379.7 1257.1 377.3 1255.4 377.3 1253.5Z" fill="#ff2a00" shape-rendering="crispEdges"/>
<path d="M379 1261.8 C379.4 1261.1 384.5 1261.5 386.8 1262.2 C389.1 1262.8 391.2 1264.2 392.8 1265.6 C394.4 1267 396.4 1268.9 396.3 1270.8 C396.1 1272.7 393.8 1275.4 391.9 1276.8 C390.1 1278.3 387.6 1278.5 385 1279.4 C382.5 1280.4 379.3 1281.9 376.4 1282.5 C373.5 1283.1 369.9 1283.2 367.8 1282.9 C365.6 1282.5 363.8 1281.1 363.5 1280.3 C363.2 1279.4 364.2 1278 366.1 1277.7 C367.9 1277.4 372.1 1278.7 374.7 1278.5 C377.3 1278.4 379.7 1278 381.6 1276.8 C383.5 1275.7 385.5 1273.4 385.9 1271.6 C386.3 1269.9 385.3 1268.1 384.2 1266.5 C383 1264.8 378.6 1262.5 379 1261.8Z" fill="#ff2a00" shape-rendering="crispEdges"/>
<path d="M410.9 1255.6 C411.6 1254.9 414.4 1254.8 416.1 1255.6 C417.8 1256.4 420.1 1258.9 421.3 1260.4 C422.4 1262 423.9 1264.3 423 1264.7 C422.1 1265.2 418 1263.9 416.1 1263 C414.2 1262.2 412.6 1260.8 411.8 1259.6 C410.9 1258.3 410.2 1256.3 410.9 1255.6Z" fill="#ff2a00" shape-rendering="crispEdges"/>
<path d="M410.1 1264.7 C410.6 1263.7 414.1 1263.8 416.1 1264.2 C418.1 1264.7 420.8 1265.8 422.1 1267.3 C423.4 1268.9 424.6 1272.3 423.9 1273.4 C423.1 1274.5 419.7 1274.3 417.8 1273.9 C416 1273.5 413.9 1272.3 412.6 1270.8 C411.4 1269.3 409.5 1265.8 410.1 1264.7Z" fill="#ff2a00" shape-rendering="crispEdges"/>
<path d="M433 1270.8 C433.7 1269.9 436.5 1271.3 438.5 1271.6 C440.6 1272 442.8 1272.4 445.4 1272.9 C448 1273.3 452 1273.3 454.1 1274.2 C456.1 1275.2 457.4 1277.1 457.5 1278.5 C457.7 1280 456.9 1282 454.9 1282.9 C452.9 1283.7 448.3 1283.8 445.4 1283.7 C442.6 1283.7 439.5 1283.7 437.7 1282.5 C435.8 1281.4 435 1278.8 434.2 1276.8 C433.4 1274.9 432.3 1271.6 433 1270.8Z" fill="#ff2a00" shape-rendering="crispEdges"/>
<path d="M448.9 1246.6 C449.5 1244.8 451.8 1242.4 454.1 1241.5 C456.4 1240.5 460.1 1240.5 462.7 1240.9 C465.3 1241.4 468 1242.5 469.6 1244 C471.2 1245.6 472 1248.4 472.2 1250.1 C472.3 1251.8 472 1253.3 470.5 1254.4 C468.9 1255.5 465.1 1256.3 462.7 1256.6 C460.2 1256.9 457.8 1256.8 455.8 1256.1 C453.8 1255.5 451.8 1254.2 450.6 1252.7 C449.5 1251.1 448.3 1248.5 448.9 1246.6Z" fill="#ff2a00" shape-rendering="crispEdges"/>
<path d="M482 1236.3 C482.6 1236 484.8 1237.6 486 1238.9 C487.2 1240.2 488.7 1242.5 489.1 1244 C489.5 1245.6 489.3 1248.1 488.6 1248.4 C487.8 1248.6 485.8 1247.1 484.8 1245.8 C483.7 1244.5 482.6 1242.2 482.2 1240.6 C481.7 1239 481.4 1236.6 482 1236.3Z" fill="#ff2a00" shape-rendering="crispEdges"/>
<path d="M633 1246.6 C634.2 1244.9 636.3 1242.6 638.2 1242.3 C640 1242 643.1 1243 644.2 1244.9 C645.4 1246.8 645.5 1251.2 645.1 1253.5 C644.6 1255.9 643.2 1258.3 641.6 1259.1 C640 1259.8 637.3 1258.9 635.6 1257.8 C633.9 1256.8 631.7 1254.5 631.3 1252.7 C630.8 1250.8 631.8 1248.4 633 1246.6Z" fill="#ff2a00" shape-rendering="crispEdges"/>
<path d="M697.7 1282 C698 1280.8 699.7 1278.3 701.2 1277.7 C702.6 1277 705.3 1277.3 706.3 1278 C707.3 1278.8 707.5 1280.7 707.2 1282 C706.9 1283.3 705.9 1285.3 704.6 1285.8 C703.3 1286.3 700.6 1285.7 699.4 1285.1 C698.3 1284.5 697.4 1283.2 697.7 1282Z" fill="#ff2a00" shape-rendering="crispEdges"/>
<path d="M750.3 1311.8 L743.8 1314.1 L737.9 1322.4 L733.6 1330.6 L732.6 1339.4 L734.4 1343.5 L740.9 1344.7 L747.9 1346.2 L759.7 1348.2 L759.7 1307.6Z" fill="#ffffff" shape-rendering="crispEdges"/>
<path d="M751.5 1311.4 L743.8 1314.1 L737.9 1322.4 L733.6 1330.6 L732.6 1339.4 L734.4 1343.5 L740.9 1344.7 L747.9 1346.2 L757.9 1347.9" fill="none" stroke="#ff2a00" stroke-width="5.2" stroke-linecap="round" stroke-linejoin="round"/>
<path d="M756.2 1348.2 L748.5 1350.6 L743.8 1355.9 L741.8 1360.6 L743.8 1364.1 L747.4 1368.2 L748.5 1374.7 L750.9 1380 L757.9 1385.9 L760.9 1360.6Z" fill="#ffffff" shape-rendering="crispEdges"/>
<path d="M757.9 1348.5 L748.5 1350.6 L743.8 1355.9 L741.8 1360.6 L743.8 1364.1 L747.4 1368.2 L748.5 1374.7 L750.9 1380 L756.2 1385.1" fill="none" stroke="#ff2a00" stroke-width="5.2" stroke-linecap="round" stroke-linejoin="round"/>
<path d="M487.7 1397.3 L489.4 1393.8 L493.7 1390.4 L500.6 1387.8 L507.5 1388.1" fill="none" stroke="#ff2a00" stroke-width="4.6" stroke-linecap="round" stroke-linejoin="round"/>
<path d="M512.7 1389.5 L517.9 1390.4 L520.5 1392.1" fill="none" stroke="#ff2a00" stroke-width="4.6" stroke-linecap="round" stroke-linejoin="round"/>
<path d="M523.9 1391.2 L527.4 1394.7 L528.3 1400.7 L526.5 1405" fill="none" stroke="#ff2a00" stroke-width="4.6" stroke-linecap="round" stroke-linejoin="round"/>
<path d="M524.8 1414.5 L523.4 1424 L522.2 1429.2" fill="none" stroke="#ff2a00" stroke-width="4.6" stroke-linecap="round" stroke-linejoin="round"/>
<path d="M520.5 1432.6 L517 1437" fill="none" stroke="#ff2a00" stroke-width="4.6" stroke-linecap="round" stroke-linejoin="round"/>
<path d="M505.8 1453.4 L500.6 1455.4 L493.7 1457.1 L486.8 1458.9 L481.7 1460.6 L477.4 1459.9" fill="none" stroke="#ff2a00" stroke-width="4.6" stroke-linecap="round" stroke-linejoin="round"/>
<path d="M463.5 1461.1 L459.2 1465.4 L454.1 1468 L448.9 1469.2 L445.4 1467.2 L443.4 1462 L445.1 1455.9 L448.9 1450.8 L455.8 1445.6 L462.7 1440.4" fill="none" stroke="#ff2a00" stroke-width="4.6" stroke-linecap="round" stroke-linejoin="round"/>
<path d="M466.1 1437 L471.3 1432.6 L473.9 1429.2" fill="none" stroke="#ff2a00" stroke-width="4.6" stroke-linecap="round" stroke-linejoin="round"/>
<path d="M478.2 1420.6 L483.4 1413.7 L488.6 1405.9 L490.3 1400.7 L488.2 1397.3" fill="none" stroke="#ff2a00" stroke-width="4.6" stroke-linecap="round" stroke-linejoin="round"/>
<path d="M511 1441.3 L509.3 1444.7" fill="none" stroke="#ff2a00" stroke-width="2.5" stroke-linecap="round" stroke-linejoin="round"/>
</g>
<path d="M382.1 1242.9 L385.6 1240.6 L389.1 1239.4 L392.6 1240 L396.2 1241.8 L399.1 1242.9 L401.5 1241.2 L404.4 1242.4 L407.9 1243.5 L411.5 1243.5 L416.2 1244.7 L419.7 1244.1 L424.4 1245.9 L429.1 1247.1 L433.8 1249.4 L436.2 1247.6 L439.7 1244.7 L443.2 1243.5 L447.9 1243.2 L452.6 1242.9 L457.4 1241.2 L462.1 1238.8 L466.8 1237.6 L470.3 1237.6 L472.1 1235.9 L471.5 1234.1 L467.9 1234.7 L471.5 1231.2 L473.8 1227.6 L476.2 1224.7 L477.9 1225.3 L479.1 1228.8 L480.3 1232.4 L479.1 1234.9 M383.2 1241.8 L390.9 1235.6 M385.6 1242.4 L392.1 1237.1 L390.3 1234.9 L387.4 1237.6 M404.4 1233.8 L406.8 1232.9 L411.5 1233.8 L415 1234.7 L416.8 1236.5 L413.8 1240 L411.5 1237.6 L408.5 1234.9 L405.6 1234.5 L404.4 1233.8 M474.4 1211.2 L476.8 1209.4 L479.1 1210.6 L477.9 1214.7 L475.6 1217.1 L473.2 1215.9 L474.4 1211.2 M478.5 1234.1 L479.7 1231.2 L480.3 1225.3 L482.1 1220.6 L480.3 1218.2 L482.1 1213.5 L483.8 1207.6 L486.2 1201.8 L489.1 1197.1 L492.6 1193.5 L497.4 1189.4 L502.6 1186.2 L503.8 1187.1 L500.3 1190 L496.8 1193.5 L493.8 1197.1 L491.5 1200.6 L489.7 1204.7 L488.5 1208.8 L489.1 1215.3 L492.6 1212.9 L495.6 1211.8 L497.4 1212.4 L500.3 1210.6 L502.1 1211.2 L503.2 1215.3 L507.4 1214.7 L511.5 1214.1 L515.6 1213.5 L517.9 1214.1 L515.6 1215.3 L512.6 1216.1 L514.4 1218.2 L516.2 1221.2 L515.6 1225.3 L514.4 1230 L512.6 1232.4 L510.3 1233.5 L507.4 1235.3 L507.4 1237.6 L509.1 1239.4 L509.7 1241.8 L512.1 1240.6 L515.6 1238.2 L519.1 1237.6 L522.1 1238.8 L524.4 1240.6 L525.6 1242.4 L523.8 1244.1 L520.9 1245.9 L518.5 1247.6 L516.8 1246.5 L513.8 1247.6 L514.4 1250 L517.4 1251.2 L520.3 1252.4 L522.1 1254.7 L525 1255.9 L526.2 1257.6 L524.4 1260 L522.1 1261.2 L521.5 1264.1 L520.9 1267.6 L519.1 1270 L516.8 1272.9 L514.4 1274.7 L512.6 1276.5 L510.3 1275.3 L507.9 1277.1 L505 1277.1 L502.1 1277.6 L498.5 1279.4 L495 1280.6 L491.5 1281.8 L486.8 1283.5 L482.1 1284.7 L477.9 1285.9 L476.2 1290 L475 1292.4 M524.4 1229.1 L526.8 1227.6 L530.3 1228.2 L532.1 1230 L529.7 1231.2 L526.8 1230.6 L524.4 1229.1 M625 1178.2 L619.7 1183.5 L613.8 1185.3 L610.3 1189.4 L606.2 1191.2 L604.4 1195.3 L600.9 1197.1 L599.7 1201.8 L601.5 1204.1 L601.5 1207.6 L597.4 1211.2 L593.8 1214.7 L589.7 1214.1 L585.6 1213.5 L580.9 1214.7 L578.5 1214.1 L576.2 1212.4 L571.5 1214.7 L564.4 1218.2 L557.4 1221.8 L552.6 1222.9 L552.1 1225.3 L553.8 1228.8 L555 1232.4 L556.8 1234.1 L553.8 1234.7 L551.5 1235.3 L550.3 1241.2 L548.5 1241.8 L548.5 1239.4 L544.4 1237.6 L542.1 1235.9 L538.5 1234.1 L535.6 1233.3 L534.4 1235.3 L535 1238.2 L532.6 1240 L530.3 1241.2 L530.3 1243.5 L532.6 1245.9 L536.2 1247.1 L539.1 1247.6 L540.3 1245.9 L539.1 1243.5 L540.9 1245.3 L540.9 1248.2 L545.6 1252.4 L550.3 1255.9 L553.8 1258.8 L557.4 1260.6 L562.6 1261.5 L567.9 1261.8 L568.5 1258.2 L570.3 1257.1 L572.1 1260.6 L576.2 1262.4 L580.9 1264.1 L585 1265.9 L586.2 1268.8 L585 1271.8 L586.8 1274.1 L590.9 1276.5 L594.4 1277.6 L596.2 1280.6 L597.4 1285.3 L601.5 1290 L604.4 1293.5 L606.2 1295.9 L609.1 1294.1 L610.9 1292.4 M625 1200.6 L620.9 1204.1 L616.2 1208.2 L611.5 1210.6 L604.4 1215.9 L597.4 1220.4 L592.6 1222.4 L589.7 1225.3 L587.9 1228.2 L591.5 1228.6 L593.8 1225.3 L597.4 1220.6 L601.5 1221.2 L602.1 1225.3 L601.5 1227.6 L604.4 1228.2 L609.7 1228.8 L613.2 1226.5 L616.2 1225.3 L617.9 1222.4 L617.4 1220 L620.9 1220 L625 1221.2 M547.4 1268.2 L549.7 1266.2 L552.6 1266.5 L553.8 1267.6 L552.1 1270 L549.1 1270.2 L547.4 1268.2 M615 1185.3 L617.4 1184.7 L621.5 1183.5 L625 1179.4 L630.5 1177.3 L630.1 1185.3 L628.5 1192.4 L626.2 1199.4 L622.1 1205.3 L617.4 1209.4 L615 1211.2 M615 1221.2 L616.8 1220.6 L620.3 1220 L624.4 1220.6 L627.4 1222.4 L626.8 1225.3 L629.1 1228.2 L633.2 1227.6 L637.4 1231.2 L642.1 1234.7 L646.2 1237.6 L651.5 1237.1 L659.7 1235.9 L667.9 1234.9 L676.2 1234.1 L679.1 1234.5 L677.9 1231.2 L676.8 1227.1 L677.4 1224.1 L673.8 1223.5 L670.9 1221.2 L669.7 1217.1 L670.3 1213.5 L672.6 1210 L676.2 1206.5 L680.9 1204.1 M672.6 1196.5 L670.9 1200.6 L668.5 1205.3 L665.6 1211.2 L662.6 1215.9 L663.2 1217.1 L667.9 1214.1 L671.5 1211.2 L673.8 1207.6 L675.6 1202.9 L676.8 1199.4 M518.6 1270 L517.2 1272.8 L515.3 1274.2 L513.4 1273.8 L511.5 1276.1 L508.7 1275.6 L505.9 1277.1 L502.1 1278 L498.4 1279.4 L494.6 1280.8 L490.8 1282.7 L487.1 1283.2 L482.4 1284.1 L478.6 1285.1 L477.6 1287.4 L478.1 1290.2 L476.2 1292.1 L475.3 1294.5 L474.4 1297.3 L472.9 1299.2 L472 1301.5 L470.1 1302.9 L468.2 1302.5 L467.3 1304.8 L465.4 1306.2 L464 1308.6 L462.1 1310.5 L459.3 1311.9 L456.5 1313.8 L454.1 1316.1 L452.2 1318.5 L450.8 1317.1 L450.4 1315.2 L448.5 1316.6 L447.1 1318.9 L446.1 1322.7 L445.6 1325.5 L443.8 1326.5 L443.3 1327.9 L445.2 1328.8 L448 1327.9 L449.4 1330.2 L448.9 1333.1 L447.1 1335.9 L444.2 1338.7 L441.9 1340.6 L440 1341.5 M470.1 1311.4 L472.9 1310 L477.2 1309.1 L479.5 1311.4 L481.9 1314.2 L484.2 1317.1 L486.6 1318 L485.2 1321.3 L482.4 1324.6 L479.5 1326 L476.2 1326.5 L475.3 1323.6 L473.9 1320.8 L472 1317.1 L470.6 1314.2 L470.1 1311.4 M459.3 1324.6 L460.2 1322.2 L461.6 1318.9 L463.5 1317.1 L465.9 1317.5 L467.3 1319.9 L469.2 1318.9 L472 1321.3 L474.4 1324.6 L475.3 1326.9 L472.9 1328.4 L471.5 1331.2 L469.6 1332.6 L470.1 1334.9 L468.2 1334 L465.9 1334.5 L464 1334.9 L467.3 1335.9 L470.1 1337.3 L471.5 1339.6 L470.1 1341.5 L468.7 1340.1 L467.3 1339.6 L463.5 1339.2 L460.2 1339.2 L456.5 1340.6 L453.2 1342.5 L450.4 1341.1 L447.5 1340.1 L446.6 1337.8 L448.5 1334.9 L449.9 1332.1 L450.4 1328.4 L449.9 1325.5 L451.3 1322.7 L453.2 1319.9 L455.5 1318.5 L458.4 1317.1 L460.7 1316.1 M458.8 1347.2 L461.6 1344.8 L465.4 1343.9 L468.2 1345.3 L471.1 1347.2 L471.1 1350 L468.2 1351.4 L464.5 1351.7 L461.2 1351.9 L458.8 1350 L458.8 1347.2 M446.1 1350 L447.5 1346.7 L449.4 1345.3 L451.3 1347.2 L451.8 1350 L449.4 1352.4 L446.6 1352.6 L446.1 1350 M460.2 1354.7 L463.5 1353.8 L467.3 1354.2 L470.6 1355.6 L472 1358.5 L470.1 1361.3 L467.3 1359.9 L464.5 1358 L461.6 1356.6 L460.2 1354.7 M478.6 1334 L479.5 1331.6 L481.4 1331.2 L484.2 1328.8 L486.1 1328.4 L488.5 1330.2 L489.9 1332.6 L488 1334.9 L485.2 1335.9 L482.8 1337.3 L481.4 1339.6 L483.3 1339.2 L487.1 1339.2 L488.9 1340.1 L487.5 1341.5 L484.2 1342 L481.9 1343.4 L480.5 1341.5 L480 1338.7 L479.5 1335.9 L478.6 1334 M490.8 1326 L492.7 1325.1 L494.6 1327.4 L496.5 1331.2 L495.5 1334.9 L493.6 1334 L491.8 1330.7 L490.6 1327.9 L490.8 1326 M493.2 1339.6 L495.1 1338.7 L496.5 1340.1 L498.4 1340.6 L499.3 1342.5 L497.4 1343.7 L495.5 1342 L493.6 1341.5 L493.2 1339.6 M495.1 1348.3 L499.8 1347.9 L497.4 1351.4 L494.6 1353.3 L491.3 1352.8 L493.2 1350.5 L495.1 1348.3 M488.9 1356.1 L492.7 1354.7 L495.1 1355.2 L493.2 1357.1 L489.9 1358.5 L488.5 1357.5 L488.9 1356.1 M477.6 1348.1 L480.5 1347.2 L483.3 1347.6 L484.7 1350 L484.2 1352.8 L486.1 1354.7 L487.1 1356.6 L485.2 1358.5 L483.3 1360.4 L481.4 1362.7 L479.1 1364.1 L477.6 1362.2 L479.5 1359.4 L477.6 1358.5 L475.3 1358 L474.4 1355.6 L476.2 1354.2 L478.6 1355.2 L480.5 1353.8 L479.5 1350.9 L477.6 1348.1 M491.8 1360.8 L494.6 1359.4 L497.4 1358 L501.2 1357.1 L504.9 1358 L507.8 1359.9 L505.9 1361.8 L504 1363.2 L503.1 1366 L503.5 1368.8 L504.9 1366.9 L504.5 1364.1 L505.9 1362.7 L509.6 1361.8 L512.5 1363.2 L514.8 1366 L516.7 1368.8 L518.1 1372.6 L519.1 1376.4 L518.1 1379.6 L515.3 1380.1 L512.5 1379.2 L510.6 1380.6 L507.3 1380.1 L504.9 1379.6 L503.1 1378.2 L500.2 1376.4 L497.4 1375.4 L495.5 1374.5 L492.7 1374.9 L489.9 1374.5 L487.1 1375.4 L484.7 1374.9 L484.2 1372.1 L483.8 1368.8 L482.8 1366 L484.2 1363.6 L487.1 1364.1 L488.9 1366 L490.8 1364.6 L493.6 1365.1 L495.5 1366.9 L498.4 1366.5 L500.2 1364.6 L497.4 1364.1 L494.6 1363.6 L492.7 1362.7 L491.8 1360.8 M487.1 1390 L488 1386.7 L489.9 1384.4 L492.2 1381.5 L495.1 1379.6 L498.4 1380.6 L502.1 1382 L505.9 1382.5 L509.6 1382.9 L514.4 1382.5 L518.1 1383.9 L520 1386.2 L524.7 1387.6 L529.4 1389.1 L533.2 1390 M453.6 1390 L453.2 1387.6 L452.2 1382.9 L451.3 1378.2 L451.8 1373.5 L452.2 1368.8 L453.2 1365.1 L456 1362.7 L459.8 1362.2 L463.5 1363.2 L467.3 1364.6 L469.6 1366.9 L468.2 1368.8 L465.4 1368.4 L463.5 1369.8 L466.8 1371.2 L469.2 1373.5 L470.1 1376.4 L468.2 1378.2 L465.4 1377.3 L462.6 1378.2 L464.9 1380.1 L468.2 1381.1 L469.2 1382.9 L467.3 1383.9 L464 1382.9 L462.1 1384.4 L463.5 1386.7 L462.6 1390 M474.8 1354.7 L477.2 1353.8 L479.5 1355.2 L480.5 1357.5 L478.6 1358.9 L476.7 1358 L475.3 1359.4 L474.8 1363.2 L476.2 1366 L477.6 1368.8 L479.5 1371.6 L480 1374.5 L477.6 1375.4 L475.3 1374.5 L473.9 1371.6 L472.9 1367.9 L472.5 1364.1 L473.4 1360.4 L474.4 1357.5 L474.8 1354.7 M440 1348.1 L443.8 1350 L448.5 1351.9 L453.2 1352.8 L457.9 1353.3 M450.9 1360.6 L450.3 1366.5 L449.7 1372.4 L448.5 1377.1 L445.6 1378.2 L442.1 1378.8 L438.5 1380 L435 1377.6 L432.6 1374.7 L432.1 1371.8 L429.1 1370.9 L425.6 1370 L422.6 1367.6 L419.7 1365.3 L417.4 1362.4 L413.8 1360.6 L410.3 1357.1 L406.8 1353.5 L402.1 1351.2 L397.4 1350 L392.6 1350.6 L390.3 1354.1 L386.8 1354.7 L382.6 1357.6 L382.1 1361.8 L379.7 1366.5 L376.8 1371.2 L374.4 1377.1 L373.2 1382.9 L371.5 1387.1 L365.6 1388.2 L360.9 1390 L356.2 1393.5 L353.2 1397.1 L354.4 1399.4 L358.5 1401.2 L364.4 1400.6 L369.1 1398.2 L372.6 1395.9 L375.6 1399.4 L379.7 1401.8 L384.4 1402.4 L389.1 1400.6 L392.6 1397.6 L395.6 1394.7 L399.1 1395.3 L403.2 1394.7 L407.9 1393.5 L412.6 1392.4 L415.6 1392.9 L416.2 1395.9 L415.6 1400.6 L413.8 1405.3 L412.6 1410 L412.1 1413.5 L410.3 1415.9 L406.8 1417.1 L403.8 1418.2 L402.1 1420.6 L400.9 1423.5 L403.2 1426.5 L407.9 1427.1 L411.5 1427.6 L415 1427.6 L412.6 1430.6 L410.3 1434.1 L407.4 1437.6 L405.6 1440 M417.4 1370 L424.4 1370.6 L429.1 1371.2 L426.8 1375.9 L424.4 1380.6 L419.7 1385.3 L417.9 1384.1 L418.5 1380.6 L422.1 1379.4 L421.5 1377.6 L417.9 1376.5 L416.2 1374.1 L417.4 1370 M410.9 1379.4 L412.6 1377.6 L415 1379.4 L413.8 1381.8 L411.5 1381.5 L410.9 1379.4 M409.7 1387.9 L411.2 1386.7 L412.6 1388.2 L411.2 1389.5 L409.7 1387.9 M466.8 1380.6 L464.4 1379.4 L462.6 1378.2 L464.4 1377.1 L467.9 1375.9 L470.3 1377.1 L469.1 1379.4 L466.8 1381.8 L464.4 1385.3 L462.6 1390 L459.7 1394.7 L457.4 1399.4 L453.8 1401.8 L450.9 1402.9 L449.7 1407.6 L448.5 1413.5 L446.2 1418.8 L442.1 1418.8 L438.5 1417.6 L439.7 1413.5 L440.9 1410 L439.1 1408.2 L436.8 1410 L435 1413.5 L432.6 1417.6 L429.1 1420.6 L425.6 1420.6 L426.2 1414.7 L425 1412.4 L423.2 1415.9 L421.5 1419.4 L420.3 1414.7 L420.9 1408.8 L422.6 1404.7 L425 1400.6 L425.6 1395.9 L423.2 1392.4 L424.4 1388.8 L427.9 1389.4 L429.1 1392.4 L430.9 1395.3 L436.2 1395.9 L440.9 1396.5 L445 1394.7 L446.8 1390 L449.7 1386.5 L452.6 1382.9 M438.5 1390 L440.9 1387.9 L445 1388.2 L446.2 1390 L443.8 1392.1 L440.3 1392.1 L438.5 1390 M485 1408.8 L482.1 1411.2 L479.1 1414.1 L475.6 1416.5 L475 1419.4 L472.6 1421.2 L470.3 1420.6 L467.9 1422.4 L467.4 1425.3 L470.3 1427.1 L467.9 1427.6 L464.4 1428.2 L459.7 1429.4 L456.2 1431.2 L453.8 1433.5 L452.6 1436.5 L451.5 1440 M475 1416.5 L477.4 1413.5 L479.7 1410 L482.1 1406.5 L485 1402.9 L486.8 1399.4 L488.5 1395.9 L487.4 1392.4 L486.2 1388.2 L487.9 1385.3 L491.5 1383.5 L492.6 1380.6 L495.6 1379.4 L498.5 1381.8 L502.1 1384.1 L505.6 1382.9 L509.1 1381.2 L512.6 1380 L516.2 1381.2 L519.1 1384.1 L520.9 1387.6 L522.1 1391.2 L524.4 1389.4 L527.9 1388.2 L531.5 1387.6 L535 1390 L537.4 1393.5 L537.9 1396.5 L535.6 1397.6 L532.6 1396.5 L530.3 1397.1 L533.8 1398.8 L536.2 1400.6 L539.7 1401.8 L542.1 1403.5 L540.9 1406.5 L537.9 1408.2 L535.6 1409.4 L533.8 1412.4 L532.6 1415.9 L530.9 1418.2 L530.3 1421.8 L528.5 1425.3 L526.8 1427.6 L527.4 1430.6 L525 1432.9 L523.8 1435.9 L524.4 1440 M505.6 1361.8 L503.2 1364.7 L503 1368.8 L504.4 1370 L505 1366.5 L506.8 1362.9 M560.3 1413.5 L563.2 1411.2 L566.2 1408.8 L567.9 1406.5 L570.9 1405.9 L574.4 1407.1 L573.8 1410 L570.9 1411.8 L569.1 1412.4 L570.3 1415.9 L569.7 1419.4 L570.9 1422.9 L569.1 1426.5 L566.8 1424.1 L564.4 1420.6 L562.1 1417.6 L560.3 1413.5 M566.2 1411.2 L569.1 1413.5 L570.3 1416.5 M572.6 1417.1 L574.4 1416.1 L576.2 1418.2 L574.8 1420.8 L572.9 1419.4 L572.6 1417.1 M585 1394.7 L586.8 1392.4 L587.7 1394.1 L585.8 1396.5 L585 1394.7 M594.4 1358.2 L597.4 1356.5 L601.5 1354.1 L604.4 1351.2 L606.8 1348.2 L608.5 1347.6 L610.3 1352.4 L606.8 1353.5 L605 1355.9 L606.2 1358.2 L603.2 1360 L599.7 1361.2 L596.8 1360.6 L594.4 1358.2 M601.5 1354.1 L604.4 1355.3 L605.6 1358.2 M600.9 1295.9 L602.6 1294.1 L604.4 1295.9 L603.8 1298.8 L602.1 1300 L600.6 1298.2 L600.9 1295.9 M588.5 1297.6 L591.5 1297.1 L593.8 1299.4 L597.4 1302.9 L600.9 1305.9 L602.1 1308.8 L598.5 1310.6 L595 1308.8 L592.6 1305.3 L590.9 1301.8 L588.5 1297.6 M607.9 1292.9 L611.5 1291.8 L615 1294.5 M625 1335.9 L622.1 1334.5 L617.9 1333.5 L615.6 1335.9 L614.4 1339.4 L612.6 1343.5 L611.5 1346.5 L615 1349.8 M615.2 1399.4 L615.8 1395.9 L615.6 1391.2 L614.4 1387.1 L611.5 1387.6 L612.1 1392.4 L611.5 1397.1 L613.2 1401.8 L615 1406.2 M615 1294.7 L618.5 1297.1 L622.1 1298.8 L623.8 1301.2 L622.6 1304.1 L619.7 1306.5 L617.4 1309.4 L617.9 1313.5 L620.3 1316.5 L623.2 1317.6 L624.4 1320.6 L623.8 1324.1 L625.6 1327.6 L627.4 1330.6 L626.8 1332.9 L625 1335.6 M615 1350 L618.5 1352.4 L620.9 1355.9 L622.1 1360.6 L625.6 1364.1 L628.5 1367.1 L631.5 1368.2 L632.1 1372.4 L632.6 1375.9 L636.2 1377.1 L641.5 1376.5 L640.3 1378.8 L638.5 1380.6 L638.5 1384.7 L642.6 1385.5 L638.5 1385.9 L634.4 1385.5 L638.5 1386.5 L640.3 1388.8 L644.4 1390 L649.1 1392.4 L653.8 1391.2 L658.5 1391.8 L662.1 1394.1 L665 1397.6 L665.6 1400.6 L662.6 1398.8 L659.7 1395.9 L656.2 1394.1 L651.5 1394.1 L646.8 1393.5 L642.1 1391.8 L637.4 1390 L633.8 1389.8 L631.5 1391.8 L632.6 1394.7 L635.6 1397.6 L638.5 1400 L642.1 1401.2 L645.6 1401.8 L649.1 1401.2 L652.6 1401.8 L653.8 1402.9 L650.3 1405.3 L646.8 1407.6 L643.2 1410 L640.3 1412.4 L642.1 1414.7 L645 1416.5 L642.6 1418.2 L641.5 1421.8 L640.3 1425.3 L637.4 1427.1 L636.8 1431.2 L636.2 1435.9 L635.6 1440 M615 1399.4 L617.4 1402.9 L619.7 1407.6 L622.1 1412.4 L625 1415.3 L629.1 1415.9 L632.6 1415.3 L631.5 1417.6 L628.5 1419.4 L625 1420.6 L622.1 1418.2 L619.1 1413.5 L616.2 1408.8 L615 1406.5 M412.6 1430 L410.3 1433.5 L407.4 1437.6 L404.4 1441.8 L401.5 1444.1 L399.1 1444.7 L397.9 1448.8 L396.8 1453.5 L397.4 1458.2 L396.2 1462.4 L394.4 1464.7 L395.6 1467.6 L393.2 1470.6 L390.3 1472.4 L386.8 1473.3 L383.2 1471.8 L379.7 1469.4 L376.2 1467.1 L374.4 1466.7 M375.6 1467.4 L382.1 1471.2 L387.4 1474.1 L386.2 1476.5 L382.1 1476.5 L379.1 1475.6 M458.5 1430 L455 1433.5 L451.5 1438.2 L448.5 1441.8 L446.2 1445.9 L444.4 1451.2 L442.6 1455.3 L440.9 1458.2 L440.3 1462.4 L441.5 1465.9 L443.2 1469.4 L446.2 1473.5 L449.1 1471.8 L452.6 1468.8 L456.2 1465.3 L459.7 1464.1 L463.2 1462.9 L466.8 1460.6 L470.3 1458.2 L473.8 1458.8 L477.4 1460 L480.9 1459.4 L485 1458.2 M526.8 1430 L525.6 1432.9 L523.2 1435.3 L525 1437.1 L521.5 1439.4 L519.1 1441.8 L516.8 1441.2 L517.4 1444.1 L515 1445.3 L513.8 1448.8 L511.5 1447.6 L510.9 1451.8 L507.9 1453.5 L505.6 1455.3 L502.6 1456.5 L498.5 1457.6 L494.4 1458.2 L490.3 1457.6 L486.8 1458.8 L482.1 1460 L477.4 1459.4 L475 1458.8 M500.3 1475.3 L503.2 1473.5 L507.4 1474.7 L508.5 1477.1 L510.9 1476.5 L513.2 1478.2 L516.2 1477.6 L520.3 1478.2 L521.5 1481.8 L520.3 1485.9 L517.4 1488.2 L512.6 1490 L507.9 1490.6 L504.4 1488.2 L501.5 1486.5 L500.3 1484.7 L503.2 1483.5 L503.8 1480.6 L501.5 1478.2 L500.3 1475.3 M625 1447.6 L619.7 1447.4 L613.8 1448.2 L609.1 1449.4 L604.4 1451.2 L602.6 1448.2 L599.7 1446.5 L596.2 1446.5 L592.6 1448.8 L590.9 1451.2 L589.7 1454.7 L586.2 1457.6 L583.8 1461.8 L581.5 1467.6 L579.1 1474.7 L577.4 1481.8 L575.6 1487.6 L572.6 1493.5 L569.1 1498.2 L565.6 1501.8 L563.5 1505.3 L563.8 1510 L565 1514.7 L566.2 1519.4 L567.9 1522.9 L571.5 1524.7 L574.4 1523.5 L576.8 1520.6 L579.1 1516.5 L580.9 1519.4 L583.2 1524.1 L586.2 1529.4 L588.5 1534.1 L589.7 1537.1 L587.9 1538.8 L585 1538.2 L584.4 1535.9 L586.8 1534.1 L589.7 1533.5 L592.6 1536.5 L595 1534.7 L597.4 1531.2 L598.5 1526.5 L597.9 1520.6 L599.7 1514.7 L600.3 1508.8 L597.9 1505.3 L595 1501.8 L593.2 1497.6 L594.4 1492.4 L596.2 1487.6 L597.9 1481.8 L598.5 1477.1 L600.9 1474.7 L604.4 1475.3 L603.2 1479.4 L601.5 1485.3 L601.5 1490 L603.2 1494.7 L605 1499.4 L607.9 1502.4 L612.1 1503.5 L615.6 1500.6 L619.1 1497.6 L622.1 1496.5 L625 1497.6 M555 1566.5 L557.4 1565.9 L560.3 1564.1 L563.2 1561.8 L565 1558.2 L566.2 1554.1 L569.1 1551.2 L572.6 1549.4 L576.2 1548.2 L579.1 1546.5 L578.5 1542.9 L576.8 1539.4 L575.6 1535.3 L576.2 1530.6 L578.5 1527.6 L581.5 1525.3 L582.1 1530 L582.6 1533.5 L581.5 1535.9 L580.9 1538.8 L582.1 1541.2 L585 1543.5 L586.8 1545.3 L589.7 1543.5 L592.6 1541.8 L596.2 1544.1 L599.1 1541.8 L601.5 1539.4 L604.4 1537.1 L607.9 1535.3 L611.5 1535.9 L613.2 1533.5 L615.6 1530 L615 1525.3 L613.8 1520.6 L613.2 1516.5 L616.2 1517.6 L618.5 1518.2 L619.1 1514.7 L618.5 1510.6 L615 1508.8 L613.8 1506.5 L616.2 1504.1 L619.7 1501.8 L625 1500 M625 1461.2 L623.2 1460 L619.7 1459.4 L616.2 1461.2 L619.1 1463.5 L622.1 1466.5 L625 1468.2 M535 1565.3 L538.5 1562.9 L536.2 1562.4 L533.8 1561.2 L534.4 1558.2 L536.8 1556.5 L536.2 1553.5 L538.5 1550.6 L540.9 1548.8 L540.3 1545.9 L537.4 1544.1 L535 1540.6 L536.2 1538.2 L533.8 1535.3 L533.2 1531.2 L534.4 1527.6 L536.2 1524.1 L539.1 1522.9 L542.6 1523.5 L540.9 1526.5 L539.7 1528.2 L544.4 1528.2 L545.6 1530 L544.4 1533.5 L542.1 1536.5 L544.4 1539.4 L546.2 1542.9 L548.5 1545.9 L550.3 1550 L552.6 1553.5 L556.2 1555.3 L556.8 1558.2 L555.6 1561.8 L556.2 1564.7 L553.8 1566.5 M517.4 1557.6 L519.1 1553.5 L519.7 1549.4 L521.5 1546.5 L524.4 1543.5 L527.9 1541.2 L531.5 1540.6 L533.2 1542.9 L532.6 1546.5 L531.5 1550 L530.3 1553.5 L527.9 1556.5 L524.4 1558.2 L520.9 1559.4 L517.4 1557.6 M637.4 1430 L636.8 1434.7 L636.2 1438.8 L637.4 1441.8 L635.6 1444.1 L632.6 1443.5 L632.1 1441.2 L633.2 1439.4 L630.3 1439.2 L627.4 1440.4 L625.8 1441.8 L628.5 1443.5 L630.3 1445.9 L633.2 1447.6 L635 1450.6 L632.6 1451.8 L630.9 1453.5 L631.5 1457.1 L632.6 1460.6 L633.8 1461.8 L631.5 1462.4 L629.1 1463.5 L629.7 1466.5 L630.3 1468.8 L627.4 1469.4 L625 1468.2 L623.2 1465.3 L620.9 1462.9 L618.5 1461.8 L616.2 1461.2 L617.9 1459.4 L622.1 1458.2 L625.6 1456.5 L627.4 1452.9 L626.8 1449.4 L623.8 1447.6 L619.7 1447.1 L615 1447.4 M615 1501.8 L617.9 1499.4 L620.9 1496.5 L623.8 1495.9 L625 1498.2 L623.8 1500.6 L620.9 1501.8 L617.9 1502.9 L615 1505.3 M615 1511.2 L617.4 1510.6 L619.1 1512.9 L619.7 1517.1 L617.9 1518.2 L615 1516.5" fill="none" stroke="#000" stroke-opacity="0.9" stroke-width="0.7" stroke-linejoin="round"/>
<g fill="none" stroke="#b0b0b0" stroke-width="1.7"><circle cx="550.9" cy="1362.5" r="24.90"/><circle cx="550.9" cy="1362.5" r="49.89"/><circle cx="550.9" cy="1362.5" r="75.08"/><circle cx="550.9" cy="1362.5" r="100.56"/><circle cx="550.9" cy="1362.5" r="126.43"/><circle cx="550.9" cy="1362.5" r="152.81"/><circle cx="550.9" cy="1362.5" r="179.81"/><line x1="550.9" y1="1362.5" x2="550.90" y2="1147.50"/><line x1="550.9" y1="1362.5" x2="737.10" y2="1255.00"/><line x1="550.9" y1="1362.5" x2="737.10" y2="1470.00"/><line x1="550.9" y1="1362.5" x2="550.90" y2="1577.50"/><line x1="550.9" y1="1362.5" x2="364.70" y2="1470.00"/><line x1="550.9" y1="1362.5" x2="364.70" y2="1255.00"/></g>
<circle cx="550.9" cy="1362.5" r="1.6" fill="#fff"/>
</g>
<circle cx="550.6" cy="1361.1" r="206.05" fill="none" stroke="#000" stroke-width="1.67"/>
<rect x="790.5" y="236.54" width="41.6" height="25.04" fill="#ff2a00"/>
<rect x="790.5" y="260.98" width="41.6" height="25.04" fill="#ff6600"/>
<rect x="790.5" y="285.42" width="41.6" height="25.04" fill="#ff900e"/>
<rect x="790.5" y="309.85" width="41.6" height="25.04" fill="#fdb41c"/>
<rect x="790.5" y="334.29" width="41.6" height="25.04" fill="#e8cb26"/>
<rect x="790.5" y="358.73" width="41.6" height="25.04" fill="#b0c21c"/>
<rect x="790.5" y="383.17" width="41.6" height="25.04" fill="#7ab317"/>
<rect x="790.5" y="407.61" width="41.6" height="25.04" fill="#3d9f2b"/>
<rect x="790.5" y="432.05" width="41.6" height="25.04" fill="#35866d"/>
<rect x="790.5" y="456.48" width="41.6" height="25.04" fill="#0068b2"/>
<rect x="790.5" y="480.92" width="41.6" height="25.04" fill="#0034f8"/>
<path d="M790.5 237.14 L811.3 223.40 L832.1 237.14 Z" fill="#ff2a00"/>
<path d="M790.5 505.36 L811.3 519.10 L832.1 505.36 Z" fill="#0034f8"/>
<path d="M790.5 236.84 L811.3 223.40 L832.1 236.84 L832.1 505.66 L811.3 519.10 L790.5 505.66 Z" fill="none" stroke="#000" stroke-width="1.67" stroke-linejoin="miter"/>
<text x="893.9" y="268.7" font-size="19.88" text-anchor="end" textLength="52.7" lengthAdjust="spacingAndGlyphs">276.0</text>
<text x="893.9" y="293.1" font-size="19.88" text-anchor="end" textLength="52.7" lengthAdjust="spacingAndGlyphs">274.0</text>
<text x="893.9" y="317.6" font-size="19.88" text-anchor="end" textLength="52.7" lengthAdjust="spacingAndGlyphs">272.0</text>
<text x="893.9" y="342.0" font-size="19.88" text-anchor="end" textLength="52.7" lengthAdjust="spacingAndGlyphs">270.0</text>
<text x="893.9" y="366.4" font-size="19.88" text-anchor="end" textLength="52.7" lengthAdjust="spacingAndGlyphs">268.0</text>
<text x="893.9" y="390.9" font-size="19.88" text-anchor="end" textLength="52.7" lengthAdjust="spacingAndGlyphs">264.0</text>
<text x="893.9" y="415.3" font-size="19.88" text-anchor="end" textLength="52.7" lengthAdjust="spacingAndGlyphs">262.0</text>
<text x="893.9" y="439.7" font-size="19.88" text-anchor="end" textLength="52.7" lengthAdjust="spacingAndGlyphs">260.0</text>
<text x="893.9" y="464.2" font-size="19.88" text-anchor="end" textLength="52.7" lengthAdjust="spacingAndGlyphs">258.0</text>
<text x="893.9" y="488.6" font-size="19.88" text-anchor="end" textLength="52.7" lengthAdjust="spacingAndGlyphs">256.0</text>
<rect x="790.5" y="731.54" width="41.6" height="25.04" fill="#ff2a00"/>
<rect x="790.5" y="755.98" width="41.6" height="25.04" fill="#ff6600"/>
<rect x="790.5" y="780.42" width="41.6" height="25.04" fill="#ff900e"/>
<rect x="790.5" y="804.85" width="41.6" height="25.04" fill="#fdb41c"/>
<rect x="790.5" y="829.29" width="41.6" height="25.04" fill="#e8cb26"/>
<rect x="790.5" y="853.73" width="41.6" height="25.04" fill="#b0c21c"/>
<rect x="790.5" y="878.17" width="41.6" height="25.04" fill="#7ab317"/>
<rect x="790.5" y="902.61" width="41.6" height="25.04" fill="#3d9f2b"/>
<rect x="790.5" y="927.05" width="41.6" height="25.04" fill="#35866d"/>
<rect x="790.5" y="951.48" width="41.6" height="25.04" fill="#0068b2"/>
<rect x="790.5" y="975.92" width="41.6" height="25.04" fill="#0034f8"/>
<path d="M790.5 732.14 L811.3 718.40 L832.1 732.14 Z" fill="#ff2a00"/>
<path d="M790.5 1000.36 L811.3 1014.10 L832.1 1000.36 Z" fill="#0034f8"/>
<path d="M790.5 731.84 L811.3 718.40 L832.1 731.84 L832.1 1000.66 L811.3 1014.10 L790.5 1000.66 Z" fill="none" stroke="#000" stroke-width="1.67" stroke-linejoin="miter"/>
<text x="893.9" y="763.7" font-size="19.88" text-anchor="end" textLength="52.7" lengthAdjust="spacingAndGlyphs">276.0</text>
<text x="893.9" y="788.1" font-size="19.88" text-anchor="end" textLength="52.7" lengthAdjust="spacingAndGlyphs">274.0</text>
<text x="893.9" y="812.6" font-size="19.88" text-anchor="end" textLength="52.7" lengthAdjust="spacingAndGlyphs">272.0</text>
<text x="893.9" y="837.0" font-size="19.88" text-anchor="end" textLength="52.7" lengthAdjust="spacingAndGlyphs">270.0</text>
<text x="893.9" y="861.4" font-size="19.88" text-anchor="end" textLength="52.7" lengthAdjust="spacingAndGlyphs">268.0</text>
<text x="893.9" y="885.9" font-size="19.88" text-anchor="end" textLength="52.7" lengthAdjust="spacingAndGlyphs">264.0</text>
<text x="893.9" y="910.3" font-size="19.88" text-anchor="end" textLength="52.7" lengthAdjust="spacingAndGlyphs">262.0</text>
<text x="893.9" y="934.7" font-size="19.88" text-anchor="end" textLength="52.7" lengthAdjust="spacingAndGlyphs">260.0</text>
<text x="893.9" y="959.2" font-size="19.88" text-anchor="end" textLength="52.7" lengthAdjust="spacingAndGlyphs">258.0</text>
<text x="893.9" y="983.6" font-size="19.88" text-anchor="end" textLength="52.7" lengthAdjust="spacingAndGlyphs">256.0</text>
<rect x="790.5" y="1226.54" width="41.6" height="21.28" fill="#ff2a00"/>
<rect x="790.5" y="1247.22" width="41.6" height="21.28" fill="#ff4d33"/>
<rect x="790.5" y="1267.90" width="41.6" height="21.28" fill="#ff705c"/>
<rect x="790.5" y="1288.58" width="41.6" height="21.28" fill="#ff9585"/>
<rect x="790.5" y="1309.25" width="41.6" height="21.28" fill="#ffb9ad"/>
<rect x="790.5" y="1329.93" width="41.6" height="21.28" fill="#ffdcd6"/>
<rect x="790.5" y="1350.61" width="41.6" height="21.28" fill="#ffffff"/>
<rect x="790.5" y="1371.29" width="41.6" height="21.28" fill="#d6defe"/>
<rect x="790.5" y="1391.97" width="41.6" height="21.28" fill="#adbcfd"/>
<rect x="790.5" y="1412.65" width="41.6" height="21.28" fill="#859bfc"/>
<rect x="790.5" y="1433.32" width="41.6" height="21.28" fill="#5c79fb"/>
<rect x="790.5" y="1454.00" width="41.6" height="21.28" fill="#3358fa"/>
<rect x="790.5" y="1474.68" width="41.6" height="21.28" fill="#0a36f9"/>
<path d="M790.5 1227.14 L811.3 1213.40 L832.1 1227.14 Z" fill="#ff2a00"/>
<path d="M790.5 1495.36 L811.3 1509.10 L832.1 1495.36 Z" fill="#0a36f9"/>
<path d="M790.5 1226.84 L811.3 1213.40 L832.1 1226.84 L832.1 1495.66 L811.3 1509.10 L790.5 1495.66 Z" fill="none" stroke="#000" stroke-width="1.67" stroke-linejoin="miter"/>
<text x="883.9" y="1254.9" font-size="19.88" text-anchor="end" textLength="40.7" lengthAdjust="spacingAndGlyphs">15.0</text>
<text x="883.9" y="1275.6" font-size="19.88" text-anchor="end" textLength="40.7" lengthAdjust="spacingAndGlyphs">10.0</text>
<text x="883.9" y="1296.3" font-size="19.88" text-anchor="end" textLength="28.8" lengthAdjust="spacingAndGlyphs">7.5</text>
<text x="883.9" y="1317.0" font-size="19.88" text-anchor="end" textLength="28.8" lengthAdjust="spacingAndGlyphs">5.0</text>
<text x="883.9" y="1337.6" font-size="19.88" text-anchor="end" textLength="28.8" lengthAdjust="spacingAndGlyphs">2.5</text>
<text x="883.9" y="1358.3" font-size="19.88" text-anchor="end" textLength="28.8" lengthAdjust="spacingAndGlyphs">1.0</text>
<text x="883.9" y="1379.0" font-size="19.88" text-anchor="end" textLength="35.6" lengthAdjust="spacingAndGlyphs">-1.0</text>
<text x="883.9" y="1399.7" font-size="19.88" text-anchor="end" textLength="35.6" lengthAdjust="spacingAndGlyphs">-2.5</text>
<text x="883.9" y="1420.3" font-size="19.88" text-anchor="end" textLength="35.6" lengthAdjust="spacingAndGlyphs">-5.0</text>
<text x="883.9" y="1441.0" font-size="19.88" text-anchor="end" textLength="35.6" lengthAdjust="spacingAndGlyphs">-7.5</text>
<text x="883.9" y="1461.7" font-size="19.88" text-anchor="end" textLength="47.5" lengthAdjust="spacingAndGlyphs">-10.0</text>
<text x="883.9" y="1482.4" font-size="19.88" text-anchor="end" textLength="47.5" lengthAdjust="spacingAndGlyphs">-15.0</text>
</svg></body></html>
